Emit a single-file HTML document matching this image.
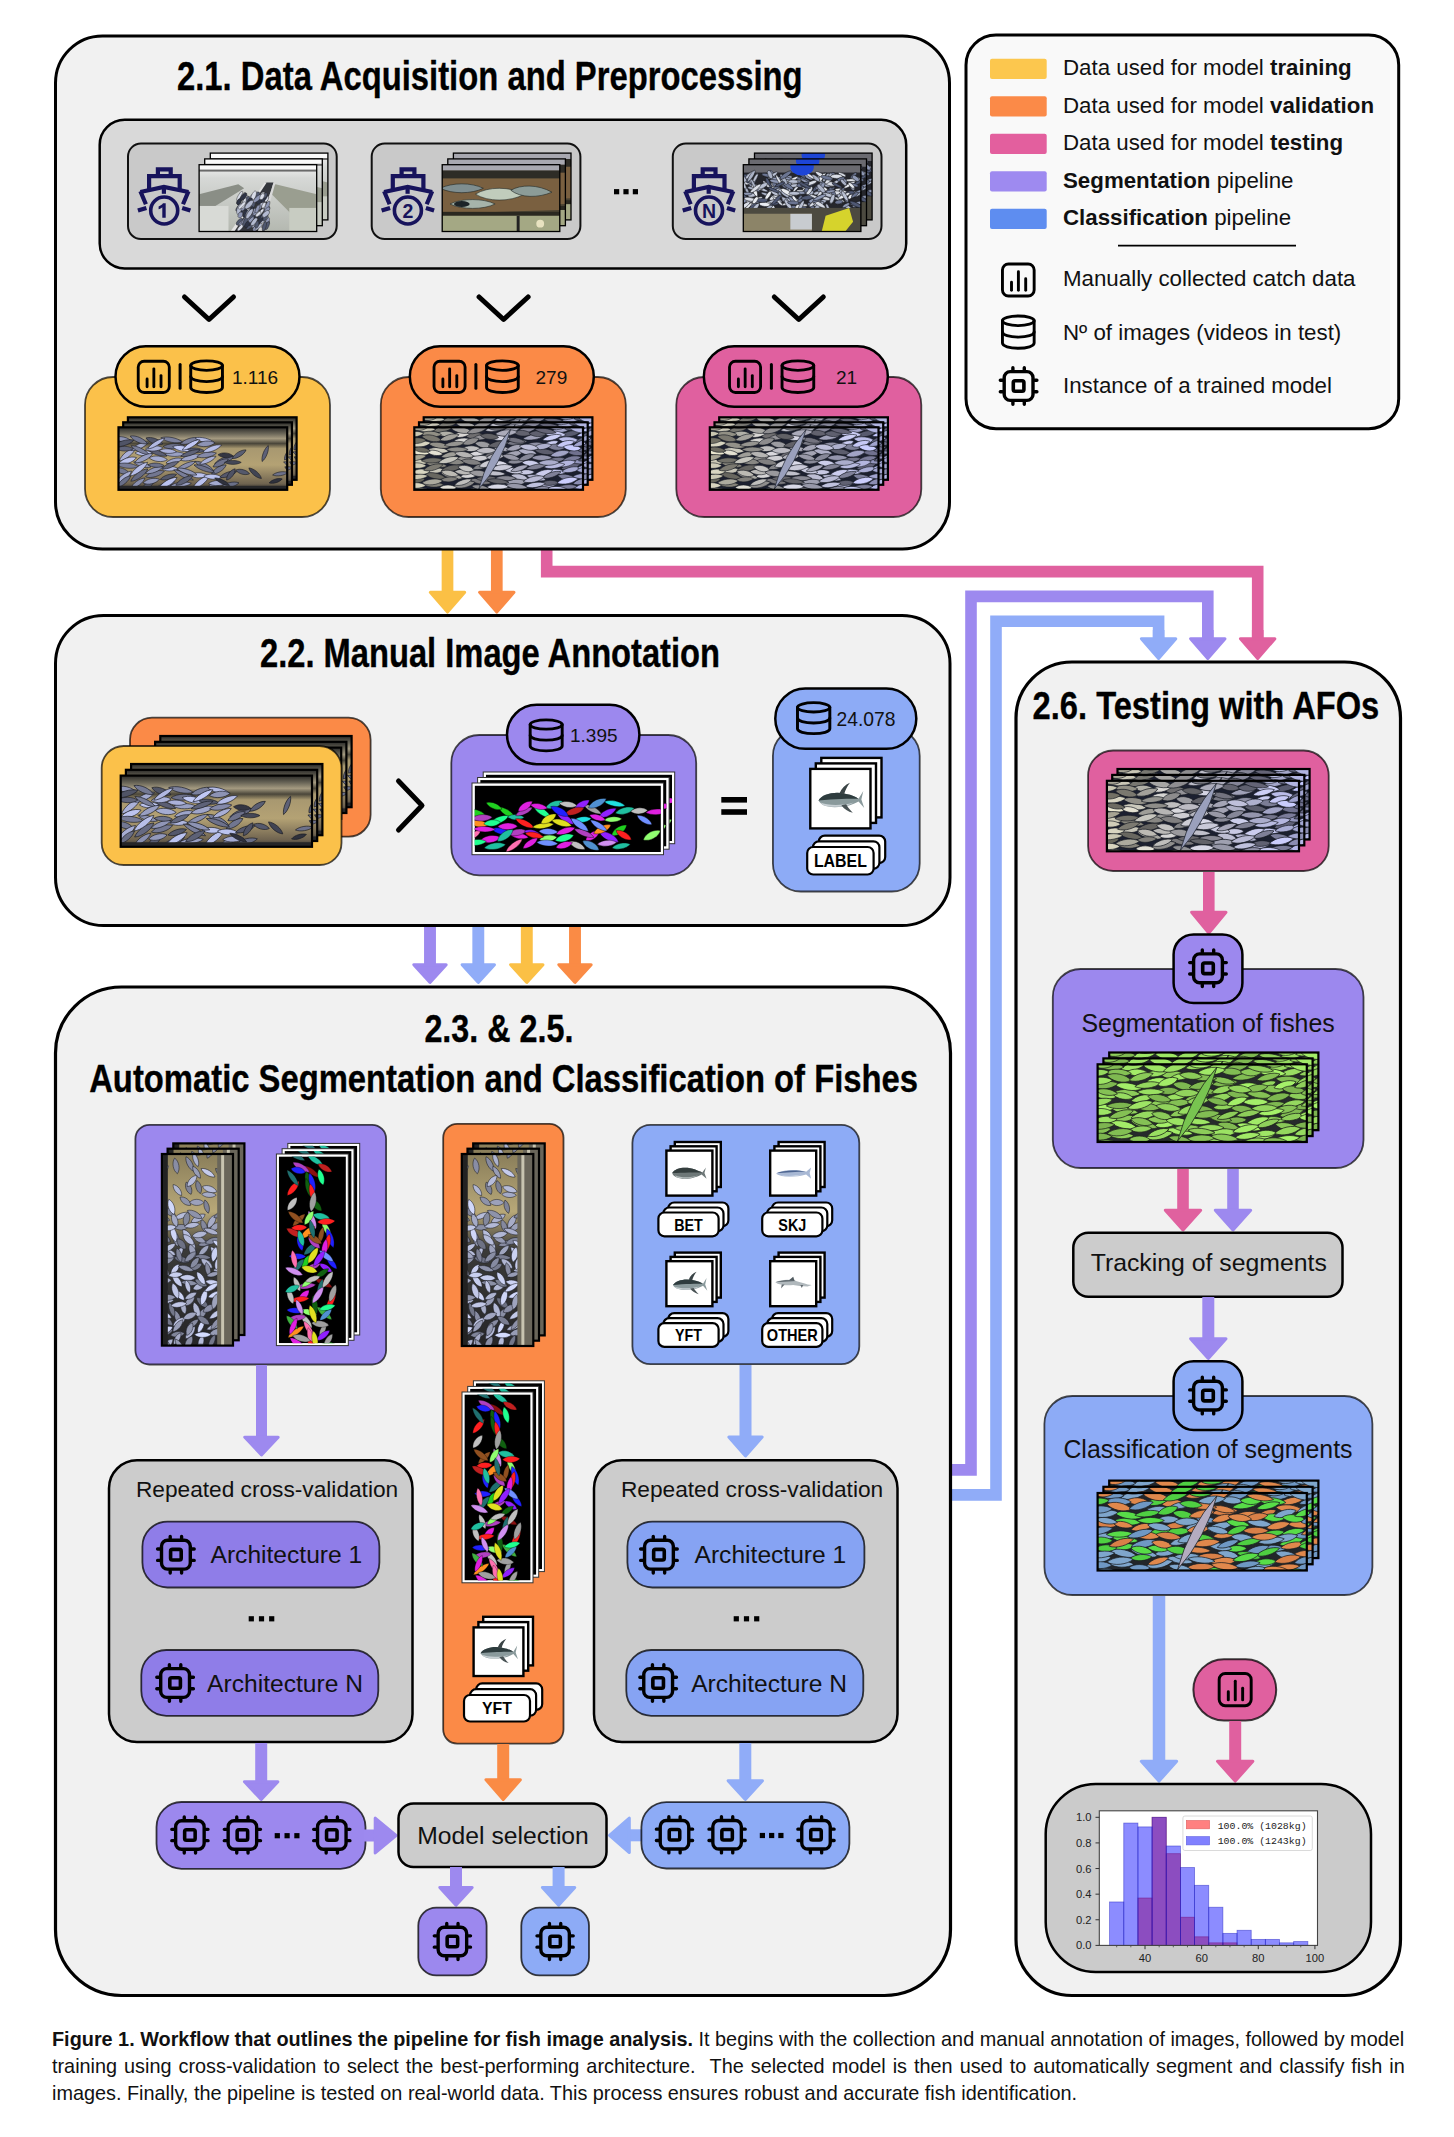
<!DOCTYPE html>
<html><head><meta charset="utf-8"><title>Figure 1</title>
<style>
html,body{margin:0;padding:0;background:#fff;}
body{width:1454px;height:2137px;position:relative;overflow:hidden;font-family:"Liberation Sans",sans-serif;}
svg{position:absolute;left:0;top:0;}
.cap{position:absolute;left:52px;width:1352px;font-size:19.85px;line-height:27.2px;color:#111;white-space:nowrap;}
.j{text-align:justify;text-align-last:justify;white-space:normal;}
</style></head><body>
<svg width="1454" height="2137" viewBox="0 0 1454 2137">
<defs><symbol id="pile_tuna" viewBox="0 0 210 78" preserveAspectRatio="none"><rect width="210" height="78" fill="#000"/><rect width="210" height="78" fill="#1c2030"/><g stroke="#141820" stroke-width="0.7"><path d="M-13.1 0C-6.6-4.9 6.6-4.9 13.1 0C6.6 4.9-6.6 4.9-13.1 0Z" fill="#adadb4" transform="translate(90.9 81.5)rotate(8)"/><path d="M-12.1 0C-6.1-4.3 6.1-4.3 12.1 0C6.1 4.3-6.1 4.3-12.1 0Z" fill="#c5c3b6" transform="translate(26.0 54.2)rotate(-6)"/><path d="M-11.0 0C-5.5-4.9 5.5-4.9 11.0 0C5.5 4.9-5.5 4.9-11.0 0Z" fill="#bdbed3" transform="translate(131.1 61.9)rotate(12)"/><path d="M-13.0 0C-6.5-4.1 6.5-4.1 13.0 0C6.5 4.1-6.5 4.1-13.0 0Z" fill="#bfc3ff" transform="translate(231.1 46.5)rotate(5)"/><path d="M-11.4 0C-5.7-4.8 5.7-4.8 11.4 0C5.7 4.8-5.7 4.8-11.4 0Z" fill="#bfbebf" transform="translate(70.8 26.7)rotate(-1)"/><path d="M-11.5 0C-5.8-4.1 5.8-4.1 11.5 0C5.8 4.1-5.8 4.1-11.5 0Z" fill="#c5c7ef" transform="translate(177.6 55.6)rotate(4)"/><path d="M-13.6 0C-6.8-4.7 6.8-4.7 13.6 0C6.8 4.7-6.8 4.7-13.6 0Z" fill="#686760" transform="translate(26.1 60.7)rotate(12)"/><path d="M-12.1 0C-6.0-4.8 6.0-4.8 12.1 0C6.0 4.8-6.0 4.8-12.1 0Z" fill="#a3a192" transform="translate(10.1 79.5)rotate(5)"/><path d="M-10.7 0C-5.3-4.6 5.3-4.6 10.7 0C5.3 4.6-5.3 4.6-10.7 0Z" fill="#c9cbf0" transform="translate(169.3 21.0)rotate(-20)"/><path d="M-12.5 0C-6.2-5.0 6.2-5.0 12.5 0C6.2 5.0-6.2 5.0-12.5 0Z" fill="#a4a6ca" transform="translate(184.0 2.5)rotate(-11)"/><path d="M-10.5 0C-5.3-4.3 5.3-4.3 10.5 0C5.3 4.3-5.3 4.3-10.5 0Z" fill="#c8c9e3" transform="translate(139.3 56.1)rotate(-2)"/><path d="M-10.7 0C-5.3-5.2 5.3-5.2 10.7 0C5.3 5.2-5.3 5.2-10.7 0Z" fill="#6f6e70" transform="translate(75.0 10.4)rotate(-5)"/><path d="M-11.4 0C-5.7-4.5 5.7-4.5 11.4 0C5.7 4.5-5.7 4.5-11.4 0Z" fill="#9f9e98" transform="translate(44.7 34.4)rotate(-13)"/><path d="M-12.4 0C-6.2-4.2 6.2-4.2 12.4 0C6.2 4.2-6.2 4.2-12.4 0Z" fill="#85837a" transform="translate(24.1 71.5)rotate(1)"/><path d="M-13.4 0C-6.7-5.2 6.7-5.2 13.4 0C6.7 5.2-6.7 5.2-13.4 0Z" fill="#9fa0b0" transform="translate(126.1 68.7)rotate(-4)"/><path d="M-13.8 0C-6.9-4.4 6.9-4.4 13.8 0C6.9 4.4-6.9 4.4-13.8 0Z" fill="#a0a1b8" transform="translate(148.7 12.2)rotate(-10)"/><path d="M-12.9 0C-6.5-4.6 6.5-4.6 12.9 0C6.5 4.6-6.5 4.6-12.9 0Z" fill="#5c5d6d" transform="translate(162.6 30.5)rotate(8)"/><path d="M-13.0 0C-6.5-4.8 6.5-4.8 13.0 0C6.5 4.8-6.5 4.8-13.0 0Z" fill="#777884" transform="translate(127.8 18.9)rotate(-6)"/><path d="M-13.9 0C-6.9-4.5 6.9-4.5 13.9 0C6.9 4.5-6.9 4.5-13.9 0Z" fill="#89877e" transform="translate(27.3 46.4)rotate(9)"/><path d="M-12.3 0C-6.1-5.0 6.1-5.0 12.3 0C6.1 5.0-6.1 5.0-12.3 0Z" fill="#d5d4d5" transform="translate(69.5 59.5)rotate(-11)"/><path d="M-11.5 0C-5.8-5.2 5.8-5.2 11.5 0C5.8 5.2-5.8 5.2-11.5 0Z" fill="#adb0e2" transform="translate(218.9 82.2)rotate(-16)"/><path d="M-13.3 0C-6.7-4.9 6.7-4.9 13.3 0C6.7 4.9-6.7 4.9-13.3 0Z" fill="#787771" transform="translate(36.0 2.0)rotate(-14)"/><path d="M-13.0 0C-6.5-4.6 6.5-4.6 13.0 0C6.5 4.6-6.5 4.6-13.0 0Z" fill="#cccabd" transform="translate(30.3 28.8)rotate(5)"/><path d="M-13.8 0C-6.9-4.1 6.9-4.1 13.8 0C6.9 4.1-6.9 4.1-13.8 0Z" fill="#6f6f78" transform="translate(114.0 77.6)rotate(4)"/><path d="M-10.8 0C-5.4-4.2 5.4-4.2 10.8 0C5.4 4.2-5.4 4.2-10.8 0Z" fill="#aaaab7" transform="translate(109.0 26.8)rotate(8)"/><path d="M-12.7 0C-6.3-4.7 6.3-4.7 12.7 0C6.3 4.7-6.3 4.7-12.7 0Z" fill="#6f6e75" transform="translate(99.7 33.2)rotate(-13)"/><path d="M-13.0 0C-6.5-4.5 6.5-4.5 13.0 0C6.5 4.5-6.5 4.5-13.0 0Z" fill="#585a6f" transform="translate(194.9 8.0)rotate(-12)"/><path d="M-11.1 0C-5.6-4.6 5.6-4.6 11.1 0C5.6 4.6-5.6 4.6-11.1 0Z" fill="#d9d6c1" transform="translate(8.5 55.6)rotate(-2)"/><path d="M-11.6 0C-5.8-4.5 5.8-4.5 11.6 0C5.8 4.5-5.8 4.5-11.6 0Z" fill="#70718e" transform="translate(202.2 31.9)rotate(4)"/><path d="M-11.7 0C-5.8-4.1 5.8-4.1 11.7 0C5.8 4.1-5.8 4.1-11.7 0Z" fill="#73748b" transform="translate(176.4 40.6)rotate(-7)"/><path d="M-13.9 0C-6.9-4.7 6.9-4.7 13.9 0C6.9 4.7-6.9 4.7-13.9 0Z" fill="#d8d8e6" transform="translate(103.8 74.4)rotate(-2)"/><path d="M-12.5 0C-6.2-4.9 6.2-4.9 12.5 0C6.2 4.9-6.2 4.9-12.5 0Z" fill="#cecdd2" transform="translate(80.8 38.6)rotate(-3)"/><path d="M-11.3 0C-5.7-5.1 5.7-5.1 11.3 0C5.7 5.1-5.7 5.1-11.3 0Z" fill="#7b7d95" transform="translate(176.7 24.8)rotate(4)"/><path d="M-12.4 0C-6.2-4.4 6.2-4.4 12.4 0C6.2 4.4-6.2 4.4-12.4 0Z" fill="#cfd0ed" transform="translate(144.8 -4.4)rotate(4)"/><path d="M-13.9 0C-6.9-4.8 6.9-4.8 13.9 0C6.9 4.8-6.9 4.8-13.9 0Z" fill="#a8a7a1" transform="translate(46.8 60.3)rotate(14)"/><path d="M-11.7 0C-5.9-4.4 5.9-4.4 11.7 0C5.9 4.4-5.9 4.4-11.7 0Z" fill="#aaabcb" transform="translate(168.0 71.9)rotate(-15)"/><path d="M-13.9 0C-6.9-4.3 6.9-4.3 13.9 0C6.9 4.3-6.9 4.3-13.9 0Z" fill="#7a797d" transform="translate(82.2 67.5)rotate(10)"/><path d="M-11.8 0C-5.9-5.0 5.9-5.0 11.8 0C5.9 5.0-5.9 5.0-11.8 0Z" fill="#ccceea" transform="translate(145.4 45.0)rotate(7)"/><path d="M-11.3 0C-5.7-4.5 5.7-4.5 11.3 0C5.7 4.5-5.7 4.5-11.3 0Z" fill="#bab9b7" transform="translate(61.3 55.8)rotate(4)"/><path d="M-13.3 0C-6.6-4.1 6.6-4.1 13.3 0C6.6 4.1-6.6 4.1-13.3 0Z" fill="#c4c8ff" transform="translate(215.0 7.8)rotate(-13)"/><path d="M-12.0 0C-6.0-4.8 6.0-4.8 12.0 0C6.0 4.8-6.0 4.8-12.0 0Z" fill="#cacbdf" transform="translate(122.8 54.1)rotate(11)"/><path d="M-12.8 0C-6.4-4.1 6.4-4.1 12.8 0C6.4 4.1-6.4 4.1-12.8 0Z" fill="#7f8093" transform="translate(151.8 49.4)rotate(-11)"/><path d="M-13.8 0C-6.9-4.7 6.9-4.7 13.8 0C6.9 4.7-6.9 4.7-13.8 0Z" fill="#939189" transform="translate(31.0 22.4)rotate(9)"/><path d="M-13.2 0C-6.6-4.1 6.6-4.1 13.2 0C6.6 4.1-6.6 4.1-13.2 0Z" fill="#686b8a" transform="translate(227.0 20.2)rotate(10)"/><path d="M-12.2 0C-6.1-4.6 6.1-4.6 12.2 0C6.1 4.6-6.1 4.6-12.2 0Z" fill="#686a84" transform="translate(199.2 -0.1)rotate(-9)"/><path d="M-12.6 0C-6.3-5.1 6.3-5.1 12.6 0C6.3 5.1-6.3 5.1-12.6 0Z" fill="#606178" transform="translate(194.9 48.8)rotate(-15)"/><path d="M-11.7 0C-5.8-4.5 5.8-4.5 11.7 0C5.8 4.5-5.8 4.5-11.7 0Z" fill="#7b7c9a" transform="translate(196.3 39.4)rotate(-11)"/><path d="M-10.9 0C-5.5-4.6 5.5-4.6 10.9 0C5.5 4.6-5.5 4.6-10.9 0Z" fill="#b1b0a8" transform="translate(40.1 8.3)rotate(3)"/><path d="M-11.1 0C-5.5-4.6 5.5-4.6 11.1 0C5.5 4.6-5.5 4.6-11.1 0Z" fill="#66655a" transform="translate(2.5 66.5)rotate(-9)"/><path d="M-13.4 0C-6.7-4.1 6.7-4.1 13.4 0C6.7 4.1-6.7 4.1-13.4 0Z" fill="#b7b6b6" transform="translate(67.2 80.9)rotate(-19)"/><path d="M-13.9 0C-7.0-5.1 7.0-5.1 13.9 0C7.0 5.1-7.0 5.1-13.9 0Z" fill="#858597" transform="translate(140.2 2.9)rotate(-17)"/><path d="M-12.5 0C-6.2-4.2 6.2-4.2 12.5 0C6.2 4.2-6.2 4.2-12.5 0Z" fill="#7f8096" transform="translate(162.7 -4.3)rotate(-14)"/><path d="M-13.8 0C-6.9-4.1 6.9-4.1 13.8 0C6.9 4.1-6.9 4.1-13.8 0Z" fill="#b4b7e8" transform="translate(209.3 73.7)rotate(-19)"/><path d="M-10.9 0C-5.5-5.2 5.5-5.2 10.9 0C5.5 5.2-5.5 5.2-10.9 0Z" fill="#9c9ca1" transform="translate(86.1 21.7)rotate(11)"/><path d="M-11.2 0C-5.6-4.5 5.6-4.5 11.2 0C5.6 4.5-5.6 4.5-11.2 0Z" fill="#88878b" transform="translate(84.6 -3.0)rotate(-16)"/><path d="M-13.0 0C-6.5-4.6 6.5-4.6 13.0 0C6.5 4.6-6.5 4.6-13.0 0Z" fill="#9495ad" transform="translate(158.7 37.9)rotate(-0)"/><path d="M-12.2 0C-6.1-4.3 6.1-4.3 12.2 0C6.1 4.3-6.1 4.3-12.2 0Z" fill="#a9acd4" transform="translate(195.7 52.9)rotate(-11)"/><path d="M-13.8 0C-6.9-4.4 6.9-4.4 13.8 0C6.9 4.4-6.9 4.4-13.8 0Z" fill="#67666b" transform="translate(90.8 64.0)rotate(-0)"/><path d="M-10.5 0C-5.3-4.1 5.3-4.1 10.5 0C5.3 4.1-5.3 4.1-10.5 0Z" fill="#e4e1d2" transform="translate(25.4 31.9)rotate(10)"/><path d="M-12.9 0C-6.5-4.9 6.5-4.9 12.9 0C6.5 4.9-6.5 4.9-12.9 0Z" fill="#616168" transform="translate(104.6 21.1)rotate(-11)"/><path d="M-12.9 0C-6.5-4.4 6.5-4.4 12.9 0C6.5 4.4-6.5 4.4-12.9 0Z" fill="#bcbcc7" transform="translate(100.8 1.6)rotate(-11)"/><path d="M-13.7 0C-6.9-5.0 6.9-5.0 13.7 0C6.9 5.0-6.9 5.0-13.7 0Z" fill="#babce8" transform="translate(192.4 15.8)rotate(6)"/><path d="M-13.5 0C-6.8-5.0 6.8-5.0 13.5 0C6.8 5.0-6.8 5.0-13.5 0Z" fill="#656461" transform="translate(46.8 51.1)rotate(-12)"/><path d="M-11.1 0C-5.5-4.6 5.5-4.6 11.1 0C5.5 4.6-5.5 4.6-11.1 0Z" fill="#cecbb7" transform="translate(5.3 43.4)rotate(5)"/><path d="M-12.7 0C-6.4-4.6 6.4-4.6 12.7 0C6.4 4.6-6.4 4.6-12.7 0Z" fill="#8082a7" transform="translate(220.3 33.7)rotate(-8)"/><path d="M-13.5 0C-6.8-5.0 6.8-5.0 13.5 0C6.8 5.0-6.8 5.0-13.5 0Z" fill="#a4a4b4" transform="translate(122.9 33.6)rotate(-14)"/><path d="M-12.8 0C-6.4-5.2 6.4-5.2 12.8 0C6.4 5.2-6.4 5.2-12.8 0Z" fill="#595a70" transform="translate(200.7 80.4)rotate(8)"/><path d="M-11.5 0C-5.7-4.7 5.7-4.7 11.5 0C5.7 4.7-5.7 4.7-11.5 0Z" fill="#62626e" transform="translate(134.5 7.4)rotate(5)"/><path d="M-12.5 0C-6.2-4.2 6.2-4.2 12.5 0C6.2 4.2-6.2 4.2-12.5 0Z" fill="#73737f" transform="translate(126.1 16.3)rotate(11)"/><path d="M-13.9 0C-7.0-4.9 7.0-4.9 13.9 0C7.0 4.9-7.0 4.9-13.9 0Z" fill="#c9cbf3" transform="translate(175.1 8.4)rotate(5)"/><path d="M-12.9 0C-6.4-4.8 6.4-4.8 12.9 0C6.4 4.8-6.4 4.8-12.9 0Z" fill="#77777f" transform="translate(105.7 -0.1)rotate(-7)"/><path d="M-13.6 0C-6.8-5.0 6.8-5.0 13.6 0C6.8 5.0-6.8 5.0-13.6 0Z" fill="#c9c6b5" transform="translate(12.9 1.9)rotate(4)"/><path d="M-11.3 0C-5.7-4.5 5.7-4.5 11.3 0C5.7 4.5-5.7 4.5-11.3 0Z" fill="#d9d7d4" transform="translate(59.2 9.0)rotate(-10)"/><path d="M-11.5 0C-5.8-4.7 5.8-4.7 11.5 0C5.8 4.7-5.8 4.7-11.5 0Z" fill="#c6c8f5" transform="translate(188.2 20.6)rotate(-15)"/><path d="M-12.9 0C-6.4-4.8 6.4-4.8 12.9 0C6.4 4.8-6.4 4.8-12.9 0Z" fill="#929085" transform="translate(21.0 8.5)rotate(3)"/><path d="M-13.9 0C-6.9-5.2 6.9-5.2 13.9 0C6.9 5.2-6.9 5.2-13.9 0Z" fill="#8f8e8d" transform="translate(61.9 71.4)rotate(-12)"/><path d="M-12.1 0C-6.0-4.1 6.0-4.1 12.1 0C6.0 4.1-6.0 4.1-12.1 0Z" fill="#9395bc" transform="translate(208.7 42.5)rotate(-5)"/><path d="M-10.7 0C-5.3-4.9 5.3-4.9 10.7 0C5.3 4.9-5.3 4.9-10.7 0Z" fill="#c4c3c2" transform="translate(64.8 51.5)rotate(12)"/><path d="M-13.2 0C-6.6-4.1 6.6-4.1 13.2 0C6.6 4.1-6.6 4.1-13.2 0Z" fill="#636581" transform="translate(216.9 37.5)rotate(-19)"/><path d="M-10.9 0C-5.5-4.4 5.5-4.4 10.9 0C5.5 4.4-5.5 4.4-10.9 0Z" fill="#cac7b1" transform="translate(0.7 8.5)rotate(-5)"/><path d="M-11.7 0C-5.8-4.6 5.8-4.6 11.7 0C5.8 4.6-5.8 4.6-11.7 0Z" fill="#d0cdb8" transform="translate(3.4 47.8)rotate(1)"/><path d="M-12.8 0C-6.4-4.8 6.4-4.8 12.8 0C6.4 4.8-6.4 4.8-12.8 0Z" fill="#d7d4c0" transform="translate(7.9 20.9)rotate(-7)"/><path d="M-10.7 0C-5.4-4.8 5.4-4.8 10.7 0C5.4 4.8-5.4 4.8-10.7 0Z" fill="#5f606f" transform="translate(153.8 8.0)rotate(2)"/><path d="M-12.9 0C-6.4-4.9 6.4-4.9 12.9 0C6.4 4.9-6.4 4.9-12.9 0Z" fill="#cbccee" transform="translate(159.9 57.5)rotate(-18)"/><path d="M-13.2 0C-6.6-4.3 6.6-4.3 13.2 0C6.6 4.3-6.6 4.3-13.2 0Z" fill="#61637e" transform="translate(212.6 14.6)rotate(-19)"/><path d="M-12.0 0C-6.0-4.5 6.0-4.5 12.0 0C6.0 4.5-6.0 4.5-12.0 0Z" fill="#878795" transform="translate(125.1 -1.2)rotate(-20)"/><path d="M-11.5 0C-5.7-4.1 5.7-4.1 11.5 0C5.7 4.1-5.7 4.1-11.5 0Z" fill="#a7a7ba" transform="translate(131.0 51.2)rotate(-18)"/><path d="M-11.0 0C-5.5-4.8 5.5-4.8 11.0 0C5.5 4.8-5.5 4.8-11.0 0Z" fill="#c4c7ef" transform="translate(179.6 -0.9)rotate(-8)"/><path d="M-13.2 0C-6.6-4.1 6.6-4.1 13.2 0C6.6 4.1-6.6 4.1-13.2 0Z" fill="#888893" transform="translate(113.7 63.6)rotate(0)"/><path d="M-12.9 0C-6.5-4.8 6.5-4.8 12.9 0C6.5 4.8-6.5 4.8-12.9 0Z" fill="#bec2fa" transform="translate(221.2 -4.5)rotate(-17)"/><path d="M-13.1 0C-6.5-5.1 6.5-5.1 13.1 0C6.5 5.1-6.5 5.1-13.1 0Z" fill="#a7a6a4" transform="translate(58.8 3.5)rotate(10)"/><path d="M-12.7 0C-6.3-5.0 6.3-5.0 12.7 0C6.3 5.0-6.3 5.0-12.7 0Z" fill="#7c7e9b" transform="translate(190.7 62.8)rotate(13)"/><path d="M-12.3 0C-6.2-4.1 6.2-4.1 12.3 0C6.2 4.1-6.2 4.1-12.3 0Z" fill="#7f8098" transform="translate(171.0 59.3)rotate(-18)"/><path d="M-12.7 0C-6.4-4.6 6.4-4.6 12.7 0C6.4 4.6-6.4 4.6-12.7 0Z" fill="#7c7a71" transform="translate(23.8 50.0)rotate(-16)"/><path d="M-13.6 0C-6.8-4.0 6.8-4.0 13.6 0C6.8 4.0-6.8 4.0-13.6 0Z" fill="#646476" transform="translate(163.2 4.5)rotate(9)"/><path d="M-12.1 0C-6.1-4.1 6.1-4.1 12.1 0C6.1 4.1-6.1 4.1-12.1 0Z" fill="#666889" transform="translate(233.8 60.9)rotate(-1)"/><path d="M-11.8 0C-5.9-4.8 5.9-4.8 11.8 0C5.9 4.8-5.9 4.8-11.8 0Z" fill="#afb0c7" transform="translate(140.9 30.7)rotate(10)"/><path d="M-13.8 0C-6.9-5.2 6.9-5.2 13.8 0C6.9 5.2-6.9 5.2-13.8 0Z" fill="#eae7cf" transform="translate(5.2 30.5)rotate(11)"/><path d="M-12.6 0C-6.3-5.1 6.3-5.1 12.6 0C6.3 5.1-6.3 5.1-12.6 0Z" fill="#7a786f" transform="translate(21.6 13.7)rotate(12)"/><path d="M-10.9 0C-5.5-4.2 5.5-4.2 10.9 0C5.5 4.2-5.5 4.2-10.9 0Z" fill="#606172" transform="translate(168.7 69.4)rotate(-3)"/><path d="M-11.4 0C-5.7-5.0 5.7-5.0 11.4 0C5.7 5.0-5.7 5.0-11.4 0Z" fill="#c9ccfd" transform="translate(196.7 25.6)rotate(6)"/><path d="M-12.6 0C-6.3-4.1 6.3-4.1 12.6 0C6.3 4.1-6.3 4.1-12.6 0Z" fill="#a8a6a0" transform="translate(44.6 79.2)rotate(7)"/><path d="M-11.9 0C-6.0-4.2 6.0-4.2 11.9 0C6.0 4.2-6.0 4.2-11.9 0Z" fill="#939297" transform="translate(84.0 12.3)rotate(-10)"/><path d="M-10.9 0C-5.5-4.1 5.5-4.1 10.9 0C5.5 4.1-5.5 4.1-10.9 0Z" fill="#82807b" transform="translate(43.6 65.0)rotate(-4)"/><path d="M-10.8 0C-5.4-5.1 5.4-5.1 10.8 0C5.4 5.1-5.4 5.1-10.8 0Z" fill="#a6a6b6" transform="translate(121.1 2.6)rotate(-13)"/><path d="M-13.3 0C-6.7-4.5 6.7-4.5 13.3 0C6.7 4.5-6.7 4.5-13.3 0Z" fill="#c0c1d8" transform="translate(134.0 81.0)rotate(-16)"/><path d="M-12.2 0C-6.1-5.2 6.1-5.2 12.2 0C6.1 5.2-6.1 5.2-12.2 0Z" fill="#9a999d" transform="translate(80.9 57.6)rotate(7)"/><path d="M-10.6 0C-5.3-4.2 5.3-4.2 10.6 0C5.3 4.2-5.3 4.2-10.6 0Z" fill="#979695" transform="translate(62.6 38.6)rotate(-9)"/><path d="M-11.1 0C-5.5-4.1 5.5-4.1 11.1 0C5.5 4.1-5.5 4.1-11.1 0Z" fill="#6d6b61" transform="translate(9.0 27.9)rotate(9)"/><path d="M-12.6 0C-6.3-4.8 6.3-4.8 12.6 0C6.3 4.8-6.3 4.8-12.6 0Z" fill="#d6d5d3" transform="translate(62.0 17.0)rotate(0)"/><path d="M-13.7 0C-6.9-4.0 6.9-4.0 13.7 0C6.9 4.0-6.9 4.0-13.7 0Z" fill="#636369" transform="translate(104.2 67.4)rotate(6)"/><path d="M-12.5 0C-6.3-4.6 6.3-4.6 12.5 0C6.3 4.6-6.3 4.6-12.5 0Z" fill="#a3a19b" transform="translate(43.7 12.7)rotate(-16)"/><path d="M-12.8 0C-6.4-4.2 6.4-4.2 12.8 0C6.4 4.2-6.4 4.2-12.8 0Z" fill="#bfc1dd" transform="translate(150.5 71.9)rotate(-8)"/><path d="M-13.9 0C-6.9-4.1 6.9-4.1 13.9 0C6.9 4.1-6.9 4.1-13.9 0Z" fill="#74736e" transform="translate(44.7 -3.5)rotate(-17)"/><path d="M-11.2 0C-5.6-4.0 5.6-4.0 11.2 0C5.6 4.0-5.6 4.0-11.2 0Z" fill="#bfbebc" transform="translate(60.9 68.5)rotate(-18)"/><path d="M-14.0 0C-7.0-4.3 7.0-4.3 14.0 0C7.0 4.3-7.0 4.3-14.0 0Z" fill="#d4d4e2" transform="translate(105.5 13.2)rotate(5)"/><path d="M-13.9 0C-7.0-5.1 7.0-5.1 13.9 0C7.0 5.1-7.0 5.1-13.9 0Z" fill="#ababba" transform="translate(114.6 7.0)rotate(-6)"/><path d="M-12.8 0C-6.4-5.0 6.4-5.0 12.8 0C6.4 5.0-6.4 5.0-12.8 0Z" fill="#b4b6df" transform="translate(188.3 45.3)rotate(-11)"/><path d="M-13.5 0C-6.7-4.2 6.7-4.2 13.5 0C6.7 4.2-6.7 4.2-13.5 0Z" fill="#727169" transform="translate(22.3 41.3)rotate(-2)"/><path d="M-12.3 0C-6.2-4.6 6.2-4.6 12.3 0C6.2 4.6-6.2 4.6-12.3 0Z" fill="#8f90a5" transform="translate(149.4 22.1)rotate(-6)"/><path d="M-11.7 0C-5.9-5.1 5.9-5.1 11.7 0C5.9 5.1-5.9 5.1-11.7 0Z" fill="#676987" transform="translate(215.8 27.5)rotate(-9)"/><path d="M-12.0 0C-6.0-4.9 6.0-4.9 12.0 0C6.0 4.9-6.0 4.9-12.0 0Z" fill="#b6baed" transform="translate(215.3 50.5)rotate(-1)"/><path d="M-13.6 0C-6.8-4.3 6.8-4.3 13.6 0C6.8 4.3-6.8 4.3-13.6 0Z" fill="#7b7c98" transform="translate(189.5 74.9)rotate(-6)"/><path d="M-11.3 0C-5.6-4.6 5.6-4.6 11.3 0C5.6 4.6-5.6 4.6-11.3 0Z" fill="#8b8db2" transform="translate(208.4 67.6)rotate(-15)"/><path d="M-11.1 0C-5.5-4.8 5.5-4.8 11.1 0C5.5 4.8-5.5 4.8-11.1 0Z" fill="#dadae9" transform="translate(107.3 45.6)rotate(12)"/><path d="M-11.5 0C-5.7-4.6 5.7-4.6 11.5 0C5.7 4.6-5.7 4.6-11.5 0Z" fill="#d7d4be" transform="translate(2.8 72.6)rotate(0)"/><path d="M-12.1 0C-6.1-4.2 6.1-4.2 12.1 0C6.1 4.2-6.1 4.2-12.1 0Z" fill="#cccef5" transform="translate(171.4 12.8)rotate(-14)"/><path d="M-11.3 0C-5.6-4.3 5.6-4.3 11.3 0C5.6 4.3-5.6 4.3-11.3 0Z" fill="#a09e93" transform="translate(25.0 -3.1)rotate(4)"/><path d="M-13.3 0C-6.6-4.6 6.6-4.6 13.3 0C6.6 4.6-6.6 4.6-13.3 0Z" fill="#a7a493" transform="translate(2.0 38.0)rotate(-11)"/><path d="M-12.4 0C-6.2-4.5 6.2-4.5 12.4 0C6.2 4.5-6.2 4.5-12.4 0Z" fill="#b2b3cf" transform="translate(151.8 62.9)rotate(13)"/><path d="M-13.7 0C-6.8-4.6 6.8-4.6 13.7 0C6.8 4.6-6.8 4.6-13.7 0Z" fill="#9798a8" transform="translate(127.5 73.7)rotate(7)"/><path d="M-13.9 0C-7.0-5.1 7.0-5.1 13.9 0C7.0 5.1-7.0 5.1-13.9 0Z" fill="#888783" transform="translate(49.0 42.7)rotate(6)"/><path d="M-12.9 0C-6.4-4.1 6.4-4.1 12.9 0C6.4 4.1-6.4 4.1-12.9 0Z" fill="#969591" transform="translate(50.2 20.8)rotate(-7)"/><path d="M-11.8 0C-5.9-5.0 5.9-5.0 11.8 0C5.9 5.0-5.9 5.0-11.8 0Z" fill="#666888" transform="translate(227.0 66.0)rotate(8)"/><path d="M-11.7 0C-5.8-4.2 5.8-4.2 11.7 0C5.8 4.2-5.8 4.2-11.7 0Z" fill="#8f8f93" transform="translate(82.7 75.3)rotate(11)"/><path d="M-13.4 0C-6.7-4.9 6.7-4.9 13.4 0C6.7 4.9-6.7 4.9-13.4 0Z" fill="#cbcdfc" transform="translate(190.9 66.6)rotate(-12)"/><path d="M-11.1 0C-5.6-4.1 5.6-4.1 11.1 0C5.6 4.1-5.6 4.1-11.1 0Z" fill="#d9d8dd" transform="translate(78.5 32.7)rotate(-6)"/><path d="M-12.2 0C-6.1-4.9 6.1-4.9 12.2 0C6.1 4.9-6.1 4.9-12.2 0Z" fill="#a2a4c6" transform="translate(181.4 32.9)rotate(-12)"/><path d="M-11.2 0C-5.6-5.1 5.6-5.1 11.2 0C5.6 5.1-5.6 5.1-11.2 0Z" fill="#a8a595" transform="translate(6.2 0.1)rotate(-4)"/><path d="M-13.7 0C-6.8-4.1 6.8-4.1 13.7 0C6.8 4.1-6.8 4.1-13.7 0Z" fill="#8e8d89" transform="translate(53.3 27.7)rotate(-0)"/><path d="M-12.3 0C-6.2-4.8 6.2-4.8 12.3 0C6.2 4.8-6.2 4.8-12.3 0Z" fill="#727064" transform="translate(2.6 16.6)rotate(-3)"/><path d="M-13.3 0C-6.6-5.0 6.6-5.0 13.3 0C6.6 5.0-6.6 5.0-13.3 0Z" fill="#828286" transform="translate(85.1 47.8)rotate(-18)"/><path d="M-12.4 0C-6.2-4.6 6.2-4.6 12.4 0C6.2 4.6-6.2 4.6-12.4 0Z" fill="#b1b4e1" transform="translate(204.9 3.0)rotate(12)"/><path d="M-13.9 0C-6.9-4.8 6.9-4.8 13.9 0C6.9 4.8-6.9 4.8-13.9 0Z" fill="#c9c9d8" transform="translate(109.1 50.3)rotate(-7)"/><path d="M-13.8 0C-6.9-5.0 6.9-5.0 13.8 0C6.9 5.0-6.9 5.0-13.8 0Z" fill="#8e8d90" transform="translate(79.0 3.0)rotate(-18)"/><path d="M-13.2 0C-6.6-4.0 6.6-4.0 13.2 0C6.6 4.0-6.6 4.0-13.2 0Z" fill="#c0c0cb" transform="translate(100.6 57.5)rotate(4)"/><path d="M-13.5 0C-6.8-4.7 6.8-4.7 13.5 0C6.8 4.7-6.8 4.7-13.5 0Z" fill="#b8b9d4" transform="translate(148.9 64.8)rotate(-13)"/><path d="M-11.3 0C-5.6-5.2 5.6-5.2 11.3 0C5.6 5.2-5.6 5.2-11.3 0Z" fill="#b5b5bf" transform="translate(101.1 36.6)rotate(-7)"/><path d="M-12.0 0C-6.0-4.8 6.0-4.8 12.0 0C6.0 4.8-6.0 4.8-12.0 0Z" fill="#b6b5b4" transform="translate(62.1 34.1)rotate(10)"/><path d="M-13.8 0C-6.9-4.3 6.9-4.3 13.8 0C6.9 4.3-6.9 4.3-13.8 0Z" fill="#cbc8b3" transform="translate(3.6 61.9)rotate(-6)"/><path d="M-11.2 0C-5.6-4.2 5.6-4.2 11.2 0C5.6 4.2-5.6 4.2-11.2 0Z" fill="#898a98" transform="translate(127.0 42.4)rotate(-7)"/><path d="M-11.4 0C-5.7-4.8 5.7-4.8 11.4 0C5.7 4.8-5.7 4.8-11.4 0Z" fill="#aeb0cd" transform="translate(159.7 24.0)rotate(-9)"/><path d="M-11.7 0C-5.9-4.4 5.9-4.4 11.7 0C5.9 4.4-5.9 4.4-11.7 0Z" fill="#75789c" transform="translate(228.5 73.9)rotate(13)"/><path d="M-11.3 0C-5.7-4.4 5.7-4.4 11.3 0C5.7 4.4-5.7 4.4-11.3 0Z" fill="#9999a7" transform="translate(120.7 37.4)rotate(13)"/><path d="M-13.2 0C-6.6-4.7 6.6-4.7 13.2 0C6.6 4.7-6.6 4.7-13.2 0Z" fill="#c6c5bd" transform="translate(42.8 40.9)rotate(-15)"/><path d="M-11.2 0C-5.6-4.8 5.6-4.8 11.2 0C5.6 4.8-5.6 4.8-11.2 0Z" fill="#bcbab3" transform="translate(44.3 57.5)rotate(12)"/><path d="M-11.1 0C-5.6-4.8 5.6-4.8 11.1 0C5.6 4.8-5.6 4.8-11.1 0Z" fill="#8a8980" transform="translate(26.9 80.9)rotate(-8)"/><path d="M-13.3 0C-6.6-4.6 6.6-4.6 13.3 0C6.6 4.6-6.6 4.6-13.3 0Z" fill="#c8caf3" transform="translate(178.5 77.3)rotate(4)"/><path d="M-11.3 0C-5.7-4.2 5.7-4.2 11.3 0C5.7 4.2-5.7 4.2-11.3 0Z" fill="#a1a4cf" transform="translate(208.5 19.7)rotate(-18)"/><path d="M-11.0 0C-5.5-4.6 5.5-4.6 11.0 0C5.5 4.6-5.5 4.6-11.0 0Z" fill="#a4a4b5" transform="translate(125.3 25.5)rotate(-15)"/><path d="M-11.4 0C-5.7-4.8 5.7-4.8 11.4 0C5.7 4.8-5.7 4.8-11.4 0Z" fill="#616165" transform="translate(93.7 11.4)rotate(6)"/><path d="M-13.1 0C-6.6-4.7 6.6-4.7 13.1 0C6.6 4.7-6.6 4.7-13.1 0Z" fill="#acaa9e" transform="translate(22.5 68.2)rotate(-6)"/><path d="M-12.7 0C-6.3-4.8 6.3-4.8 12.7 0C6.3 4.8-6.3 4.8-12.7 0Z" fill="#818081" transform="translate(71.2 43.3)rotate(8)"/><path d="M-12.9 0C-6.5-5.1 6.5-5.1 12.9 0C6.5 5.1-6.5 5.1-12.9 0Z" fill="#a3a6d3" transform="translate(215.1 53.1)rotate(-3)"/><path d="M-13.0 0C-6.5-4.9 6.5-4.9 13.0 0C6.5 4.9-6.5 4.9-13.0 0Z" fill="#9293aa" transform="translate(155.5 78.1)rotate(-12)"/><path d="M-13.2 0C-6.6-4.4 6.6-4.4 13.2 0C6.6 4.4-6.6 4.4-13.2 0Z" fill="#b9bbe0" transform="translate(174.3 48.0)rotate(-8)"/><path d="M-13.5 0C-6.7-4.4 6.7-4.4 13.5 0C6.7 4.4-6.7 4.4-13.5 0Z" fill="#a1a3cf" transform="translate(210.9 60.9)rotate(-2)"/><path d="M-12.9 0C-6.4-5.1 6.4-5.1 12.9 0C6.4 5.1-6.4 5.1-12.9 0Z" fill="#b0b3e8" transform="translate(224.5 3.3)rotate(-18)"/><path d="M-10.7 0C-5.3-5.1 5.3-5.1 10.7 0C5.3 5.1-5.3 5.1-10.7 0Z" fill="#8d8c8d" transform="translate(70.5 17.7)rotate(-18)"/><path d="M-13.1 0C-6.5-4.7 6.5-4.7 13.1 0C6.5 4.7-6.5 4.7-13.1 0Z" fill="#9da0d3" transform="translate(234.6 10.0)rotate(11)"/><path d="M-12.5 0C-6.2-5.0 6.2-5.0 12.5 0C6.2 5.0-6.2 5.0-12.5 0Z" fill="#bcbbc3" transform="translate(89.5 28.9)rotate(-1)"/><path d="M-12.0 0C-6.0-4.9 6.0-4.9 12.0 0C6.0 4.9-6.0 4.9-12.0 0Z" fill="#bfc0da" transform="translate(142.7 24.9)rotate(7)"/><path d="M-10.8 0C-5.4-4.6 5.4-4.6 10.8 0C5.4 4.6-5.4 4.6-10.8 0Z" fill="#868798" transform="translate(140.1 37.3)rotate(-19)"/><path d="M-11.8 0C-5.9-4.6 5.9-4.6 11.8 0C5.9 4.6-5.9 4.6-11.8 0Z" fill="#cccbcb" transform="translate(66.5 -2.9)rotate(2)"/><path d="M-11.1 0C-5.6-5.1 5.6-5.1 11.1 0C5.6 5.1-5.6 5.1-11.1 0Z" fill="#ccccd4" transform="translate(91.2 45.6)rotate(-18)"/><path d="M-13.2 0C-6.6-4.6 6.6-4.6 13.2 0C6.6 4.6-6.6 4.6-13.2 0Z" fill="#abadcc" transform="translate(167.5 44.0)rotate(-2)"/><path d="M-10.5 0C-5.3-4.4 5.3-4.4 10.5 0C5.3 4.4-5.3 4.4-10.5 0Z" fill="#e1dfd6" transform="translate(42.1 75.3)rotate(1)"/><path d="M-42 0Q0-10 42 0Q0 10-42 0Z" fill="#9aa0bc" transform="translate(100 40)rotate(-62)"/></g></symbol><symbol id="pile_green" viewBox="0 0 210 78" preserveAspectRatio="none"><rect width="210" height="78" fill="#000"/><rect width="210" height="78" fill="#262a2c"/><g stroke="#1a2018" stroke-width="0.7"><path d="M-13.1 0C-6.6-4.9 6.6-4.9 13.1 0C6.6 4.9-6.6 4.9-13.1 0Z" fill="#8fd15c" transform="translate(90.9 81.5)rotate(8)"/><path d="M-12.1 0C-6.1-4.3 6.1-4.3 12.1 0C6.1 4.3-6.1 4.3-12.1 0Z" fill="#8bcb59" transform="translate(26.0 54.2)rotate(-6)"/><path d="M-11.0 0C-5.5-4.9 5.5-4.9 11.0 0C5.5 4.9-5.5 4.9-11.0 0Z" fill="#81bb52" transform="translate(131.1 61.9)rotate(12)"/><path d="M-13.0 0C-6.5-4.1 6.5-4.1 13.0 0C6.5 4.1-6.5 4.1-13.0 0Z" fill="#a1eb67" transform="translate(231.1 46.5)rotate(5)"/><path d="M-11.4 0C-5.7-4.8 5.7-4.8 11.4 0C5.7 4.8-5.7 4.8-11.4 0Z" fill="#7bb34e" transform="translate(70.8 26.7)rotate(-1)"/><path d="M-11.5 0C-5.8-4.1 5.8-4.1 11.5 0C5.8 4.1-5.8 4.1-11.5 0Z" fill="#91d35d" transform="translate(177.6 55.6)rotate(4)"/><path d="M-13.6 0C-6.8-4.7 6.8-4.7 13.6 0C6.8 4.7-6.8 4.7-13.6 0Z" fill="#a3ed68" transform="translate(26.1 60.7)rotate(12)"/><path d="M-12.1 0C-6.0-4.8 6.0-4.8 12.1 0C6.0 4.8-6.0 4.8-12.1 0Z" fill="#7eb851" transform="translate(10.1 79.5)rotate(5)"/><path d="M-10.7 0C-5.3-4.6 5.3-4.6 10.7 0C5.3 4.6-5.3 4.6-10.7 0Z" fill="#93d75e" transform="translate(169.3 21.0)rotate(-20)"/><path d="M-12.5 0C-6.2-5.0 6.2-5.0 12.5 0C6.2 5.0-6.2 5.0-12.5 0Z" fill="#96db60" transform="translate(184.0 2.5)rotate(-11)"/><path d="M-10.5 0C-5.3-4.3 5.3-4.3 10.5 0C5.3 4.3-5.3 4.3-10.5 0Z" fill="#7cb54f" transform="translate(139.3 56.1)rotate(-2)"/><path d="M-10.7 0C-5.3-5.2 5.3-5.2 10.7 0C5.3 5.2-5.3 5.2-10.7 0Z" fill="#8ccb59" transform="translate(75.0 10.4)rotate(-5)"/><path d="M-11.4 0C-5.7-4.5 5.7-4.5 11.4 0C5.7 4.5-5.7 4.5-11.4 0Z" fill="#9ae062" transform="translate(44.7 34.4)rotate(-13)"/><path d="M-12.4 0C-6.2-4.2 6.2-4.2 12.4 0C6.2 4.2-6.2 4.2-12.4 0Z" fill="#8fd05b" transform="translate(24.1 71.5)rotate(1)"/><path d="M-13.4 0C-6.7-5.2 6.7-5.2 13.4 0C6.7 5.2-6.7 5.2-13.4 0Z" fill="#9be263" transform="translate(126.1 68.7)rotate(-4)"/><path d="M-13.8 0C-6.9-4.4 6.9-4.4 13.8 0C6.9 4.4-6.9 4.4-13.8 0Z" fill="#82bd53" transform="translate(148.7 12.2)rotate(-10)"/><path d="M-12.9 0C-6.5-4.6 6.5-4.6 12.9 0C6.5 4.6-6.5 4.6-12.9 0Z" fill="#85c255" transform="translate(162.6 30.5)rotate(8)"/><path d="M-13.0 0C-6.5-4.8 6.5-4.8 13.0 0C6.5 4.8-6.5 4.8-13.0 0Z" fill="#7fba51" transform="translate(127.8 18.9)rotate(-6)"/><path d="M-13.9 0C-6.9-4.5 6.9-4.5 13.9 0C6.9 4.5-6.9 4.5-13.9 0Z" fill="#91d35d" transform="translate(27.3 46.4)rotate(9)"/><path d="M-12.3 0C-6.1-5.0 6.1-5.0 12.3 0C6.1 5.0-6.1 5.0-12.3 0Z" fill="#a4ef69" transform="translate(69.5 59.5)rotate(-11)"/><path d="M-11.5 0C-5.8-5.2 5.8-5.2 11.5 0C5.8 5.2-5.8 5.2-11.5 0Z" fill="#95d95f" transform="translate(218.9 82.2)rotate(-16)"/><path d="M-13.3 0C-6.7-4.9 6.7-4.9 13.3 0C6.7 4.9-6.7 4.9-13.3 0Z" fill="#9de565" transform="translate(36.0 2.0)rotate(-14)"/><path d="M-13.0 0C-6.5-4.6 6.5-4.6 13.0 0C6.5 4.6-6.5 4.6-13.0 0Z" fill="#8ccb59" transform="translate(30.3 28.8)rotate(5)"/><path d="M-13.8 0C-6.9-4.1 6.9-4.1 13.8 0C6.9 4.1-6.9 4.1-13.8 0Z" fill="#9ce364" transform="translate(114.0 77.6)rotate(4)"/><path d="M-10.8 0C-5.4-4.2 5.4-4.2 10.8 0C5.4 4.2-5.4 4.2-10.8 0Z" fill="#7fb951" transform="translate(109.0 26.8)rotate(8)"/><path d="M-12.7 0C-6.3-4.7 6.3-4.7 12.7 0C6.3 4.7-6.3 4.7-12.7 0Z" fill="#88c557" transform="translate(99.7 33.2)rotate(-13)"/><path d="M-13.0 0C-6.5-4.5 6.5-4.5 13.0 0C6.5 4.5-6.5 4.5-13.0 0Z" fill="#99de62" transform="translate(194.9 8.0)rotate(-12)"/><path d="M-11.1 0C-5.6-4.6 5.6-4.6 11.1 0C5.6 4.6-5.6 4.6-11.1 0Z" fill="#9be263" transform="translate(8.5 55.6)rotate(-2)"/><path d="M-11.6 0C-5.8-4.5 5.8-4.5 11.6 0C5.8 4.5-5.8 4.5-11.6 0Z" fill="#8dce5a" transform="translate(202.2 31.9)rotate(4)"/><path d="M-11.7 0C-5.8-4.1 5.8-4.1 11.7 0C5.8 4.1-5.8 4.1-11.7 0Z" fill="#7eb851" transform="translate(176.4 40.6)rotate(-7)"/><path d="M-13.9 0C-6.9-4.7 6.9-4.7 13.9 0C6.9 4.7-6.9 4.7-13.9 0Z" fill="#87c456" transform="translate(103.8 74.4)rotate(-2)"/><path d="M-12.5 0C-6.2-4.9 6.2-4.9 12.5 0C6.2 4.9-6.2 4.9-12.5 0Z" fill="#84c054" transform="translate(80.8 38.6)rotate(-3)"/><path d="M-11.3 0C-5.7-5.1 5.7-5.1 11.3 0C5.7 5.1-5.7 5.1-11.3 0Z" fill="#87c556" transform="translate(176.7 24.8)rotate(4)"/><path d="M-12.4 0C-6.2-4.4 6.2-4.4 12.4 0C6.2 4.4-6.2 4.4-12.4 0Z" fill="#9fe766" transform="translate(144.8 -4.4)rotate(4)"/><path d="M-13.9 0C-6.9-4.8 6.9-4.8 13.9 0C6.9 4.8-6.9 4.8-13.9 0Z" fill="#83bf54" transform="translate(46.8 60.3)rotate(14)"/><path d="M-11.7 0C-5.9-4.4 5.9-4.4 11.7 0C5.9 4.4-5.9 4.4-11.7 0Z" fill="#a2ec68" transform="translate(168.0 71.9)rotate(-15)"/><path d="M-13.9 0C-6.9-4.3 6.9-4.3 13.9 0C6.9 4.3-6.9 4.3-13.9 0Z" fill="#a2ec68" transform="translate(82.2 67.5)rotate(10)"/><path d="M-11.8 0C-5.9-5.0 5.9-5.0 11.8 0C5.9 5.0-5.9 5.0-11.8 0Z" fill="#7db650" transform="translate(145.4 45.0)rotate(7)"/><path d="M-11.3 0C-5.7-4.5 5.7-4.5 11.3 0C5.7 4.5-5.7 4.5-11.3 0Z" fill="#8ccb59" transform="translate(61.3 55.8)rotate(4)"/><path d="M-13.3 0C-6.6-4.1 6.6-4.1 13.3 0C6.6 4.1-6.6 4.1-13.3 0Z" fill="#91d25c" transform="translate(215.0 7.8)rotate(-13)"/><path d="M-12.0 0C-6.0-4.8 6.0-4.8 12.0 0C6.0 4.8-6.0 4.8-12.0 0Z" fill="#7cb44f" transform="translate(122.8 54.1)rotate(11)"/><path d="M-12.8 0C-6.4-4.1 6.4-4.1 12.8 0C6.4 4.1-6.4 4.1-12.8 0Z" fill="#8ece5a" transform="translate(151.8 49.4)rotate(-11)"/><path d="M-13.8 0C-6.9-4.7 6.9-4.7 13.8 0C6.9 4.7-6.9 4.7-13.8 0Z" fill="#a3ee68" transform="translate(31.0 22.4)rotate(9)"/><path d="M-13.2 0C-6.6-4.1 6.6-4.1 13.2 0C6.6 4.1-6.6 4.1-13.2 0Z" fill="#80ba51" transform="translate(227.0 20.2)rotate(10)"/><path d="M-12.2 0C-6.1-4.6 6.1-4.6 12.2 0C6.1 4.6-6.1 4.6-12.2 0Z" fill="#95d95f" transform="translate(199.2 -0.1)rotate(-9)"/><path d="M-12.6 0C-6.3-5.1 6.3-5.1 12.6 0C6.3 5.1-6.3 5.1-12.6 0Z" fill="#80ba52" transform="translate(194.9 48.8)rotate(-15)"/><path d="M-11.7 0C-5.8-4.5 5.8-4.5 11.7 0C5.8 4.5-5.8 4.5-11.7 0Z" fill="#95d85f" transform="translate(196.3 39.4)rotate(-11)"/><path d="M-10.9 0C-5.5-4.6 5.5-4.6 10.9 0C5.5 4.6-5.5 4.6-10.9 0Z" fill="#a3ed68" transform="translate(40.1 8.3)rotate(3)"/><path d="M-11.1 0C-5.5-4.6 5.5-4.6 11.1 0C5.5 4.6-5.5 4.6-11.1 0Z" fill="#84c054" transform="translate(2.5 66.5)rotate(-9)"/><path d="M-13.4 0C-6.7-4.1 6.7-4.1 13.4 0C6.7 4.1-6.7 4.1-13.4 0Z" fill="#7bb34e" transform="translate(67.2 80.9)rotate(-19)"/><path d="M-13.9 0C-7.0-5.1 7.0-5.1 13.9 0C7.0 5.1-7.0 5.1-13.9 0Z" fill="#7eb851" transform="translate(140.2 2.9)rotate(-17)"/><path d="M-12.5 0C-6.2-4.2 6.2-4.2 12.5 0C6.2 4.2-6.2 4.2-12.5 0Z" fill="#93d65e" transform="translate(162.7 -4.3)rotate(-14)"/><path d="M-13.8 0C-6.9-4.1 6.9-4.1 13.8 0C6.9 4.1-6.9 4.1-13.8 0Z" fill="#7bb34f" transform="translate(209.3 73.7)rotate(-19)"/><path d="M-10.9 0C-5.5-5.2 5.5-5.2 10.9 0C5.5 5.2-5.5 5.2-10.9 0Z" fill="#7eb851" transform="translate(86.1 21.7)rotate(11)"/><path d="M-11.2 0C-5.6-4.5 5.6-4.5 11.2 0C5.6 4.5-5.6 4.5-11.2 0Z" fill="#91d35d" transform="translate(84.6 -3.0)rotate(-16)"/><path d="M-13.0 0C-6.5-4.6 6.5-4.6 13.0 0C6.5 4.6-6.5 4.6-13.0 0Z" fill="#a4ee69" transform="translate(158.7 37.9)rotate(-0)"/><path d="M-12.2 0C-6.1-4.3 6.1-4.3 12.2 0C6.1 4.3-6.1 4.3-12.2 0Z" fill="#8dce5a" transform="translate(195.7 52.9)rotate(-11)"/><path d="M-13.8 0C-6.9-4.4 6.9-4.4 13.8 0C6.9 4.4-6.9 4.4-13.8 0Z" fill="#8ccc5a" transform="translate(90.8 64.0)rotate(-0)"/><path d="M-10.5 0C-5.3-4.1 5.3-4.1 10.5 0C5.3 4.1-5.3 4.1-10.5 0Z" fill="#97dc61" transform="translate(25.4 31.9)rotate(10)"/><path d="M-12.9 0C-6.5-4.9 6.5-4.9 12.9 0C6.5 4.9-6.5 4.9-12.9 0Z" fill="#7fb851" transform="translate(104.6 21.1)rotate(-11)"/><path d="M-12.9 0C-6.5-4.4 6.5-4.4 12.9 0C6.5 4.4-6.5 4.4-12.9 0Z" fill="#95d85f" transform="translate(100.8 1.6)rotate(-11)"/><path d="M-13.7 0C-6.9-5.0 6.9-5.0 13.7 0C6.9 5.0-6.9 5.0-13.7 0Z" fill="#82be53" transform="translate(192.4 15.8)rotate(6)"/><path d="M-13.5 0C-6.8-5.0 6.8-5.0 13.5 0C6.8 5.0-6.8 5.0-13.5 0Z" fill="#96da60" transform="translate(46.8 51.1)rotate(-12)"/><path d="M-11.1 0C-5.5-4.6 5.5-4.6 11.1 0C5.5 4.6-5.5 4.6-11.1 0Z" fill="#a6f16a" transform="translate(5.3 43.4)rotate(5)"/><path d="M-12.7 0C-6.4-4.6 6.4-4.6 12.7 0C6.4 4.6-6.4 4.6-12.7 0Z" fill="#7db650" transform="translate(220.3 33.7)rotate(-8)"/><path d="M-13.5 0C-6.8-5.0 6.8-5.0 13.5 0C6.8 5.0-6.8 5.0-13.5 0Z" fill="#93d75e" transform="translate(122.9 33.6)rotate(-14)"/><path d="M-12.8 0C-6.4-5.2 6.4-5.2 12.8 0C6.4 5.2-6.4 5.2-12.8 0Z" fill="#96da60" transform="translate(200.7 80.4)rotate(8)"/><path d="M-11.5 0C-5.7-4.7 5.7-4.7 11.5 0C5.7 4.7-5.7 4.7-11.5 0Z" fill="#81bc53" transform="translate(134.5 7.4)rotate(5)"/><path d="M-12.5 0C-6.2-4.2 6.2-4.2 12.5 0C6.2 4.2-6.2 4.2-12.5 0Z" fill="#87c456" transform="translate(126.1 16.3)rotate(11)"/><path d="M-13.9 0C-7.0-4.9 7.0-4.9 13.9 0C7.0 4.9-7.0 4.9-13.9 0Z" fill="#a7f36b" transform="translate(175.1 8.4)rotate(5)"/><path d="M-12.9 0C-6.4-4.8 6.4-4.8 12.9 0C6.4 4.8-6.4 4.8-12.9 0Z" fill="#a7f46b" transform="translate(105.7 -0.1)rotate(-7)"/><path d="M-13.6 0C-6.8-5.0 6.8-5.0 13.6 0C6.8 5.0-6.8 5.0-13.6 0Z" fill="#80ba52" transform="translate(12.9 1.9)rotate(4)"/><path d="M-11.3 0C-5.7-4.5 5.7-4.5 11.3 0C5.7 4.5-5.7 4.5-11.3 0Z" fill="#9ae063" transform="translate(59.2 9.0)rotate(-10)"/><path d="M-11.5 0C-5.8-4.7 5.8-4.7 11.5 0C5.8 4.7-5.8 4.7-11.5 0Z" fill="#a5f06a" transform="translate(188.2 20.6)rotate(-15)"/><path d="M-12.9 0C-6.4-4.8 6.4-4.8 12.9 0C6.4 4.8-6.4 4.8-12.9 0Z" fill="#85c255" transform="translate(21.0 8.5)rotate(3)"/><path d="M-13.9 0C-6.9-5.2 6.9-5.2 13.9 0C6.9 5.2-6.9 5.2-13.9 0Z" fill="#96da60" transform="translate(61.9 71.4)rotate(-12)"/><path d="M-12.1 0C-6.0-4.1 6.0-4.1 12.1 0C6.0 4.1-6.0 4.1-12.1 0Z" fill="#7cb54f" transform="translate(208.7 42.5)rotate(-5)"/><path d="M-10.7 0C-5.3-4.9 5.3-4.9 10.7 0C5.3 4.9-5.3 4.9-10.7 0Z" fill="#8bca59" transform="translate(64.8 51.5)rotate(12)"/><path d="M-13.2 0C-6.6-4.1 6.6-4.1 13.2 0C6.6 4.1-6.6 4.1-13.2 0Z" fill="#99de62" transform="translate(216.9 37.5)rotate(-19)"/><path d="M-10.9 0C-5.5-4.4 5.5-4.4 10.9 0C5.5 4.4-5.5 4.4-10.9 0Z" fill="#95d95f" transform="translate(0.7 8.5)rotate(-5)"/><path d="M-11.7 0C-5.8-4.6 5.8-4.6 11.7 0C5.8 4.6-5.8 4.6-11.7 0Z" fill="#9de565" transform="translate(3.4 47.8)rotate(1)"/><path d="M-12.8 0C-6.4-4.8 6.4-4.8 12.8 0C6.4 4.8-6.4 4.8-12.8 0Z" fill="#7eb851" transform="translate(7.9 20.9)rotate(-7)"/><path d="M-10.7 0C-5.4-4.8 5.4-4.8 10.7 0C5.4 4.8-5.4 4.8-10.7 0Z" fill="#8ac958" transform="translate(153.8 8.0)rotate(2)"/><path d="M-12.9 0C-6.4-4.9 6.4-4.9 12.9 0C6.4 4.9-6.4 4.9-12.9 0Z" fill="#a1eb67" transform="translate(159.9 57.5)rotate(-18)"/><path d="M-13.2 0C-6.6-4.3 6.6-4.3 13.2 0C6.6 4.3-6.6 4.3-13.2 0Z" fill="#95d85f" transform="translate(212.6 14.6)rotate(-19)"/><path d="M-12.0 0C-6.0-4.5 6.0-4.5 12.0 0C6.0 4.5-6.0 4.5-12.0 0Z" fill="#8fd05b" transform="translate(125.1 -1.2)rotate(-20)"/><path d="M-11.5 0C-5.7-4.1 5.7-4.1 11.5 0C5.7 4.1-5.7 4.1-11.5 0Z" fill="#8dcd5a" transform="translate(131.0 51.2)rotate(-18)"/><path d="M-11.0 0C-5.5-4.8 5.5-4.8 11.0 0C5.5 4.8-5.5 4.8-11.0 0Z" fill="#a7f36b" transform="translate(179.6 -0.9)rotate(-8)"/><path d="M-13.2 0C-6.6-4.1 6.6-4.1 13.2 0C6.6 4.1-6.6 4.1-13.2 0Z" fill="#94d85f" transform="translate(113.7 63.6)rotate(0)"/><path d="M-12.9 0C-6.5-4.8 6.5-4.8 12.9 0C6.5 4.8-6.5 4.8-12.9 0Z" fill="#7bb34f" transform="translate(221.2 -4.5)rotate(-17)"/><path d="M-13.1 0C-6.5-5.1 6.5-5.1 13.1 0C6.5 5.1-6.5 5.1-13.1 0Z" fill="#9ee765" transform="translate(58.8 3.5)rotate(10)"/><path d="M-12.7 0C-6.3-5.0 6.3-5.0 12.7 0C6.3 5.0-6.3 5.0-12.7 0Z" fill="#89c858" transform="translate(190.7 62.8)rotate(13)"/><path d="M-12.3 0C-6.2-4.1 6.2-4.1 12.3 0C6.2 4.1-6.2 4.1-12.3 0Z" fill="#8ecf5b" transform="translate(171.0 59.3)rotate(-18)"/><path d="M-12.7 0C-6.4-4.6 6.4-4.6 12.7 0C6.4 4.6-6.4 4.6-12.7 0Z" fill="#84c054" transform="translate(23.8 50.0)rotate(-16)"/><path d="M-13.6 0C-6.8-4.0 6.8-4.0 13.6 0C6.8 4.0-6.8 4.0-13.6 0Z" fill="#8ecf5b" transform="translate(163.2 4.5)rotate(9)"/><path d="M-12.1 0C-6.1-4.1 6.1-4.1 12.1 0C6.1 4.1-6.1 4.1-12.1 0Z" fill="#89c758" transform="translate(233.8 60.9)rotate(-1)"/><path d="M-11.8 0C-5.9-4.8 5.9-4.8 11.8 0C5.9 4.8-5.9 4.8-11.8 0Z" fill="#7eb851" transform="translate(140.9 30.7)rotate(10)"/><path d="M-13.8 0C-6.9-5.2 6.9-5.2 13.8 0C6.9 5.2-6.9 5.2-13.8 0Z" fill="#97db60" transform="translate(5.2 30.5)rotate(11)"/><path d="M-12.6 0C-6.3-5.1 6.3-5.1 12.6 0C6.3 5.1-6.3 5.1-12.6 0Z" fill="#7fb951" transform="translate(21.6 13.7)rotate(12)"/><path d="M-10.9 0C-5.5-4.2 5.5-4.2 10.9 0C5.5 4.2-5.5 4.2-10.9 0Z" fill="#9ee665" transform="translate(168.7 69.4)rotate(-3)"/><path d="M-11.4 0C-5.7-5.0 5.7-5.0 11.4 0C5.7 5.0-5.7 5.0-11.4 0Z" fill="#7cb44f" transform="translate(196.7 25.6)rotate(6)"/><path d="M-12.6 0C-6.3-4.1 6.3-4.1 12.6 0C6.3 4.1-6.3 4.1-12.6 0Z" fill="#9ee565" transform="translate(44.6 79.2)rotate(7)"/><path d="M-11.9 0C-6.0-4.2 6.0-4.2 11.9 0C6.0 4.2-6.0 4.2-11.9 0Z" fill="#9fe765" transform="translate(84.0 12.3)rotate(-10)"/><path d="M-10.9 0C-5.5-4.1 5.5-4.1 10.9 0C5.5 4.1-5.5 4.1-10.9 0Z" fill="#91d35d" transform="translate(43.6 65.0)rotate(-4)"/><path d="M-10.8 0C-5.4-5.1 5.4-5.1 10.8 0C5.4 5.1-5.4 5.1-10.8 0Z" fill="#9ae163" transform="translate(121.1 2.6)rotate(-13)"/><path d="M-13.3 0C-6.7-4.5 6.7-4.5 13.3 0C6.7 4.5-6.7 4.5-13.3 0Z" fill="#86c255" transform="translate(134.0 81.0)rotate(-16)"/><path d="M-12.2 0C-6.1-5.2 6.1-5.2 12.2 0C6.1 5.2-6.1 5.2-12.2 0Z" fill="#9ce363" transform="translate(80.9 57.6)rotate(7)"/><path d="M-10.6 0C-5.3-4.2 5.3-4.2 10.6 0C5.3 4.2-5.3 4.2-10.6 0Z" fill="#8ece5a" transform="translate(62.6 38.6)rotate(-9)"/><path d="M-11.1 0C-5.5-4.1 5.5-4.1 11.1 0C5.5 4.1-5.5 4.1-11.1 0Z" fill="#85c155" transform="translate(9.0 27.9)rotate(9)"/><path d="M-12.6 0C-6.3-4.8 6.3-4.8 12.6 0C6.3 4.8-6.3 4.8-12.6 0Z" fill="#a6f16a" transform="translate(62.0 17.0)rotate(0)"/><path d="M-13.7 0C-6.9-4.0 6.9-4.0 13.7 0C6.9 4.0-6.9 4.0-13.7 0Z" fill="#8dcc5a" transform="translate(104.2 67.4)rotate(6)"/><path d="M-12.5 0C-6.3-4.6 6.3-4.6 12.5 0C6.3 4.6-6.3 4.6-12.5 0Z" fill="#8bcb59" transform="translate(43.7 12.7)rotate(-16)"/><path d="M-12.8 0C-6.4-4.2 6.4-4.2 12.8 0C6.4 4.2-6.4 4.2-12.8 0Z" fill="#a1ea67" transform="translate(150.5 71.9)rotate(-8)"/><path d="M-13.9 0C-6.9-4.1 6.9-4.1 13.9 0C6.9 4.1-6.9 4.1-13.9 0Z" fill="#8bca59" transform="translate(44.7 -3.5)rotate(-17)"/><path d="M-11.2 0C-5.6-4.0 5.6-4.0 11.2 0C5.6 4.0-5.6 4.0-11.2 0Z" fill="#99de61" transform="translate(60.9 68.5)rotate(-18)"/><path d="M-14.0 0C-7.0-4.3 7.0-4.3 14.0 0C7.0 4.3-7.0 4.3-14.0 0Z" fill="#82bd53" transform="translate(105.5 13.2)rotate(5)"/><path d="M-13.9 0C-7.0-5.1 7.0-5.1 13.9 0C7.0 5.1-7.0 5.1-13.9 0Z" fill="#a0e967" transform="translate(114.6 7.0)rotate(-6)"/><path d="M-12.8 0C-6.4-5.0 6.4-5.0 12.8 0C6.4 5.0-6.4 5.0-12.8 0Z" fill="#86c356" transform="translate(188.3 45.3)rotate(-11)"/><path d="M-13.5 0C-6.7-4.2 6.7-4.2 13.5 0C6.7 4.2-6.7 4.2-13.5 0Z" fill="#7db650" transform="translate(22.3 41.3)rotate(-2)"/><path d="M-12.3 0C-6.2-4.6 6.2-4.6 12.3 0C6.2 4.6-6.2 4.6-12.3 0Z" fill="#a6f26a" transform="translate(149.4 22.1)rotate(-6)"/><path d="M-11.7 0C-5.9-5.1 5.9-5.1 11.7 0C5.9 5.1-5.9 5.1-11.7 0Z" fill="#82be53" transform="translate(215.8 27.5)rotate(-9)"/><path d="M-12.0 0C-6.0-4.9 6.0-4.9 12.0 0C6.0 4.9-6.0 4.9-12.0 0Z" fill="#a5f069" transform="translate(215.3 50.5)rotate(-1)"/><path d="M-13.6 0C-6.8-4.3 6.8-4.3 13.6 0C6.8 4.3-6.8 4.3-13.6 0Z" fill="#a7f36b" transform="translate(189.5 74.9)rotate(-6)"/><path d="M-11.3 0C-5.6-4.6 5.6-4.6 11.3 0C5.6 4.6-5.6 4.6-11.3 0Z" fill="#96da60" transform="translate(208.4 67.6)rotate(-15)"/><path d="M-11.1 0C-5.5-4.8 5.5-4.8 11.1 0C5.5 4.8-5.5 4.8-11.1 0Z" fill="#7bb34f" transform="translate(107.3 45.6)rotate(12)"/><path d="M-11.5 0C-5.7-4.6 5.7-4.6 11.5 0C5.7 4.6-5.7 4.6-11.5 0Z" fill="#7db650" transform="translate(2.8 72.6)rotate(0)"/><path d="M-12.1 0C-6.1-4.2 6.1-4.2 12.1 0C6.1 4.2-6.1 4.2-12.1 0Z" fill="#84c054" transform="translate(171.4 12.8)rotate(-14)"/><path d="M-11.3 0C-5.6-4.3 5.6-4.3 11.3 0C5.6 4.3-5.6 4.3-11.3 0Z" fill="#8ccc59" transform="translate(25.0 -3.1)rotate(4)"/><path d="M-13.3 0C-6.6-4.6 6.6-4.6 13.3 0C6.6 4.6-6.6 4.6-13.3 0Z" fill="#96da60" transform="translate(2.0 38.0)rotate(-11)"/><path d="M-12.4 0C-6.2-4.5 6.2-4.5 12.4 0C6.2 4.5-6.2 4.5-12.4 0Z" fill="#a6f16a" transform="translate(151.8 62.9)rotate(13)"/><path d="M-13.7 0C-6.8-4.6 6.8-4.6 13.7 0C6.8 4.6-6.8 4.6-13.7 0Z" fill="#8ac958" transform="translate(127.5 73.7)rotate(7)"/><path d="M-13.9 0C-7.0-5.1 7.0-5.1 13.9 0C7.0 5.1-7.0 5.1-13.9 0Z" fill="#81bb52" transform="translate(49.0 42.7)rotate(6)"/><path d="M-12.9 0C-6.4-4.1 6.4-4.1 12.9 0C6.4 4.1-6.4 4.1-12.9 0Z" fill="#94d75e" transform="translate(50.2 20.8)rotate(-7)"/><path d="M-11.8 0C-5.9-5.0 5.9-5.0 11.8 0C5.9 5.0-5.9 5.0-11.8 0Z" fill="#81bb52" transform="translate(227.0 66.0)rotate(8)"/><path d="M-11.7 0C-5.8-4.2 5.8-4.2 11.7 0C5.8 4.2-5.8 4.2-11.7 0Z" fill="#7eb851" transform="translate(82.7 75.3)rotate(11)"/><path d="M-13.4 0C-6.7-4.9 6.7-4.9 13.4 0C6.7 4.9-6.7 4.9-13.4 0Z" fill="#94d75e" transform="translate(190.9 66.6)rotate(-12)"/><path d="M-11.1 0C-5.6-4.1 5.6-4.1 11.1 0C5.6 4.1-5.6 4.1-11.1 0Z" fill="#9ae062" transform="translate(78.5 32.7)rotate(-6)"/><path d="M-12.2 0C-6.1-4.9 6.1-4.9 12.2 0C6.1 4.9-6.1 4.9-12.2 0Z" fill="#7db750" transform="translate(181.4 32.9)rotate(-12)"/><path d="M-11.2 0C-5.6-5.1 5.6-5.1 11.2 0C5.6 5.1-5.6 5.1-11.2 0Z" fill="#8fd05b" transform="translate(6.2 0.1)rotate(-4)"/><path d="M-13.7 0C-6.8-4.1 6.8-4.1 13.7 0C6.8 4.1-6.8 4.1-13.7 0Z" fill="#9ae062" transform="translate(53.3 27.7)rotate(-0)"/><path d="M-12.3 0C-6.2-4.8 6.2-4.8 12.3 0C6.2 4.8-6.2 4.8-12.3 0Z" fill="#9de464" transform="translate(2.6 16.6)rotate(-3)"/><path d="M-13.3 0C-6.6-5.0 6.6-5.0 13.3 0C6.6 5.0-6.6 5.0-13.3 0Z" fill="#8ccb59" transform="translate(85.1 47.8)rotate(-18)"/><path d="M-12.4 0C-6.2-4.6 6.2-4.6 12.4 0C6.2 4.6-6.2 4.6-12.4 0Z" fill="#a2ec68" transform="translate(204.9 3.0)rotate(12)"/><path d="M-13.9 0C-6.9-4.8 6.9-4.8 13.9 0C6.9 4.8-6.9 4.8-13.9 0Z" fill="#82bd53" transform="translate(109.1 50.3)rotate(-7)"/><path d="M-13.8 0C-6.9-5.0 6.9-5.0 13.8 0C6.9 5.0-6.9 5.0-13.8 0Z" fill="#9be163" transform="translate(79.0 3.0)rotate(-18)"/><path d="M-13.2 0C-6.6-4.0 6.6-4.0 13.2 0C6.6 4.0-6.6 4.0-13.2 0Z" fill="#9de564" transform="translate(100.6 57.5)rotate(4)"/><path d="M-13.5 0C-6.8-4.7 6.8-4.7 13.5 0C6.8 4.7-6.8 4.7-13.5 0Z" fill="#a2ec68" transform="translate(148.9 64.8)rotate(-13)"/><path d="M-11.3 0C-5.6-5.2 5.6-5.2 11.3 0C5.6 5.2-5.6 5.2-11.3 0Z" fill="#91d35c" transform="translate(101.1 36.6)rotate(-7)"/><path d="M-12.0 0C-6.0-4.8 6.0-4.8 12.0 0C6.0 4.8-6.0 4.8-12.0 0Z" fill="#7fb951" transform="translate(62.1 34.1)rotate(10)"/><path d="M-13.8 0C-6.9-4.3 6.9-4.3 13.8 0C6.9 4.3-6.9 4.3-13.8 0Z" fill="#7db550" transform="translate(3.6 61.9)rotate(-6)"/><path d="M-11.2 0C-5.6-4.2 5.6-4.2 11.2 0C5.6 4.2-5.6 4.2-11.2 0Z" fill="#92d55d" transform="translate(127.0 42.4)rotate(-7)"/><path d="M-11.4 0C-5.7-4.8 5.7-4.8 11.4 0C5.7 4.8-5.7 4.8-11.4 0Z" fill="#82be53" transform="translate(159.7 24.0)rotate(-9)"/><path d="M-11.7 0C-5.9-4.4 5.9-4.4 11.7 0C5.9 4.4-5.9 4.4-11.7 0Z" fill="#97db60" transform="translate(228.5 73.9)rotate(13)"/><path d="M-11.3 0C-5.7-4.4 5.7-4.4 11.3 0C5.7 4.4-5.7 4.4-11.3 0Z" fill="#7eb851" transform="translate(120.7 37.4)rotate(13)"/><path d="M-13.2 0C-6.6-4.7 6.6-4.7 13.2 0C6.6 4.7-6.6 4.7-13.2 0Z" fill="#9ee565" transform="translate(42.8 40.9)rotate(-15)"/><path d="M-11.2 0C-5.6-4.8 5.6-4.8 11.2 0C5.6 4.8-5.6 4.8-11.2 0Z" fill="#85c155" transform="translate(44.3 57.5)rotate(12)"/><path d="M-11.1 0C-5.6-4.8 5.6-4.8 11.1 0C5.6 4.8-5.6 4.8-11.1 0Z" fill="#7bb34f" transform="translate(26.9 80.9)rotate(-8)"/><path d="M-13.3 0C-6.6-4.6 6.6-4.6 13.3 0C6.6 4.6-6.6 4.6-13.3 0Z" fill="#82be53" transform="translate(178.5 77.3)rotate(4)"/><path d="M-11.3 0C-5.7-4.2 5.7-4.2 11.3 0C5.7 4.2-5.7 4.2-11.3 0Z" fill="#8fd05b" transform="translate(208.5 19.7)rotate(-18)"/><path d="M-11.0 0C-5.5-4.6 5.5-4.6 11.0 0C5.5 4.6-5.5 4.6-11.0 0Z" fill="#94d75e" transform="translate(125.3 25.5)rotate(-15)"/><path d="M-11.4 0C-5.7-4.8 5.7-4.8 11.4 0C5.7 4.8-5.7 4.8-11.4 0Z" fill="#8ccc59" transform="translate(93.7 11.4)rotate(6)"/><path d="M-13.1 0C-6.6-4.7 6.6-4.7 13.1 0C6.6 4.7-6.6 4.7-13.1 0Z" fill="#82be53" transform="translate(22.5 68.2)rotate(-6)"/><path d="M-12.7 0C-6.3-4.8 6.3-4.8 12.7 0C6.3 4.8-6.3 4.8-12.7 0Z" fill="#90d25c" transform="translate(71.2 43.3)rotate(8)"/><path d="M-12.9 0C-6.5-5.1 6.5-5.1 12.9 0C6.5 5.1-6.5 5.1-12.9 0Z" fill="#a5f069" transform="translate(215.1 53.1)rotate(-3)"/><path d="M-13.0 0C-6.5-4.9 6.5-4.9 13.0 0C6.5 4.9-6.5 4.9-13.0 0Z" fill="#93d55e" transform="translate(155.5 78.1)rotate(-12)"/><path d="M-13.2 0C-6.6-4.4 6.6-4.4 13.2 0C6.6 4.4-6.6 4.4-13.2 0Z" fill="#a5f069" transform="translate(174.3 48.0)rotate(-8)"/><path d="M-13.5 0C-6.7-4.4 6.7-4.4 13.5 0C6.7 4.4-6.7 4.4-13.5 0Z" fill="#7cb44f" transform="translate(210.9 60.9)rotate(-2)"/><path d="M-12.9 0C-6.4-5.1 6.4-5.1 12.9 0C6.4 5.1-6.4 5.1-12.9 0Z" fill="#a7f36b" transform="translate(224.5 3.3)rotate(-18)"/><path d="M-10.7 0C-5.3-5.1 5.3-5.1 10.7 0C5.3 5.1-5.3 5.1-10.7 0Z" fill="#a3ec68" transform="translate(70.5 17.7)rotate(-18)"/><path d="M-13.1 0C-6.5-4.7 6.5-4.7 13.1 0C6.5 4.7-6.5 4.7-13.1 0Z" fill="#93d65e" transform="translate(234.6 10.0)rotate(11)"/><path d="M-12.5 0C-6.2-5.0 6.2-5.0 12.5 0C6.2 5.0-6.2 5.0-12.5 0Z" fill="#92d45d" transform="translate(89.5 28.9)rotate(-1)"/><path d="M-12.0 0C-6.0-4.9 6.0-4.9 12.0 0C6.0 4.9-6.0 4.9-12.0 0Z" fill="#93d55e" transform="translate(142.7 24.9)rotate(7)"/><path d="M-10.8 0C-5.4-4.6 5.4-4.6 10.8 0C5.4 4.6-5.4 4.6-10.8 0Z" fill="#a3ee68" transform="translate(140.1 37.3)rotate(-19)"/><path d="M-11.8 0C-5.9-4.6 5.9-4.6 11.8 0C5.9 4.6-5.9 4.6-11.8 0Z" fill="#7db750" transform="translate(66.5 -2.9)rotate(2)"/><path d="M-11.1 0C-5.6-5.1 5.6-5.1 11.1 0C5.6 5.1-5.6 5.1-11.1 0Z" fill="#97dc61" transform="translate(91.2 45.6)rotate(-18)"/><path d="M-13.2 0C-6.6-4.6 6.6-4.6 13.2 0C6.6 4.6-6.6 4.6-13.2 0Z" fill="#93d65e" transform="translate(167.5 44.0)rotate(-2)"/><path d="M-10.5 0C-5.3-4.4 5.3-4.4 10.5 0C5.3 4.4-5.3 4.4-10.5 0Z" fill="#88c657" transform="translate(42.1 75.3)rotate(1)"/><path d="M-42 0Q0-10 42 0Q0 10-42 0Z" fill="#78c450" transform="translate(100 40)rotate(-62)"/></g></symbol><symbol id="pile_class" viewBox="0 0 210 78" preserveAspectRatio="none"><rect width="210" height="78" fill="#000"/><rect width="210" height="78" fill="#22262a"/><g stroke="#181c20" stroke-width="0.7"><path d="M-13.1 0C-6.6-4.9 6.6-4.9 13.1 0C6.6 4.9-6.6 4.9-13.1 0Z" fill="#58dc48" transform="translate(90.9 81.5)rotate(8)"/><path d="M-12.1 0C-6.1-4.3 6.1-4.3 12.1 0C6.1 4.3-6.1 4.3-12.1 0Z" fill="#58dc48" transform="translate(26.0 54.2)rotate(-6)"/><path d="M-11.0 0C-5.5-4.9 5.5-4.9 11.0 0C5.5 4.9-5.5 4.9-11.0 0Z" fill="#7fa6cc" transform="translate(131.1 61.9)rotate(12)"/><path d="M-13.0 0C-6.5-4.1 6.5-4.1 13.0 0C6.5 4.1-6.5 4.1-13.0 0Z" fill="#6f98c4" transform="translate(231.1 46.5)rotate(5)"/><path d="M-11.4 0C-5.7-4.8 5.7-4.8 11.4 0C5.7 4.8-5.7 4.8-11.4 0Z" fill="#7fa6cc" transform="translate(70.8 26.7)rotate(-1)"/><path d="M-11.5 0C-5.8-4.1 5.8-4.1 11.5 0C5.8 4.1-5.8 4.1-11.5 0Z" fill="#6f98c4" transform="translate(177.6 55.6)rotate(4)"/><path d="M-13.6 0C-6.8-4.7 6.8-4.7 13.6 0C6.8 4.7-6.8 4.7-13.6 0Z" fill="#7fa6cc" transform="translate(26.1 60.7)rotate(12)"/><path d="M-12.1 0C-6.0-4.8 6.0-4.8 12.1 0C6.0 4.8-6.0 4.8-12.1 0Z" fill="#7fa6cc" transform="translate(10.1 79.5)rotate(5)"/><path d="M-10.7 0C-5.3-4.6 5.3-4.6 10.7 0C5.3 4.6-5.3 4.6-10.7 0Z" fill="#d98048" transform="translate(169.3 21.0)rotate(-20)"/><path d="M-12.5 0C-6.2-5.0 6.2-5.0 12.5 0C6.2 5.0-6.2 5.0-12.5 0Z" fill="#6f98c4" transform="translate(184.0 2.5)rotate(-11)"/><path d="M-10.5 0C-5.3-4.3 5.3-4.3 10.5 0C5.3 4.3-5.3 4.3-10.5 0Z" fill="#58dc48" transform="translate(139.3 56.1)rotate(-2)"/><path d="M-10.7 0C-5.3-5.2 5.3-5.2 10.7 0C5.3 5.2-5.3 5.2-10.7 0Z" fill="#e0884c" transform="translate(75.0 10.4)rotate(-5)"/><path d="M-11.4 0C-5.7-4.5 5.7-4.5 11.4 0C5.7 4.5-5.7 4.5-11.4 0Z" fill="#e0884c" transform="translate(44.7 34.4)rotate(-13)"/><path d="M-12.4 0C-6.2-4.2 6.2-4.2 12.4 0C6.2 4.2-6.2 4.2-12.4 0Z" fill="#7fa6cc" transform="translate(24.1 71.5)rotate(1)"/><path d="M-13.4 0C-6.7-5.2 6.7-5.2 13.4 0C6.7 5.2-6.7 5.2-13.4 0Z" fill="#e0884c" transform="translate(126.1 68.7)rotate(-4)"/><path d="M-13.8 0C-6.9-4.4 6.9-4.4 13.8 0C6.9 4.4-6.9 4.4-13.8 0Z" fill="#58dc48" transform="translate(148.7 12.2)rotate(-10)"/><path d="M-12.9 0C-6.5-4.6 6.5-4.6 12.9 0C6.5 4.6-6.5 4.6-12.9 0Z" fill="#7fa6cc" transform="translate(162.6 30.5)rotate(8)"/><path d="M-13.0 0C-6.5-4.8 6.5-4.8 13.0 0C6.5 4.8-6.5 4.8-13.0 0Z" fill="#d98048" transform="translate(127.8 18.9)rotate(-6)"/><path d="M-13.9 0C-6.9-4.5 6.9-4.5 13.9 0C6.9 4.5-6.9 4.5-13.9 0Z" fill="#58dc48" transform="translate(27.3 46.4)rotate(9)"/><path d="M-12.3 0C-6.1-5.0 6.1-5.0 12.3 0C6.1 5.0-6.1 5.0-12.3 0Z" fill="#7fa6cc" transform="translate(69.5 59.5)rotate(-11)"/><path d="M-11.5 0C-5.8-5.2 5.8-5.2 11.5 0C5.8 5.2-5.8 5.2-11.5 0Z" fill="#e0884c" transform="translate(218.9 82.2)rotate(-16)"/><path d="M-13.3 0C-6.7-4.9 6.7-4.9 13.3 0C6.7 4.9-6.7 4.9-13.3 0Z" fill="#7fa6cc" transform="translate(36.0 2.0)rotate(-14)"/><path d="M-13.0 0C-6.5-4.6 6.5-4.6 13.0 0C6.5 4.6-6.5 4.6-13.0 0Z" fill="#58dc48" transform="translate(30.3 28.8)rotate(5)"/><path d="M-13.8 0C-6.9-4.1 6.9-4.1 13.8 0C6.9 4.1-6.9 4.1-13.8 0Z" fill="#4fd042" transform="translate(114.0 77.6)rotate(4)"/><path d="M-10.8 0C-5.4-4.2 5.4-4.2 10.8 0C5.4 4.2-5.4 4.2-10.8 0Z" fill="#6f98c4" transform="translate(109.0 26.8)rotate(8)"/><path d="M-12.7 0C-6.3-4.7 6.3-4.7 12.7 0C6.3 4.7-6.3 4.7-12.7 0Z" fill="#7fa6cc" transform="translate(99.7 33.2)rotate(-13)"/><path d="M-13.0 0C-6.5-4.5 6.5-4.5 13.0 0C6.5 4.5-6.5 4.5-13.0 0Z" fill="#e0884c" transform="translate(194.9 8.0)rotate(-12)"/><path d="M-11.1 0C-5.6-4.6 5.6-4.6 11.1 0C5.6 4.6-5.6 4.6-11.1 0Z" fill="#4fd042" transform="translate(8.5 55.6)rotate(-2)"/><path d="M-11.6 0C-5.8-4.5 5.8-4.5 11.6 0C5.8 4.5-5.8 4.5-11.6 0Z" fill="#e0884c" transform="translate(202.2 31.9)rotate(4)"/><path d="M-11.7 0C-5.8-4.1 5.8-4.1 11.7 0C5.8 4.1-5.8 4.1-11.7 0Z" fill="#4fd042" transform="translate(176.4 40.6)rotate(-7)"/><path d="M-13.9 0C-6.9-4.7 6.9-4.7 13.9 0C6.9 4.7-6.9 4.7-13.9 0Z" fill="#d98048" transform="translate(103.8 74.4)rotate(-2)"/><path d="M-12.5 0C-6.2-4.9 6.2-4.9 12.5 0C6.2 4.9-6.2 4.9-12.5 0Z" fill="#4fd042" transform="translate(80.8 38.6)rotate(-3)"/><path d="M-11.3 0C-5.7-5.1 5.7-5.1 11.3 0C5.7 5.1-5.7 5.1-11.3 0Z" fill="#58dc48" transform="translate(176.7 24.8)rotate(4)"/><path d="M-12.4 0C-6.2-4.4 6.2-4.4 12.4 0C6.2 4.4-6.2 4.4-12.4 0Z" fill="#7fa6cc" transform="translate(144.8 -4.4)rotate(4)"/><path d="M-13.9 0C-6.9-4.8 6.9-4.8 13.9 0C6.9 4.8-6.9 4.8-13.9 0Z" fill="#7fa6cc" transform="translate(46.8 60.3)rotate(14)"/><path d="M-11.7 0C-5.9-4.4 5.9-4.4 11.7 0C5.9 4.4-5.9 4.4-11.7 0Z" fill="#7fa6cc" transform="translate(168.0 71.9)rotate(-15)"/><path d="M-13.9 0C-6.9-4.3 6.9-4.3 13.9 0C6.9 4.3-6.9 4.3-13.9 0Z" fill="#7fa6cc" transform="translate(82.2 67.5)rotate(10)"/><path d="M-11.8 0C-5.9-5.0 5.9-5.0 11.8 0C5.9 5.0-5.9 5.0-11.8 0Z" fill="#7fa6cc" transform="translate(145.4 45.0)rotate(7)"/><path d="M-11.3 0C-5.7-4.5 5.7-4.5 11.3 0C5.7 4.5-5.7 4.5-11.3 0Z" fill="#58dc48" transform="translate(61.3 55.8)rotate(4)"/><path d="M-13.3 0C-6.6-4.1 6.6-4.1 13.3 0C6.6 4.1-6.6 4.1-13.3 0Z" fill="#6f98c4" transform="translate(215.0 7.8)rotate(-13)"/><path d="M-12.0 0C-6.0-4.8 6.0-4.8 12.0 0C6.0 4.8-6.0 4.8-12.0 0Z" fill="#7fa6cc" transform="translate(122.8 54.1)rotate(11)"/><path d="M-12.8 0C-6.4-4.1 6.4-4.1 12.8 0C6.4 4.1-6.4 4.1-12.8 0Z" fill="#4fd042" transform="translate(151.8 49.4)rotate(-11)"/><path d="M-13.8 0C-6.9-4.7 6.9-4.7 13.8 0C6.9 4.7-6.9 4.7-13.8 0Z" fill="#58dc48" transform="translate(31.0 22.4)rotate(9)"/><path d="M-13.2 0C-6.6-4.1 6.6-4.1 13.2 0C6.6 4.1-6.6 4.1-13.2 0Z" fill="#4fd042" transform="translate(227.0 20.2)rotate(10)"/><path d="M-12.2 0C-6.1-4.6 6.1-4.6 12.2 0C6.1 4.6-6.1 4.6-12.2 0Z" fill="#7fa6cc" transform="translate(199.2 -0.1)rotate(-9)"/><path d="M-12.6 0C-6.3-5.1 6.3-5.1 12.6 0C6.3 5.1-6.3 5.1-12.6 0Z" fill="#58dc48" transform="translate(194.9 48.8)rotate(-15)"/><path d="M-11.7 0C-5.8-4.5 5.8-4.5 11.7 0C5.8 4.5-5.8 4.5-11.7 0Z" fill="#58dc48" transform="translate(196.3 39.4)rotate(-11)"/><path d="M-10.9 0C-5.5-4.6 5.5-4.6 10.9 0C5.5 4.6-5.5 4.6-10.9 0Z" fill="#e0884c" transform="translate(40.1 8.3)rotate(3)"/><path d="M-11.1 0C-5.5-4.6 5.5-4.6 11.1 0C5.5 4.6-5.5 4.6-11.1 0Z" fill="#7fa6cc" transform="translate(2.5 66.5)rotate(-9)"/><path d="M-13.4 0C-6.7-4.1 6.7-4.1 13.4 0C6.7 4.1-6.7 4.1-13.4 0Z" fill="#7fa6cc" transform="translate(67.2 80.9)rotate(-19)"/><path d="M-13.9 0C-7.0-5.1 7.0-5.1 13.9 0C7.0 5.1-7.0 5.1-13.9 0Z" fill="#6f98c4" transform="translate(140.2 2.9)rotate(-17)"/><path d="M-12.5 0C-6.2-4.2 6.2-4.2 12.5 0C6.2 4.2-6.2 4.2-12.5 0Z" fill="#6f98c4" transform="translate(162.7 -4.3)rotate(-14)"/><path d="M-13.8 0C-6.9-4.1 6.9-4.1 13.8 0C6.9 4.1-6.9 4.1-13.8 0Z" fill="#6f98c4" transform="translate(209.3 73.7)rotate(-19)"/><path d="M-10.9 0C-5.5-5.2 5.5-5.2 10.9 0C5.5 5.2-5.5 5.2-10.9 0Z" fill="#4fd042" transform="translate(86.1 21.7)rotate(11)"/><path d="M-11.2 0C-5.6-4.5 5.6-4.5 11.2 0C5.6 4.5-5.6 4.5-11.2 0Z" fill="#7fa6cc" transform="translate(84.6 -3.0)rotate(-16)"/><path d="M-13.0 0C-6.5-4.6 6.5-4.6 13.0 0C6.5 4.6-6.5 4.6-13.0 0Z" fill="#d98048" transform="translate(158.7 37.9)rotate(-0)"/><path d="M-12.2 0C-6.1-4.3 6.1-4.3 12.2 0C6.1 4.3-6.1 4.3-12.2 0Z" fill="#e0884c" transform="translate(195.7 52.9)rotate(-11)"/><path d="M-13.8 0C-6.9-4.4 6.9-4.4 13.8 0C6.9 4.4-6.9 4.4-13.8 0Z" fill="#7fa6cc" transform="translate(90.8 64.0)rotate(-0)"/><path d="M-10.5 0C-5.3-4.1 5.3-4.1 10.5 0C5.3 4.1-5.3 4.1-10.5 0Z" fill="#e0884c" transform="translate(25.4 31.9)rotate(10)"/><path d="M-12.9 0C-6.5-4.9 6.5-4.9 12.9 0C6.5 4.9-6.5 4.9-12.9 0Z" fill="#e0884c" transform="translate(104.6 21.1)rotate(-11)"/><path d="M-12.9 0C-6.5-4.4 6.5-4.4 12.9 0C6.5 4.4-6.5 4.4-12.9 0Z" fill="#e0884c" transform="translate(100.8 1.6)rotate(-11)"/><path d="M-13.7 0C-6.9-5.0 6.9-5.0 13.7 0C6.9 5.0-6.9 5.0-13.7 0Z" fill="#e0884c" transform="translate(192.4 15.8)rotate(6)"/><path d="M-13.5 0C-6.8-5.0 6.8-5.0 13.5 0C6.8 5.0-6.8 5.0-13.5 0Z" fill="#6f98c4" transform="translate(46.8 51.1)rotate(-12)"/><path d="M-11.1 0C-5.5-4.6 5.5-4.6 11.1 0C5.5 4.6-5.5 4.6-11.1 0Z" fill="#7fa6cc" transform="translate(5.3 43.4)rotate(5)"/><path d="M-12.7 0C-6.4-4.6 6.4-4.6 12.7 0C6.4 4.6-6.4 4.6-12.7 0Z" fill="#7fa6cc" transform="translate(220.3 33.7)rotate(-8)"/><path d="M-13.5 0C-6.8-5.0 6.8-5.0 13.5 0C6.8 5.0-6.8 5.0-13.5 0Z" fill="#7fa6cc" transform="translate(122.9 33.6)rotate(-14)"/><path d="M-12.8 0C-6.4-5.2 6.4-5.2 12.8 0C6.4 5.2-6.4 5.2-12.8 0Z" fill="#58dc48" transform="translate(200.7 80.4)rotate(8)"/><path d="M-11.5 0C-5.7-4.7 5.7-4.7 11.5 0C5.7 4.7-5.7 4.7-11.5 0Z" fill="#7fa6cc" transform="translate(134.5 7.4)rotate(5)"/><path d="M-12.5 0C-6.2-4.2 6.2-4.2 12.5 0C6.2 4.2-6.2 4.2-12.5 0Z" fill="#e0884c" transform="translate(126.1 16.3)rotate(11)"/><path d="M-13.9 0C-7.0-4.9 7.0-4.9 13.9 0C7.0 4.9-7.0 4.9-13.9 0Z" fill="#58dc48" transform="translate(175.1 8.4)rotate(5)"/><path d="M-12.9 0C-6.4-4.8 6.4-4.8 12.9 0C6.4 4.8-6.4 4.8-12.9 0Z" fill="#4fd042" transform="translate(105.7 -0.1)rotate(-7)"/><path d="M-13.6 0C-6.8-5.0 6.8-5.0 13.6 0C6.8 5.0-6.8 5.0-13.6 0Z" fill="#6f98c4" transform="translate(12.9 1.9)rotate(4)"/><path d="M-11.3 0C-5.7-4.5 5.7-4.5 11.3 0C5.7 4.5-5.7 4.5-11.3 0Z" fill="#4fd042" transform="translate(59.2 9.0)rotate(-10)"/><path d="M-11.5 0C-5.8-4.7 5.8-4.7 11.5 0C5.8 4.7-5.8 4.7-11.5 0Z" fill="#7fa6cc" transform="translate(188.2 20.6)rotate(-15)"/><path d="M-12.9 0C-6.4-4.8 6.4-4.8 12.9 0C6.4 4.8-6.4 4.8-12.9 0Z" fill="#6f98c4" transform="translate(21.0 8.5)rotate(3)"/><path d="M-13.9 0C-6.9-5.2 6.9-5.2 13.9 0C6.9 5.2-6.9 5.2-13.9 0Z" fill="#7fa6cc" transform="translate(61.9 71.4)rotate(-12)"/><path d="M-12.1 0C-6.0-4.1 6.0-4.1 12.1 0C6.0 4.1-6.0 4.1-12.1 0Z" fill="#6f98c4" transform="translate(208.7 42.5)rotate(-5)"/><path d="M-10.7 0C-5.3-4.9 5.3-4.9 10.7 0C5.3 4.9-5.3 4.9-10.7 0Z" fill="#e0884c" transform="translate(64.8 51.5)rotate(12)"/><path d="M-13.2 0C-6.6-4.1 6.6-4.1 13.2 0C6.6 4.1-6.6 4.1-13.2 0Z" fill="#e0884c" transform="translate(216.9 37.5)rotate(-19)"/><path d="M-10.9 0C-5.5-4.4 5.5-4.4 10.9 0C5.5 4.4-5.5 4.4-10.9 0Z" fill="#4fd042" transform="translate(0.7 8.5)rotate(-5)"/><path d="M-11.7 0C-5.8-4.6 5.8-4.6 11.7 0C5.8 4.6-5.8 4.6-11.7 0Z" fill="#4fd042" transform="translate(3.4 47.8)rotate(1)"/><path d="M-12.8 0C-6.4-4.8 6.4-4.8 12.8 0C6.4 4.8-6.4 4.8-12.8 0Z" fill="#7fa6cc" transform="translate(7.9 20.9)rotate(-7)"/><path d="M-10.7 0C-5.4-4.8 5.4-4.8 10.7 0C5.4 4.8-5.4 4.8-10.7 0Z" fill="#58dc48" transform="translate(153.8 8.0)rotate(2)"/><path d="M-12.9 0C-6.4-4.9 6.4-4.9 12.9 0C6.4 4.9-6.4 4.9-12.9 0Z" fill="#6f98c4" transform="translate(159.9 57.5)rotate(-18)"/><path d="M-13.2 0C-6.6-4.3 6.6-4.3 13.2 0C6.6 4.3-6.6 4.3-13.2 0Z" fill="#7fa6cc" transform="translate(212.6 14.6)rotate(-19)"/><path d="M-12.0 0C-6.0-4.5 6.0-4.5 12.0 0C6.0 4.5-6.0 4.5-12.0 0Z" fill="#d98048" transform="translate(125.1 -1.2)rotate(-20)"/><path d="M-11.5 0C-5.7-4.1 5.7-4.1 11.5 0C5.7 4.1-5.7 4.1-11.5 0Z" fill="#6f98c4" transform="translate(131.0 51.2)rotate(-18)"/><path d="M-11.0 0C-5.5-4.8 5.5-4.8 11.0 0C5.5 4.8-5.5 4.8-11.0 0Z" fill="#7fa6cc" transform="translate(179.6 -0.9)rotate(-8)"/><path d="M-13.2 0C-6.6-4.1 6.6-4.1 13.2 0C6.6 4.1-6.6 4.1-13.2 0Z" fill="#d98048" transform="translate(113.7 63.6)rotate(0)"/><path d="M-12.9 0C-6.5-4.8 6.5-4.8 12.9 0C6.5 4.8-6.5 4.8-12.9 0Z" fill="#e0884c" transform="translate(221.2 -4.5)rotate(-17)"/><path d="M-13.1 0C-6.5-5.1 6.5-5.1 13.1 0C6.5 5.1-6.5 5.1-13.1 0Z" fill="#e0884c" transform="translate(58.8 3.5)rotate(10)"/><path d="M-12.7 0C-6.3-5.0 6.3-5.0 12.7 0C6.3 5.0-6.3 5.0-12.7 0Z" fill="#7fa6cc" transform="translate(190.7 62.8)rotate(13)"/><path d="M-12.3 0C-6.2-4.1 6.2-4.1 12.3 0C6.2 4.1-6.2 4.1-12.3 0Z" fill="#4fd042" transform="translate(171.0 59.3)rotate(-18)"/><path d="M-12.7 0C-6.4-4.6 6.4-4.6 12.7 0C6.4 4.6-6.4 4.6-12.7 0Z" fill="#d98048" transform="translate(23.8 50.0)rotate(-16)"/><path d="M-13.6 0C-6.8-4.0 6.8-4.0 13.6 0C6.8 4.0-6.8 4.0-13.6 0Z" fill="#e0884c" transform="translate(163.2 4.5)rotate(9)"/><path d="M-12.1 0C-6.1-4.1 6.1-4.1 12.1 0C6.1 4.1-6.1 4.1-12.1 0Z" fill="#7fa6cc" transform="translate(233.8 60.9)rotate(-1)"/><path d="M-11.8 0C-5.9-4.8 5.9-4.8 11.8 0C5.9 4.8-5.9 4.8-11.8 0Z" fill="#58dc48" transform="translate(140.9 30.7)rotate(10)"/><path d="M-13.8 0C-6.9-5.2 6.9-5.2 13.8 0C6.9 5.2-6.9 5.2-13.8 0Z" fill="#d98048" transform="translate(5.2 30.5)rotate(11)"/><path d="M-12.6 0C-6.3-5.1 6.3-5.1 12.6 0C6.3 5.1-6.3 5.1-12.6 0Z" fill="#e0884c" transform="translate(21.6 13.7)rotate(12)"/><path d="M-10.9 0C-5.5-4.2 5.5-4.2 10.9 0C5.5 4.2-5.5 4.2-10.9 0Z" fill="#58dc48" transform="translate(168.7 69.4)rotate(-3)"/><path d="M-11.4 0C-5.7-5.0 5.7-5.0 11.4 0C5.7 5.0-5.7 5.0-11.4 0Z" fill="#58dc48" transform="translate(196.7 25.6)rotate(6)"/><path d="M-12.6 0C-6.3-4.1 6.3-4.1 12.6 0C6.3 4.1-6.3 4.1-12.6 0Z" fill="#d98048" transform="translate(44.6 79.2)rotate(7)"/><path d="M-11.9 0C-6.0-4.2 6.0-4.2 11.9 0C6.0 4.2-6.0 4.2-11.9 0Z" fill="#7fa6cc" transform="translate(84.0 12.3)rotate(-10)"/><path d="M-10.9 0C-5.5-4.1 5.5-4.1 10.9 0C5.5 4.1-5.5 4.1-10.9 0Z" fill="#4fd042" transform="translate(43.6 65.0)rotate(-4)"/><path d="M-10.8 0C-5.4-5.1 5.4-5.1 10.8 0C5.4 5.1-5.4 5.1-10.8 0Z" fill="#e0884c" transform="translate(121.1 2.6)rotate(-13)"/><path d="M-13.3 0C-6.7-4.5 6.7-4.5 13.3 0C6.7 4.5-6.7 4.5-13.3 0Z" fill="#e0884c" transform="translate(134.0 81.0)rotate(-16)"/><path d="M-12.2 0C-6.1-5.2 6.1-5.2 12.2 0C6.1 5.2-6.1 5.2-12.2 0Z" fill="#4fd042" transform="translate(80.9 57.6)rotate(7)"/><path d="M-10.6 0C-5.3-4.2 5.3-4.2 10.6 0C5.3 4.2-5.3 4.2-10.6 0Z" fill="#4fd042" transform="translate(62.6 38.6)rotate(-9)"/><path d="M-11.1 0C-5.5-4.1 5.5-4.1 11.1 0C5.5 4.1-5.5 4.1-11.1 0Z" fill="#7fa6cc" transform="translate(9.0 27.9)rotate(9)"/><path d="M-12.6 0C-6.3-4.8 6.3-4.8 12.6 0C6.3 4.8-6.3 4.8-12.6 0Z" fill="#7fa6cc" transform="translate(62.0 17.0)rotate(0)"/><path d="M-13.7 0C-6.9-4.0 6.9-4.0 13.7 0C6.9 4.0-6.9 4.0-13.7 0Z" fill="#7fa6cc" transform="translate(104.2 67.4)rotate(6)"/><path d="M-12.5 0C-6.3-4.6 6.3-4.6 12.5 0C6.3 4.6-6.3 4.6-12.5 0Z" fill="#6f98c4" transform="translate(43.7 12.7)rotate(-16)"/><path d="M-12.8 0C-6.4-4.2 6.4-4.2 12.8 0C6.4 4.2-6.4 4.2-12.8 0Z" fill="#6f98c4" transform="translate(150.5 71.9)rotate(-8)"/><path d="M-13.9 0C-6.9-4.1 6.9-4.1 13.9 0C6.9 4.1-6.9 4.1-13.9 0Z" fill="#58dc48" transform="translate(44.7 -3.5)rotate(-17)"/><path d="M-11.2 0C-5.6-4.0 5.6-4.0 11.2 0C5.6 4.0-5.6 4.0-11.2 0Z" fill="#e0884c" transform="translate(60.9 68.5)rotate(-18)"/><path d="M-14.0 0C-7.0-4.3 7.0-4.3 14.0 0C7.0 4.3-7.0 4.3-14.0 0Z" fill="#e0884c" transform="translate(105.5 13.2)rotate(5)"/><path d="M-13.9 0C-7.0-5.1 7.0-5.1 13.9 0C7.0 5.1-7.0 5.1-13.9 0Z" fill="#7fa6cc" transform="translate(114.6 7.0)rotate(-6)"/><path d="M-12.8 0C-6.4-5.0 6.4-5.0 12.8 0C6.4 5.0-6.4 5.0-12.8 0Z" fill="#7fa6cc" transform="translate(188.3 45.3)rotate(-11)"/><path d="M-13.5 0C-6.7-4.2 6.7-4.2 13.5 0C6.7 4.2-6.7 4.2-13.5 0Z" fill="#58dc48" transform="translate(22.3 41.3)rotate(-2)"/><path d="M-12.3 0C-6.2-4.6 6.2-4.6 12.3 0C6.2 4.6-6.2 4.6-12.3 0Z" fill="#e0884c" transform="translate(149.4 22.1)rotate(-6)"/><path d="M-11.7 0C-5.9-5.1 5.9-5.1 11.7 0C5.9 5.1-5.9 5.1-11.7 0Z" fill="#6f98c4" transform="translate(215.8 27.5)rotate(-9)"/><path d="M-12.0 0C-6.0-4.9 6.0-4.9 12.0 0C6.0 4.9-6.0 4.9-12.0 0Z" fill="#58dc48" transform="translate(215.3 50.5)rotate(-1)"/><path d="M-13.6 0C-6.8-4.3 6.8-4.3 13.6 0C6.8 4.3-6.8 4.3-13.6 0Z" fill="#e0884c" transform="translate(189.5 74.9)rotate(-6)"/><path d="M-11.3 0C-5.6-4.6 5.6-4.6 11.3 0C5.6 4.6-5.6 4.6-11.3 0Z" fill="#6f98c4" transform="translate(208.4 67.6)rotate(-15)"/><path d="M-11.1 0C-5.5-4.8 5.5-4.8 11.1 0C5.5 4.8-5.5 4.8-11.1 0Z" fill="#4fd042" transform="translate(107.3 45.6)rotate(12)"/><path d="M-11.5 0C-5.7-4.6 5.7-4.6 11.5 0C5.7 4.6-5.7 4.6-11.5 0Z" fill="#6f98c4" transform="translate(2.8 72.6)rotate(0)"/><path d="M-12.1 0C-6.1-4.2 6.1-4.2 12.1 0C6.1 4.2-6.1 4.2-12.1 0Z" fill="#58dc48" transform="translate(171.4 12.8)rotate(-14)"/><path d="M-11.3 0C-5.6-4.3 5.6-4.3 11.3 0C5.6 4.3-5.6 4.3-11.3 0Z" fill="#e0884c" transform="translate(25.0 -3.1)rotate(4)"/><path d="M-13.3 0C-6.6-4.6 6.6-4.6 13.3 0C6.6 4.6-6.6 4.6-13.3 0Z" fill="#6f98c4" transform="translate(2.0 38.0)rotate(-11)"/><path d="M-12.4 0C-6.2-4.5 6.2-4.5 12.4 0C6.2 4.5-6.2 4.5-12.4 0Z" fill="#4fd042" transform="translate(151.8 62.9)rotate(13)"/><path d="M-13.7 0C-6.8-4.6 6.8-4.6 13.7 0C6.8 4.6-6.8 4.6-13.7 0Z" fill="#e0884c" transform="translate(127.5 73.7)rotate(7)"/><path d="M-13.9 0C-7.0-5.1 7.0-5.1 13.9 0C7.0 5.1-7.0 5.1-13.9 0Z" fill="#e0884c" transform="translate(49.0 42.7)rotate(6)"/><path d="M-12.9 0C-6.4-4.1 6.4-4.1 12.9 0C6.4 4.1-6.4 4.1-12.9 0Z" fill="#4fd042" transform="translate(50.2 20.8)rotate(-7)"/><path d="M-11.8 0C-5.9-5.0 5.9-5.0 11.8 0C5.9 5.0-5.9 5.0-11.8 0Z" fill="#e0884c" transform="translate(227.0 66.0)rotate(8)"/><path d="M-11.7 0C-5.8-4.2 5.8-4.2 11.7 0C5.8 4.2-5.8 4.2-11.7 0Z" fill="#7fa6cc" transform="translate(82.7 75.3)rotate(11)"/><path d="M-13.4 0C-6.7-4.9 6.7-4.9 13.4 0C6.7 4.9-6.7 4.9-13.4 0Z" fill="#d98048" transform="translate(190.9 66.6)rotate(-12)"/><path d="M-11.1 0C-5.6-4.1 5.6-4.1 11.1 0C5.6 4.1-5.6 4.1-11.1 0Z" fill="#d98048" transform="translate(78.5 32.7)rotate(-6)"/><path d="M-12.2 0C-6.1-4.9 6.1-4.9 12.2 0C6.1 4.9-6.1 4.9-12.2 0Z" fill="#e0884c" transform="translate(181.4 32.9)rotate(-12)"/><path d="M-11.2 0C-5.6-5.1 5.6-5.1 11.2 0C5.6 5.1-5.6 5.1-11.2 0Z" fill="#e0884c" transform="translate(6.2 0.1)rotate(-4)"/><path d="M-13.7 0C-6.8-4.1 6.8-4.1 13.7 0C6.8 4.1-6.8 4.1-13.7 0Z" fill="#58dc48" transform="translate(53.3 27.7)rotate(-0)"/><path d="M-12.3 0C-6.2-4.8 6.2-4.8 12.3 0C6.2 4.8-6.2 4.8-12.3 0Z" fill="#6f98c4" transform="translate(2.6 16.6)rotate(-3)"/><path d="M-13.3 0C-6.6-5.0 6.6-5.0 13.3 0C6.6 5.0-6.6 5.0-13.3 0Z" fill="#7fa6cc" transform="translate(85.1 47.8)rotate(-18)"/><path d="M-12.4 0C-6.2-4.6 6.2-4.6 12.4 0C6.2 4.6-6.2 4.6-12.4 0Z" fill="#7fa6cc" transform="translate(204.9 3.0)rotate(12)"/><path d="M-13.9 0C-6.9-4.8 6.9-4.8 13.9 0C6.9 4.8-6.9 4.8-13.9 0Z" fill="#e0884c" transform="translate(109.1 50.3)rotate(-7)"/><path d="M-13.8 0C-6.9-5.0 6.9-5.0 13.8 0C6.9 5.0-6.9 5.0-13.8 0Z" fill="#4fd042" transform="translate(79.0 3.0)rotate(-18)"/><path d="M-13.2 0C-6.6-4.0 6.6-4.0 13.2 0C6.6 4.0-6.6 4.0-13.2 0Z" fill="#e0884c" transform="translate(100.6 57.5)rotate(4)"/><path d="M-13.5 0C-6.8-4.7 6.8-4.7 13.5 0C6.8 4.7-6.8 4.7-13.5 0Z" fill="#58dc48" transform="translate(148.9 64.8)rotate(-13)"/><path d="M-11.3 0C-5.6-5.2 5.6-5.2 11.3 0C5.6 5.2-5.6 5.2-11.3 0Z" fill="#e0884c" transform="translate(101.1 36.6)rotate(-7)"/><path d="M-12.0 0C-6.0-4.8 6.0-4.8 12.0 0C6.0 4.8-6.0 4.8-12.0 0Z" fill="#7fa6cc" transform="translate(62.1 34.1)rotate(10)"/><path d="M-13.8 0C-6.9-4.3 6.9-4.3 13.8 0C6.9 4.3-6.9 4.3-13.8 0Z" fill="#7fa6cc" transform="translate(3.6 61.9)rotate(-6)"/><path d="M-11.2 0C-5.6-4.2 5.6-4.2 11.2 0C5.6 4.2-5.6 4.2-11.2 0Z" fill="#e0884c" transform="translate(127.0 42.4)rotate(-7)"/><path d="M-11.4 0C-5.7-4.8 5.7-4.8 11.4 0C5.7 4.8-5.7 4.8-11.4 0Z" fill="#d98048" transform="translate(159.7 24.0)rotate(-9)"/><path d="M-11.7 0C-5.9-4.4 5.9-4.4 11.7 0C5.9 4.4-5.9 4.4-11.7 0Z" fill="#4fd042" transform="translate(228.5 73.9)rotate(13)"/><path d="M-11.3 0C-5.7-4.4 5.7-4.4 11.3 0C5.7 4.4-5.7 4.4-11.3 0Z" fill="#7fa6cc" transform="translate(120.7 37.4)rotate(13)"/><path d="M-13.2 0C-6.6-4.7 6.6-4.7 13.2 0C6.6 4.7-6.6 4.7-13.2 0Z" fill="#6f98c4" transform="translate(42.8 40.9)rotate(-15)"/><path d="M-11.2 0C-5.6-4.8 5.6-4.8 11.2 0C5.6 4.8-5.6 4.8-11.2 0Z" fill="#58dc48" transform="translate(44.3 57.5)rotate(12)"/><path d="M-11.1 0C-5.6-4.8 5.6-4.8 11.1 0C5.6 4.8-5.6 4.8-11.1 0Z" fill="#58dc48" transform="translate(26.9 80.9)rotate(-8)"/><path d="M-13.3 0C-6.6-4.6 6.6-4.6 13.3 0C6.6 4.6-6.6 4.6-13.3 0Z" fill="#e0884c" transform="translate(178.5 77.3)rotate(4)"/><path d="M-11.3 0C-5.7-4.2 5.7-4.2 11.3 0C5.7 4.2-5.7 4.2-11.3 0Z" fill="#58dc48" transform="translate(208.5 19.7)rotate(-18)"/><path d="M-11.0 0C-5.5-4.6 5.5-4.6 11.0 0C5.5 4.6-5.5 4.6-11.0 0Z" fill="#e0884c" transform="translate(125.3 25.5)rotate(-15)"/><path d="M-11.4 0C-5.7-4.8 5.7-4.8 11.4 0C5.7 4.8-5.7 4.8-11.4 0Z" fill="#4fd042" transform="translate(93.7 11.4)rotate(6)"/><path d="M-13.1 0C-6.6-4.7 6.6-4.7 13.1 0C6.6 4.7-6.6 4.7-13.1 0Z" fill="#7fa6cc" transform="translate(22.5 68.2)rotate(-6)"/><path d="M-12.7 0C-6.3-4.8 6.3-4.8 12.7 0C6.3 4.8-6.3 4.8-12.7 0Z" fill="#d98048" transform="translate(71.2 43.3)rotate(8)"/><path d="M-12.9 0C-6.5-5.1 6.5-5.1 12.9 0C6.5 5.1-6.5 5.1-12.9 0Z" fill="#4fd042" transform="translate(215.1 53.1)rotate(-3)"/><path d="M-13.0 0C-6.5-4.9 6.5-4.9 13.0 0C6.5 4.9-6.5 4.9-13.0 0Z" fill="#7fa6cc" transform="translate(155.5 78.1)rotate(-12)"/><path d="M-13.2 0C-6.6-4.4 6.6-4.4 13.2 0C6.6 4.4-6.6 4.4-13.2 0Z" fill="#7fa6cc" transform="translate(174.3 48.0)rotate(-8)"/><path d="M-13.5 0C-6.7-4.4 6.7-4.4 13.5 0C6.7 4.4-6.7 4.4-13.5 0Z" fill="#e0884c" transform="translate(210.9 60.9)rotate(-2)"/><path d="M-12.9 0C-6.4-5.1 6.4-5.1 12.9 0C6.4 5.1-6.4 5.1-12.9 0Z" fill="#e0884c" transform="translate(224.5 3.3)rotate(-18)"/><path d="M-10.7 0C-5.3-5.1 5.3-5.1 10.7 0C5.3 5.1-5.3 5.1-10.7 0Z" fill="#4fd042" transform="translate(70.5 17.7)rotate(-18)"/><path d="M-13.1 0C-6.5-4.7 6.5-4.7 13.1 0C6.5 4.7-6.5 4.7-13.1 0Z" fill="#58dc48" transform="translate(234.6 10.0)rotate(11)"/><path d="M-12.5 0C-6.2-5.0 6.2-5.0 12.5 0C6.2 5.0-6.2 5.0-12.5 0Z" fill="#7fa6cc" transform="translate(89.5 28.9)rotate(-1)"/><path d="M-12.0 0C-6.0-4.9 6.0-4.9 12.0 0C6.0 4.9-6.0 4.9-12.0 0Z" fill="#e0884c" transform="translate(142.7 24.9)rotate(7)"/><path d="M-10.8 0C-5.4-4.6 5.4-4.6 10.8 0C5.4 4.6-5.4 4.6-10.8 0Z" fill="#4fd042" transform="translate(140.1 37.3)rotate(-19)"/><path d="M-11.8 0C-5.9-4.6 5.9-4.6 11.8 0C5.9 4.6-5.9 4.6-11.8 0Z" fill="#7fa6cc" transform="translate(66.5 -2.9)rotate(2)"/><path d="M-11.1 0C-5.6-5.1 5.6-5.1 11.1 0C5.6 5.1-5.6 5.1-11.1 0Z" fill="#7fa6cc" transform="translate(91.2 45.6)rotate(-18)"/><path d="M-13.2 0C-6.6-4.6 6.6-4.6 13.2 0C6.6 4.6-6.6 4.6-13.2 0Z" fill="#e0884c" transform="translate(167.5 44.0)rotate(-2)"/><path d="M-10.5 0C-5.3-4.4 5.3-4.4 10.5 0C5.3 4.4-5.3 4.4-10.5 0Z" fill="#6f98c4" transform="translate(42.1 75.3)rotate(1)"/><path d="M-42 0Q0-10 42 0Q0 10-42 0Z" fill="#b4acc0" transform="translate(100 40)rotate(-62)"/></g></symbol><symbol id="pile_yellow" viewBox="0 0 210 78" preserveAspectRatio="none"><rect width="210" height="78" fill="#000"/><defs><linearGradient id="gy" x1="0" y1="0" x2="0" y2="1"><stop offset="0" stop-color="#2a2a28"/><stop offset="0.1" stop-color="#6a6658"/><stop offset="0.18" stop-color="#a49a80"/><stop offset="0.26" stop-color="#4a463a"/><stop offset="0.34" stop-color="#a89870"/><stop offset="0.6" stop-color="#b4a274"/><stop offset="0.9" stop-color="#706450"/><stop offset="1" stop-color="#2c2c2c"/></linearGradient></defs><rect width="210" height="78" fill="url(#gy)"/><g stroke="#1a1c24" stroke-width="0.7"><path d="M-12.9 0C-6.5-3.6 6.5-3.6 12.9 0C6.5 3.6-6.5 3.6-12.9 0Z" fill="#8a8faf" transform="translate(84.1 47.8)rotate(-24)"/><path d="M-13.4 0C-6.7-4.4 6.7-4.4 13.4 0C6.7 4.4-6.7 4.4-13.4 0Z" fill="#aab1d8" transform="translate(11.3 33.6)rotate(-39)"/><path d="M-11.7 0C-5.8-4.5 5.8-4.5 11.7 0C5.8 4.5-5.8 4.5-11.7 0Z" fill="#bcc3ee" transform="translate(11.3 41.6)rotate(-19)"/><path d="M-13.5 0C-6.7-4.5 6.7-4.5 13.5 0C6.7 4.5-6.7 4.5-13.5 0Z" fill="#6f748d" transform="translate(57.5 72.9)rotate(-23)"/><path d="M-11.5 0C-5.7-4.5 5.7-4.5 11.5 0C5.7 4.5-5.7 4.5-11.5 0Z" fill="#a5acd2" transform="translate(49.5 39.3)rotate(6)"/><path d="M-10.6 0C-5.3-3.9 5.3-3.9 10.6 0C5.3 3.9-5.3 3.9-10.6 0Z" fill="#9ea5c9" transform="translate(69.3 41.9)rotate(-15)"/><path d="M-12.6 0C-6.3-3.8 6.3-3.8 12.6 0C6.3 3.8-6.3 3.8-12.6 0Z" fill="#99a0c3" transform="translate(70.1 33.5)rotate(-0)"/><path d="M-12.4 0C-6.2-3.7 6.2-3.7 12.4 0C6.2 3.7-6.2 3.7-12.4 0Z" fill="#5b5e73" transform="translate(48.7 31.8)rotate(19)"/><path d="M-11.1 0C-5.6-4.4 5.6-4.4 11.1 0C5.6 4.4-5.6 4.4-11.1 0Z" fill="#515567" transform="translate(44.6 17.1)rotate(20)"/><path d="M-12.1 0C-6.0-4.2 6.0-4.2 12.1 0C6.0 4.2-6.0 4.2-12.1 0Z" fill="#7a7f9b" transform="translate(88.7 17.0)rotate(-17)"/><path d="M-12.1 0C-6.0-4.0 6.0-4.0 12.1 0C6.0 4.0-6.0 4.0-12.1 0Z" fill="#a3aacf" transform="translate(26.2 23.7)rotate(-26)"/><path d="M-13.4 0C-6.7-4.4 6.7-4.4 13.4 0C6.7 4.4-6.7 4.4-13.4 0Z" fill="#6b6f88" transform="translate(68.7 23.7)rotate(-2)"/><path d="M-11.2 0C-5.6-4.2 5.6-4.2 11.2 0C5.6 4.2-5.6 4.2-11.2 0Z" fill="#878dac" transform="translate(119.2 71.8)rotate(-29)"/><path d="M-10.2 0C-5.1-4.3 5.1-4.3 10.2 0C5.1 4.3-5.1 4.3-10.2 0Z" fill="#727791" transform="translate(4.0 54.4)rotate(18)"/><path d="M-11.0 0C-5.5-4.0 5.5-4.0 11.0 0C5.5 4.0-5.5 4.0-11.0 0Z" fill="#afb6de" transform="translate(63.3 51.5)rotate(1)"/><path d="M-13.5 0C-6.7-4.5 6.7-4.5 13.5 0C6.7 4.5-6.7 4.5-13.5 0Z" fill="#bac1ec" transform="translate(102.8 68.4)rotate(-38)"/><path d="M-13.7 0C-6.8-4.0 6.8-4.0 13.7 0C6.8 4.0-6.8 4.0-13.7 0Z" fill="#7c819d" transform="translate(66.1 15.7)rotate(11)"/><path d="M-12.4 0C-6.2-4.5 6.2-4.5 12.4 0C6.2 4.5-6.2 4.5-12.4 0Z" fill="#c0c8f3" transform="translate(79.6 26.5)rotate(11)"/><path d="M-11.0 0C-5.5-3.6 5.5-3.6 11.0 0C5.5 3.6-5.5 3.6-11.0 0Z" fill="#55596c" transform="translate(96.6 28.6)rotate(6)"/><path d="M-13.2 0C-6.6-4.3 6.6-4.3 13.2 0C6.6 4.3-6.6 4.3-13.2 0Z" fill="#666a82" transform="translate(132.2 40.8)rotate(-20)"/><path d="M-11.5 0C-5.7-3.9 5.7-3.9 11.5 0C5.7 3.9-5.7 3.9-11.5 0Z" fill="#6a6f87" transform="translate(138.8 71.9)rotate(-13)"/><path d="M-11.2 0C-5.6-3.9 5.6-3.9 11.2 0C5.6 3.9-5.6 3.9-11.2 0Z" fill="#5f6379" transform="translate(7.7 26.7)rotate(1)"/><path d="M-13.1 0C-6.6-4.5 6.6-4.5 13.1 0C6.6 4.5-6.6 4.5-13.1 0Z" fill="#9fa5c9" transform="translate(90.0 37.7)rotate(-15)"/><path d="M-11.3 0C-5.7-4.2 5.7-4.2 11.3 0C5.7 4.2-5.7 4.2-11.3 0Z" fill="#8e94b4" transform="translate(5.9 15.3)rotate(13)"/><path d="M-10.9 0C-5.5-4.2 5.5-4.2 10.9 0C5.5 4.2-5.5 4.2-10.9 0Z" fill="#bbc2ed" transform="translate(100.1 59.9)rotate(2)"/><path d="M-13.1 0C-6.5-4.4 6.5-4.4 13.1 0C6.5 4.4-6.5 4.4-13.1 0Z" fill="#666a82" transform="translate(25.9 59.6)rotate(-36)"/><path d="M-11.3 0C-5.6-3.7 5.6-3.7 11.3 0C5.6 3.7-5.6 3.7-11.3 0Z" fill="#8c91b1" transform="translate(29.5 46.5)rotate(16)"/><path d="M-12.5 0C-6.2-3.6 6.2-3.6 12.5 0C6.2 3.6-6.2 3.6-12.5 0Z" fill="#b3bae3" transform="translate(107.4 16.2)rotate(14)"/><path d="M-13.2 0C-6.6-3.9 6.6-3.9 13.2 0C6.6 3.9-6.6 3.9-13.2 0Z" fill="#979dc0" transform="translate(77.6 71.5)rotate(-7)"/><path d="M-10.7 0C-5.4-4.2 5.4-4.2 10.7 0C5.4 4.2-5.4 4.2-10.7 0Z" fill="#717690" transform="translate(125.0 52.6)rotate(-32)"/><path d="M-10.4 0C-5.2-4.5 5.2-4.5 10.4 0C5.2 4.5-5.2 4.5-10.4 0Z" fill="#585b6f" transform="translate(37.8 71.0)rotate(-40)"/><path d="M-10.7 0C-5.4-4.2 5.4-4.2 10.7 0C5.4 4.2-5.4 4.2-10.7 0Z" fill="#b9c1eb" transform="translate(31.3 32.1)rotate(-0)"/><path d="M-12.4 0C-6.2-4.2 6.2-4.2 12.4 0C6.2 4.2-6.2 4.2-12.4 0Z" fill="#8489a8" transform="translate(109.7 34.4)rotate(-10)"/><path d="M-12.7 0C-6.3-3.8 6.3-3.8 12.7 0C6.3 3.8-6.3 3.8-12.7 0Z" fill="#c0c7f3" transform="translate(90.2 22.0)rotate(-31)"/><path d="M-12.7 0C-6.4-3.6 6.4-3.6 12.7 0C6.4 3.6-6.4 3.6-12.7 0Z" fill="#5e6278" transform="translate(89.4 32.3)rotate(-19)"/><path d="M-10.7 0C-5.3-3.8 5.3-3.8 10.7 0C5.3 3.8-5.3 3.8-10.7 0Z" fill="#abb1d9" transform="translate(61.5 29.7)rotate(4)"/><path d="M-10.9 0C-5.5-4.3 5.5-4.3 10.9 0C5.5 4.3-5.5 4.3-10.9 0Z" fill="#abb2d9" transform="translate(44.4 26.4)rotate(-4)"/><path d="M-10.7 0C-5.4-4.3 5.4-4.3 10.7 0C5.4 4.3-5.4 4.3-10.7 0Z" fill="#6e728b" transform="translate(127.2 44.5)rotate(-27)"/><path d="M-13.6 0C-6.8-4.2 6.8-4.2 13.6 0C6.8 4.2-6.8 4.2-13.6 0Z" fill="#505466" transform="translate(6.0 19.9)rotate(-16)"/><path d="M-13.8 0C-6.9-3.5 6.9-3.5 13.8 0C6.9 3.5-6.9 3.5-13.8 0Z" fill="#797d99" transform="translate(81.0 59.5)rotate(28)"/><path d="M-10.6 0C-5.3-3.8 5.3-3.8 10.6 0C5.3 3.8-5.3 3.8-10.6 0Z" fill="#54586b" transform="translate(62.1 62.0)rotate(-17)"/><path d="M-11.7 0C-5.9-4.3 5.9-4.3 11.7 0C5.9 4.3-5.9 4.3-11.7 0Z" fill="#a4aad0" transform="translate(123.7 69.5)rotate(-3)"/><path d="M-13.8 0C-6.9-4.2 6.9-4.2 13.8 0C6.9 4.2-6.9 4.2-13.8 0Z" fill="#777b97" transform="translate(11.0 47.9)rotate(6)"/><path d="M-11.4 0C-5.7-4.2 5.7-4.2 11.4 0C5.7 4.2-5.7 4.2-11.4 0Z" fill="#bbc3ee" transform="translate(117.5 61.7)rotate(4)"/><path d="M-12.6 0C-6.3-3.5 6.3-3.5 12.6 0C6.3 3.5-6.3 3.5-12.6 0Z" fill="#797e99" transform="translate(26.9 28.5)rotate(26)"/><path d="M-12.9 0C-6.5-4.4 6.5-4.4 12.9 0C6.5 4.4-6.5 4.4-12.9 0Z" fill="#a6add3" transform="translate(6.2 62.8)rotate(-39)"/><path d="M-12.6 0C-6.3-3.5 6.3-3.5 12.6 0C6.3 3.5-6.3 3.5-12.6 0Z" fill="#b1b8e1" transform="translate(46.9 20.3)rotate(-32)"/><path d="M-11.1 0C-5.5-3.9 5.5-3.9 11.1 0C5.5 3.9-5.5 3.9-11.1 0Z" fill="#696e86" transform="translate(6.6 67.7)rotate(-40)"/><path d="M-11.2 0C-5.6-3.7 5.6-3.7 11.2 0C5.6 3.7-5.6 3.7-11.2 0Z" fill="#55586c" transform="translate(136.7 58.7)rotate(-19)"/><path d="M-13.3 0C-6.7-4.5 6.7-4.5 13.3 0C6.7 4.5-6.7 4.5-13.3 0Z" fill="#bbc3ee" transform="translate(61.5 69.4)rotate(-31)"/><path d="M-10.9 0C-5.4-3.8 5.4-3.8 10.9 0C5.4 3.8-5.4 3.8-10.9 0Z" fill="#8a90af" transform="translate(24.2 69.7)rotate(-36)"/><path d="M-13.1 0C-6.6-4.2 6.6-4.2 13.1 0C6.6 4.2-6.6 4.2-13.1 0Z" fill="#777c97" transform="translate(106.9 48.5)rotate(27)"/><path d="M-13.6 0C-6.8-3.6 6.8-3.6 13.6 0C6.8 3.6-6.8 3.6-13.6 0Z" fill="#6d718a" transform="translate(106.7 51.6)rotate(20)"/><path d="M-11.3 0C-5.7-3.7 5.7-3.7 11.3 0C5.7 3.7-5.7 3.7-11.3 0Z" fill="#a8aed5" transform="translate(111.2 41.1)rotate(-26)"/><path d="M-11.1 0C-5.5-3.7 5.5-3.7 11.1 0C5.5 3.7-5.5 3.7-11.1 0Z" fill="#64687f" transform="translate(64.5 47.4)rotate(-23)"/><path d="M-10.4 0C-5.2-4.3 5.2-4.3 10.4 0C5.2 4.3-5.2 4.3-10.4 0Z" fill="#9399bb" transform="translate(40.8 67.3)rotate(-13)"/><path d="M-11.5 0C-5.7-4.5 5.7-4.5 11.5 0C5.7 4.5-5.7 4.5-11.5 0Z" fill="#8d93b4" transform="translate(108.8 20.6)rotate(-6)"/><path d="M-13.2 0C-6.6-3.8 6.6-3.8 13.2 0C6.6 3.8-6.6 3.8-13.2 0Z" fill="#8d93b3" transform="translate(85.2 55.3)rotate(18)"/><path d="M-12.1 0C-6.1-4.2 6.1-4.2 12.1 0C6.1 4.2-6.1 4.2-12.1 0Z" fill="#5d6176" transform="translate(81.9 66.4)rotate(-29)"/><path d="M-12.6 0C-6.3-4.2 6.3-4.2 12.6 0C6.3 4.2-6.3 4.2-12.6 0Z" fill="#999fc2" transform="translate(31.5 38.5)rotate(-27)"/><path d="M-13.9 0C-6.9-4.3 6.9-4.3 13.9 0C6.9 4.3-6.9 4.3-13.9 0Z" fill="#b7bee8" transform="translate(25.4 52.2)rotate(-38)"/><path d="M-12.2 0C-6.1-4.4 6.1-4.4 12.2 0C6.1 4.4-6.1 4.4-12.2 0Z" fill="#737791" transform="translate(45.4 58.3)rotate(-17)"/><path d="M-11.7 0C-5.8-4.2 5.8-4.2 11.7 0C5.8 4.2-5.8 4.2-11.7 0Z" fill="#747993" transform="translate(25.3 15.7)rotate(24)"/><path d="M-12.4 0C-6.2-4.1 6.2-4.1 12.4 0C6.2 4.1-6.2 4.1-12.4 0Z" fill="#b6bde7" transform="translate(116.7 26.6)rotate(-21)"/><path d="M-11.7 0C-5.9-3.8 5.9-3.8 11.7 0C5.9 3.8-5.9 3.8-11.7 0Z" fill="#9096b7" transform="translate(44.4 53.4)rotate(-21)"/><path d="M-10.1 0C-5.1-3.5 5.1-3.5 10.1 0C5.1 3.5-5.1 3.5-10.1 0Z" fill="#6d728b" transform="translate(46.8 47.3)rotate(3)"/><path d="M-8.5 0C-4.2-3.0 4.2-3.0 8.5 0C4.2 3.0-4.2 3.0-8.5 0Z" fill="#2f313c" transform="translate(195.7 66.9)rotate(-17)"/><path d="M-10.8 0C-5.4-3.7 5.4-3.7 10.8 0C5.4 3.7-5.4 3.7-10.8 0Z" fill="#62667d" transform="translate(226.5 34.9)rotate(11)"/><path d="M-8.2 0C-4.1-3.1 4.1-3.1 8.2 0C4.1 3.1-4.1 3.1-8.2 0Z" fill="#47495a" transform="translate(228.0 44.2)rotate(13)"/><path d="M-8.8 0C-4.4-3.9 4.4-3.9 8.8 0C4.4 3.9-4.4 3.9-8.8 0Z" fill="#4f5264" transform="translate(139.9 58.8)rotate(-53)"/><path d="M-10.2 0C-5.1-3.7 5.1-3.7 10.2 0C5.1 3.7-5.1 3.7-10.2 0Z" fill="#414453" transform="translate(170.1 57.3)rotate(40)"/><path d="M-10.1 0C-5.1-3.7 5.1-3.7 10.1 0C5.1 3.7-5.1 3.7-10.1 0Z" fill="#5a5e72" transform="translate(150.2 33.6)rotate(-32)"/><path d="M-8.3 0C-4.1-3.8 4.1-3.8 8.3 0C4.1 3.8-4.1 3.8-8.3 0Z" fill="#61647b" transform="translate(211.2 33.8)rotate(-58)"/><path d="M-10.5 0C-5.3-3.3 5.3-3.3 10.5 0C5.3 3.3-5.3 3.3-10.5 0Z" fill="#444756" transform="translate(142.3 43.8)rotate(0)"/><path d="M-9.5 0C-4.7-4.0 4.7-4.0 9.5 0C4.7 4.0-4.7 4.0-9.5 0Z" fill="#343642" transform="translate(133.3 35.0)rotate(5)"/><path d="M-10.3 0C-5.1-3.4 5.1-3.4 10.3 0C5.1 3.4-5.1 3.4-10.3 0Z" fill="#727791" transform="translate(214.9 47.5)rotate(25)"/><path d="M-9.7 0C-4.8-3.1 4.8-3.1 9.7 0C4.8 3.1-4.8 3.1-9.7 0Z" fill="#6d718a" transform="translate(201.4 58.0)rotate(-9)"/><path d="M-10.4 0C-5.2-3.0 5.2-3.0 10.4 0C5.2 3.0-5.2 3.0-10.4 0Z" fill="#30323d" transform="translate(129.0 67.9)rotate(27)"/><path d="M-8.9 0C-4.5-3.8 4.5-3.8 8.9 0C4.5 3.8-4.5 3.8-8.9 0Z" fill="#55596c" transform="translate(154.5 55.7)rotate(15)"/><path d="M-10.7 0C-5.3-3.3 5.3-3.3 10.7 0C5.3 3.3-5.3 3.3-10.7 0Z" fill="#5e6177" transform="translate(182.6 32.7)rotate(-69)"/><path d="M-10.6 0C-5.3-4.0 5.3-4.0 10.6 0C5.3 4.0-5.3 4.0-10.6 0Z" fill="#4a4d5e" transform="translate(216.3 54.5)rotate(29)"/></g><rect y="73" width="210" height="5" fill="#262628"/></symbol><symbol id="vessel1" viewBox="0 0 120 68" preserveAspectRatio="none"><rect width="120" height="68" fill="#000"/><defs><linearGradient id="gv1" x1="0" y1="0" x2="0" y2="1"><stop offset="0" stop-color="#f2f2f2"/><stop offset="0.2" stop-color="#d6d8d6"/><stop offset="1" stop-color="#b4b8b0"/></linearGradient></defs><rect width="120" height="68" fill="url(#gv1)"/><polygon points="0,30 40,20 46,24 10,46 0,50" fill="#8a8e86"/><polygon points="120,30 78,20 70,26 104,60 120,58" fill="#9a9e90"/><rect x="0" y="42" width="30" height="26" fill="#d8dad6"/><rect x="92" y="44" width="28" height="24" fill="#c8ccc2"/><polygon points="34,68 60,68 76,18 68,18" fill="#34363c"/><polygon points="32,68 36,68 69,18 67,18" fill="#e4e4e4"/><polygon points="60,68 64,68 78,18 76,18" fill="#d8d8d8"/><g stroke="#222" stroke-width="0.4"><ellipse cx="47.14" cy="49.59" rx="4.42" ry="1.98" fill="#2e3446" transform="rotate(-65.2 47.14 49.59)"/><ellipse cx="58.17" cy="62.72" rx="3.7" ry="2.4" fill="#2e3446" transform="rotate(-61.23 58.17 62.72)"/><ellipse cx="54.11" cy="60.11" rx="3.7" ry="1.55" fill="#8e96b4" transform="rotate(-60.95 54.11 60.11)"/><ellipse cx="67.78" cy="44.04" rx="3.48" ry="2.36" fill="#d8dce8" transform="rotate(-79.39 67.78 44.04)"/><ellipse cx="41.28" cy="58.08" rx="4.42" ry="2.12" fill="#50586f" transform="rotate(-47.06 41.28 58.08)"/><ellipse cx="66.36" cy="55.71" rx="5.18" ry="1.98" fill="#b3bad0" transform="rotate(-43.16 66.36 55.71)"/><ellipse cx="68.92" cy="34.83" rx="3.41" ry="1.62" fill="#d8dce8" transform="rotate(-65.38 68.92 34.83)"/><ellipse cx="68.96" cy="45.7" rx="4.26" ry="2.23" fill="#50586f" transform="rotate(-54.93 68.96 45.7)"/><ellipse cx="57.22" cy="49.23" rx="5.71" ry="2.08" fill="#8e96b4" transform="rotate(-63.7 57.22 49.23)"/><ellipse cx="67.87" cy="60.83" rx="5.1" ry="1.73" fill="#8e96b4" transform="rotate(-40.36 67.87 60.83)"/><ellipse cx="56.25" cy="50.59" rx="4.9" ry="2.39" fill="#8e96b4" transform="rotate(-75.84 56.25 50.59)"/><ellipse cx="48.01" cy="34.48" rx="3.27" ry="2.2" fill="#b3bad0" transform="rotate(-60.72 48.01 34.48)"/><ellipse cx="52.31" cy="35.43" rx="5.62" ry="1.44" fill="#b3bad0" transform="rotate(-68.24 52.31 35.43)"/><ellipse cx="58.44" cy="31.62" rx="4.65" ry="2.32" fill="#50586f" transform="rotate(-51.26 58.44 31.62)"/><ellipse cx="48.37" cy="38.49" rx="3.23" ry="2" fill="#d8dce8" transform="rotate(-78.56 48.37 38.49)"/><ellipse cx="40.94" cy="37.11" rx="3.79" ry="2.09" fill="#2e3446" transform="rotate(-63.68 40.94 37.11)"/><ellipse cx="69.4" cy="42.23" rx="5.69" ry="1.78" fill="#8e96b4" transform="rotate(-65.59 69.4 42.23)"/><ellipse cx="53.81" cy="48.72" rx="5.04" ry="1.5" fill="#2e3446" transform="rotate(-54.24 53.81 48.72)"/><ellipse cx="69.19" cy="59.21" rx="5.81" ry="1.84" fill="#8e96b4" transform="rotate(-69.15 69.19 59.21)"/><ellipse cx="47.75" cy="40.91" rx="5.96" ry="1.71" fill="#b3bad0" transform="rotate(-66.44 47.75 40.91)"/><ellipse cx="51.3" cy="51.21" rx="4.4" ry="2.08" fill="#50586f" transform="rotate(-74.67 51.3 51.21)"/><ellipse cx="50.58" cy="55.45" rx="4.77" ry="2.35" fill="#d8dce8" transform="rotate(-50.48 50.58 55.45)"/><ellipse cx="40.64" cy="43.29" rx="4.78" ry="1.72" fill="#50586f" transform="rotate(-54.88 40.64 43.29)"/><ellipse cx="50.92" cy="41.26" rx="3.79" ry="2.19" fill="#2e3446" transform="rotate(-65.23 50.92 41.26)"/><ellipse cx="43.15" cy="59.27" rx="3.93" ry="1.62" fill="#8e96b4" transform="rotate(-41.15 43.15 59.27)"/><ellipse cx="64.11" cy="38.59" rx="4.95" ry="1.5" fill="#b3bad0" transform="rotate(-72.5 64.11 38.59)"/><ellipse cx="58.02" cy="64.17" rx="4.32" ry="2.26" fill="#8e96b4" transform="rotate(-53 58.02 64.17)"/><ellipse cx="45.08" cy="42.12" rx="4.35" ry="1.63" fill="#2e3446" transform="rotate(-53.99 45.08 42.12)"/><ellipse cx="43.63" cy="49.07" rx="3.55" ry="1.68" fill="#2e3446" transform="rotate(-72.37 43.63 49.07)"/><ellipse cx="64.22" cy="53.11" rx="4.77" ry="1.82" fill="#50586f" transform="rotate(-47.75 64.22 53.11)"/><ellipse cx="55.55" cy="60.6" rx="3.87" ry="1.97" fill="#b3bad0" transform="rotate(-61.41 55.55 60.6)"/><ellipse cx="41.07" cy="44.88" rx="5.83" ry="2.28" fill="#b3bad0" transform="rotate(-72.02 41.07 44.88)"/><ellipse cx="69.61" cy="45.64" rx="3.1" ry="1.86" fill="#8e96b4" transform="rotate(-41.99 69.61 45.64)"/><ellipse cx="62.6" cy="56.93" rx="4.02" ry="1.63" fill="#2e3446" transform="rotate(-41.47 62.6 56.93)"/><ellipse cx="42.04" cy="51.19" rx="3.14" ry="2.3" fill="#8e96b4" transform="rotate(-68.52 42.04 51.19)"/><ellipse cx="60.81" cy="63.26" rx="4.73" ry="1.41" fill="#b3bad0" transform="rotate(-44.14 60.81 63.26)"/><ellipse cx="62.36" cy="36.19" rx="4.57" ry="1.81" fill="#d8dce8" transform="rotate(-68 62.36 36.19)"/><ellipse cx="68.17" cy="52.04" rx="5.92" ry="1.94" fill="#50586f" transform="rotate(-66.35 68.17 52.04)"/><ellipse cx="64.35" cy="32.21" rx="4.6" ry="2.22" fill="#d8dce8" transform="rotate(-71.17 64.35 32.21)"/><ellipse cx="45.14" cy="58.5" rx="5.47" ry="1.41" fill="#8e96b4" transform="rotate(-43.13 45.14 58.5)"/><ellipse cx="58.86" cy="61.05" rx="3.74" ry="2.02" fill="#50586f" transform="rotate(-78 58.86 61.05)"/><ellipse cx="55.59" cy="31.84" rx="5.57" ry="2.18" fill="#d8dce8" transform="rotate(-67.08 55.59 31.84)"/><ellipse cx="41.39" cy="31.79" rx="5.56" ry="1.49" fill="#d8dce8" transform="rotate(-60.69 41.39 31.79)"/><ellipse cx="55.06" cy="41.37" rx="4.16" ry="1.79" fill="#50586f" transform="rotate(-67.42 55.06 41.37)"/><ellipse cx="49.12" cy="39.54" rx="3.37" ry="1.96" fill="#b3bad0" transform="rotate(-40.48 49.12 39.54)"/><ellipse cx="61.48" cy="43.69" rx="3.13" ry="1.86" fill="#8e96b4" transform="rotate(-76.8 61.48 43.69)"/><ellipse cx="59.51" cy="49.49" rx="4.87" ry="1.83" fill="#d8dce8" transform="rotate(-54.53 59.51 49.49)"/><ellipse cx="51.17" cy="47.86" rx="5.85" ry="1.82" fill="#b3bad0" transform="rotate(-51.88 51.17 47.86)"/><ellipse cx="40.54" cy="37.87" rx="3.21" ry="1.82" fill="#2e3446" transform="rotate(-69.2 40.54 37.87)"/><ellipse cx="52.78" cy="61.67" rx="5.91" ry="1.96" fill="#50586f" transform="rotate(-42.54 52.78 61.67)"/><ellipse cx="66.11" cy="34.37" rx="5.38" ry="2.07" fill="#2e3446" transform="rotate(-52.38 66.11 34.37)"/><ellipse cx="62.01" cy="50.3" rx="5.15" ry="1.87" fill="#2e3446" transform="rotate(-75.87 62.01 50.3)"/><ellipse cx="47.08" cy="43.99" rx="3.3" ry="2.28" fill="#2e3446" transform="rotate(-58.91 47.08 43.99)"/><ellipse cx="45.37" cy="30.85" rx="3.08" ry="1.52" fill="#d8dce8" transform="rotate(-46.34 45.37 30.85)"/><ellipse cx="54.46" cy="55.07" rx="5.4" ry="1.44" fill="#50586f" transform="rotate(-68.62 54.46 55.07)"/><ellipse cx="63.02" cy="48.41" rx="4.66" ry="1.5" fill="#d8dce8" transform="rotate(-51.39 63.02 48.41)"/><ellipse cx="56.6" cy="49.8" rx="5.48" ry="1.64" fill="#8e96b4" transform="rotate(-45.22 56.6 49.8)"/><ellipse cx="45.39" cy="39" rx="3.76" ry="2" fill="#b3bad0" transform="rotate(-55.36 45.39 39)"/><ellipse cx="68.16" cy="50.04" rx="4.5" ry="2.37" fill="#b3bad0" transform="rotate(-41.35 68.16 50.04)"/><ellipse cx="52.38" cy="56.91" rx="5.27" ry="2.07" fill="#2e3446" transform="rotate(-73.58 52.38 56.91)"/><ellipse cx="55.51" cy="47.41" rx="3.49" ry="1.9" fill="#8e96b4" transform="rotate(-54.28 55.51 47.41)"/><ellipse cx="54.51" cy="55.15" rx="5.16" ry="1.59" fill="#2e3446" transform="rotate(-41.97 54.51 55.15)"/><ellipse cx="48.02" cy="37.17" rx="5.8" ry="2.25" fill="#50586f" transform="rotate(-56.58 48.02 37.17)"/><ellipse cx="56.14" cy="58.06" rx="4.79" ry="1.98" fill="#b3bad0" transform="rotate(-53.14 56.14 58.06)"/><ellipse cx="69.51" cy="62.02" rx="4.44" ry="1.78" fill="#50586f" transform="rotate(-67.71 69.51 62.02)"/><ellipse cx="45.17" cy="42.98" rx="4.26" ry="2.1" fill="#8e96b4" transform="rotate(-67.12 45.17 42.98)"/><ellipse cx="61.04" cy="37.41" rx="3.08" ry="2.39" fill="#2e3446" transform="rotate(-56.78 61.04 37.41)"/><ellipse cx="42.17" cy="64.11" rx="4.4" ry="1.63" fill="#d8dce8" transform="rotate(-48.68 42.17 64.11)"/><ellipse cx="47.04" cy="55.84" rx="5.56" ry="1.64" fill="#8e96b4" transform="rotate(-52.99 47.04 55.84)"/><ellipse cx="45.69" cy="39.31" rx="5.7" ry="1.66" fill="#d8dce8" transform="rotate(-72.51 45.69 39.31)"/><ellipse cx="65.95" cy="41.28" rx="3.35" ry="1.66" fill="#d8dce8" transform="rotate(-63.07 65.95 41.28)"/><ellipse cx="67.41" cy="31.3" rx="3.02" ry="1.73" fill="#50586f" transform="rotate(-61.91 67.41 31.3)"/><ellipse cx="53.09" cy="47.49" rx="5.23" ry="1.89" fill="#2e3446" transform="rotate(-71.6 53.09 47.49)"/><ellipse cx="43.76" cy="41.48" rx="5" ry="1.51" fill="#d8dce8" transform="rotate(-44.67 43.76 41.48)"/><ellipse cx="66.62" cy="62.72" rx="5.04" ry="1.77" fill="#50586f" transform="rotate(-76.12 66.62 62.72)"/><ellipse cx="53.51" cy="53.86" rx="3.32" ry="2.34" fill="#50586f" transform="rotate(-53.2 53.51 53.86)"/><ellipse cx="50.16" cy="50.38" rx="4.53" ry="1.46" fill="#b3bad0" transform="rotate(-58.97 50.16 50.38)"/><ellipse cx="48.83" cy="56.2" rx="3.54" ry="2.29" fill="#8e96b4" transform="rotate(-50.31 48.83 56.2)"/><ellipse cx="59.66" cy="34.43" rx="5.76" ry="2.04" fill="#8e96b4" transform="rotate(-42.73 59.66 34.43)"/><ellipse cx="59.49" cy="45.12" rx="4.37" ry="1.71" fill="#8e96b4" transform="rotate(-67.98 59.49 45.12)"/><ellipse cx="45.29" cy="32.47" rx="4.63" ry="2.14" fill="#2e3446" transform="rotate(-51.37 45.29 32.47)"/><ellipse cx="50.78" cy="39.57" rx="3.13" ry="1.9" fill="#8e96b4" transform="rotate(-64.66 50.78 39.57)"/><ellipse cx="47.42" cy="57.68" rx="5.84" ry="1.85" fill="#50586f" transform="rotate(-65.84 47.42 57.68)"/><ellipse cx="64.27" cy="32.49" rx="3.45" ry="1.99" fill="#d8dce8" transform="rotate(-60.08 64.27 32.49)"/><ellipse cx="60.44" cy="50.32" rx="3.55" ry="1.59" fill="#d8dce8" transform="rotate(-43.6 60.44 50.32)"/><ellipse cx="52.5" cy="56.76" rx="4.78" ry="1.55" fill="#8e96b4" transform="rotate(-47.37 52.5 56.76)"/><ellipse cx="51.95" cy="36.97" rx="3.54" ry="2.27" fill="#2e3446" transform="rotate(-58.9 51.95 36.97)"/><ellipse cx="51.09" cy="40.55" rx="5.67" ry="2.35" fill="#b3bad0" transform="rotate(-46.31 51.09 40.55)"/><ellipse cx="51.49" cy="49.89" rx="5.93" ry="2.09" fill="#b3bad0" transform="rotate(-56.68 51.49 49.89)"/><ellipse cx="48.98" cy="60.96" rx="3.57" ry="2.03" fill="#2e3446" transform="rotate(-60.64 48.98 60.96)"/></g><rect width="120" height="5" fill="#fafafa"/><rect y="5" width="120" height="2" fill="#6a6a6a"/></symbol><symbol id="vessel2" viewBox="0 0 120 68" preserveAspectRatio="none"><rect width="120" height="68" fill="#000"/><rect width="120" height="68" fill="#4a4232"/><rect width="120" height="6" fill="#a8a8b0"/><rect y="6" width="120" height="8" fill="#2e2c26"/><polygon points="0,14 120,14 120,46 0,50" fill="#7a6040"/><g stroke="#1e2420" stroke-width="0.6"><path d="M-2 24C10 18 30 18 42 24C30 30 10 30-2 24Z" fill="#7f8e90"/><path d="M34 30C46 22 70 22 84 30C70 38 46 38 34 30Z" fill="#c0ccbc"/><path d="M70 26C80 20 98 20 112 28C98 34 80 34 70 26Z" fill="#8c9c98"/><path d="M8 40C20 34 42 34 54 40C42 46 20 46 8 40Z" fill="#a6b4aa"/></g><ellipse cx="20" cy="40" rx="8" ry="3" fill="#1c2428"/><rect y="48" width="120" height="4" fill="#2a2820"/><rect y="52" width="120" height="16" fill="#a4a884"/><rect x="76" y="52" width="3" height="16" fill="#222"/><circle cx="100" cy="60" r="4" fill="#e8e2c0"/></symbol><symbol id="vesselN" viewBox="0 0 120 68" preserveAspectRatio="none"><rect width="120" height="68" fill="#000"/><rect width="120" height="68" fill="#25262c"/><rect width="120" height="8" fill="#6a6a70"/><g stroke="#15161a" stroke-width="0.5"><ellipse cx="74.75" cy="35.22" rx="6.22" ry="2.13" fill="#4f5873" transform="rotate(41.33 74.75 35.22)"/><ellipse cx="3.48" cy="25.83" rx="4.16" ry="1.44" fill="#aab2c6" transform="rotate(62.07 3.48 25.83)"/><ellipse cx="44.62" cy="39.53" rx="5.72" ry="1.31" fill="#d9dde6" transform="rotate(-16.69 44.62 39.53)"/><ellipse cx="26.01" cy="19.5" rx="5.17" ry="1.99" fill="#4f5873" transform="rotate(58.29 26.01 19.5)"/><ellipse cx="8.63" cy="31.01" rx="4.01" ry="2.08" fill="#b9c0d2" transform="rotate(-7.72 8.63 31.01)"/><ellipse cx="25.13" cy="17.33" rx="4.5" ry="1.58" fill="#4f5873" transform="rotate(67.54 25.13 17.33)"/><ellipse cx="23.87" cy="39.79" rx="6.82" ry="1.92" fill="#b9c0d2" transform="rotate(17.6 23.87 39.79)"/><ellipse cx="115.99" cy="40.39" rx="5.24" ry="2.14" fill="#8d97b3" transform="rotate(-28.17 115.99 40.39)"/><ellipse cx="31.66" cy="21.28" rx="4.01" ry="1.91" fill="#e9ecf1" transform="rotate(44.44 31.66 21.28)"/><ellipse cx="40.55" cy="20.54" rx="6.09" ry="1.47" fill="#6b7592" transform="rotate(44.59 40.55 20.54)"/><ellipse cx="56.7" cy="15.99" rx="6.85" ry="1.62" fill="#d9dde6" transform="rotate(-34.13 56.7 15.99)"/><ellipse cx="48.52" cy="28.67" rx="5.74" ry="1.31" fill="#6b7592" transform="rotate(-11.36 48.52 28.67)"/><ellipse cx="5.61" cy="16.15" rx="4.36" ry="1.52" fill="#b9c0d2" transform="rotate(63.73 5.61 16.15)"/><ellipse cx="98.34" cy="25.71" rx="4.75" ry="1.72" fill="#e9ecf1" transform="rotate(1.75 98.34 25.71)"/><ellipse cx="70.77" cy="36.55" rx="4.11" ry="2.15" fill="#8d97b3" transform="rotate(-18.58 70.77 36.55)"/><ellipse cx="10.94" cy="21.59" rx="5.02" ry="2.13" fill="#b9c0d2" transform="rotate(15.52 10.94 21.59)"/><ellipse cx="65.42" cy="20.62" rx="6.4" ry="1.86" fill="#b9c0d2" transform="rotate(-25.65 65.42 20.62)"/><ellipse cx="86.54" cy="20.52" rx="4.15" ry="2.19" fill="#aab2c6" transform="rotate(-2.27 86.54 20.52)"/><ellipse cx="64.02" cy="23.8" rx="5.03" ry="1.53" fill="#e9ecf1" transform="rotate(-36.77 64.02 23.8)"/><ellipse cx="78.12" cy="14.95" rx="4.1" ry="1.74" fill="#aab2c6" transform="rotate(67.07 78.12 14.95)"/><ellipse cx="100.61" cy="14.44" rx="5.89" ry="2.01" fill="#b9c0d2" transform="rotate(32.43 100.61 14.44)"/><ellipse cx="12.8" cy="24.77" rx="5.26" ry="1.43" fill="#4f5873" transform="rotate(-49.11 12.8 24.77)"/><ellipse cx="110.64" cy="31.09" rx="5.36" ry="1.74" fill="#e9ecf1" transform="rotate(-46.3 110.64 31.09)"/><ellipse cx="87.54" cy="26.29" rx="6.71" ry="1.4" fill="#6b7592" transform="rotate(-29.26 87.54 26.29)"/><ellipse cx="98.65" cy="28.08" rx="6.6" ry="1.46" fill="#6b7592" transform="rotate(-44.88 98.65 28.08)"/><ellipse cx="59.02" cy="27.52" rx="5.08" ry="2.01" fill="#e9ecf1" transform="rotate(6.73 59.02 27.52)"/><ellipse cx="92.99" cy="33.62" rx="4.92" ry="1.8" fill="#4f5873" transform="rotate(22.96 92.99 33.62)"/><ellipse cx="80.2" cy="38.4" rx="6.15" ry="2.16" fill="#aab2c6" transform="rotate(-32.92 80.2 38.4)"/><ellipse cx="40.81" cy="16.07" rx="5.64" ry="1.53" fill="#6b7592" transform="rotate(49.26 40.81 16.07)"/><ellipse cx="80.6" cy="25.74" rx="6.02" ry="1.62" fill="#aab2c6" transform="rotate(44.34 80.6 25.74)"/><ellipse cx="32.87" cy="21.75" rx="5.05" ry="2.06" fill="#6b7592" transform="rotate(61.25 32.87 21.75)"/><ellipse cx="104.39" cy="33.4" rx="5.55" ry="1.78" fill="#8d97b3" transform="rotate(66.66 104.39 33.4)"/><ellipse cx="19.94" cy="38.45" rx="4.85" ry="1.37" fill="#6b7592" transform="rotate(61.23 19.94 38.45)"/><ellipse cx="80.5" cy="24.17" rx="5.55" ry="2.14" fill="#e9ecf1" transform="rotate(16.35 80.5 24.17)"/><ellipse cx="36.32" cy="28.81" rx="6.16" ry="1.32" fill="#8d97b3" transform="rotate(51.4 36.32 28.81)"/><ellipse cx="19.2" cy="25" rx="6.28" ry="1.46" fill="#b9c0d2" transform="rotate(21.02 19.2 25)"/><ellipse cx="86.22" cy="43.54" rx="4.16" ry="1.42" fill="#b9c0d2" transform="rotate(67.17 86.22 43.54)"/><ellipse cx="38.08" cy="16.17" rx="5.25" ry="1.62" fill="#d9dde6" transform="rotate(-42.93 38.08 16.17)"/><ellipse cx="79.5" cy="12.45" rx="6.71" ry="1.3" fill="#aab2c6" transform="rotate(-41.39 79.5 12.45)"/><ellipse cx="48.65" cy="19.47" rx="6.07" ry="1.79" fill="#d9dde6" transform="rotate(-12.59 48.65 19.47)"/><ellipse cx="115.72" cy="28.7" rx="5.64" ry="1.61" fill="#8d97b3" transform="rotate(-27.81 115.72 28.7)"/><ellipse cx="69.71" cy="42.58" rx="5.23" ry="1.81" fill="#6b7592" transform="rotate(44.59 69.71 42.58)"/><ellipse cx="64.61" cy="25.89" rx="5.69" ry="2.16" fill="#6b7592" transform="rotate(-48.05 64.61 25.89)"/><ellipse cx="116.16" cy="30.69" rx="4" ry="1.4" fill="#aab2c6" transform="rotate(-20.84 116.16 30.69)"/><ellipse cx="67.9" cy="30.92" rx="6.63" ry="1.81" fill="#aab2c6" transform="rotate(-50.3 67.9 30.92)"/><ellipse cx="51.5" cy="43.21" rx="6.92" ry="1.64" fill="#6b7592" transform="rotate(-0.92 51.5 43.21)"/><ellipse cx="115.34" cy="41.07" rx="6.22" ry="1.57" fill="#8d97b3" transform="rotate(13.41 115.34 41.07)"/><ellipse cx="30.13" cy="10.67" rx="5.48" ry="1.56" fill="#8d97b3" transform="rotate(62.32 30.13 10.67)"/><ellipse cx="57.23" cy="14.14" rx="4.74" ry="1.34" fill="#6b7592" transform="rotate(17.04 57.23 14.14)"/><ellipse cx="16.37" cy="23.34" rx="4.82" ry="2.14" fill="#e9ecf1" transform="rotate(-2.76 16.37 23.34)"/><ellipse cx="93.83" cy="18.35" rx="6.16" ry="1.56" fill="#b9c0d2" transform="rotate(-32.52 93.83 18.35)"/><ellipse cx="59.07" cy="43.74" rx="5.81" ry="1.97" fill="#4f5873" transform="rotate(2.55 59.07 43.74)"/><ellipse cx="14.18" cy="35.85" rx="6.12" ry="1.85" fill="#e9ecf1" transform="rotate(-27.9 14.18 35.85)"/><ellipse cx="87.75" cy="10.9" rx="6.24" ry="1.83" fill="#aab2c6" transform="rotate(-21.03 87.75 10.9)"/><ellipse cx="4.37" cy="18.58" rx="6.66" ry="1.79" fill="#d9dde6" transform="rotate(-6.21 4.37 18.58)"/><ellipse cx="1.75" cy="36.47" rx="6.07" ry="2.16" fill="#e9ecf1" transform="rotate(-10.12 1.75 36.47)"/><ellipse cx="77.86" cy="39.2" rx="5.18" ry="2.07" fill="#6b7592" transform="rotate(47.77 77.86 39.2)"/><ellipse cx="23.58" cy="20.08" rx="4.91" ry="1.3" fill="#d9dde6" transform="rotate(46.2 23.58 20.08)"/><ellipse cx="93.48" cy="29.79" rx="6.73" ry="1.43" fill="#6b7592" transform="rotate(20.78 93.48 29.79)"/><ellipse cx="57.41" cy="28.67" rx="5.61" ry="1.68" fill="#8d97b3" transform="rotate(-0.32 57.41 28.67)"/><ellipse cx="64.97" cy="11.65" rx="6.46" ry="2.01" fill="#8d97b3" transform="rotate(32.57 64.97 11.65)"/><ellipse cx="79.63" cy="10.87" rx="7" ry="1.93" fill="#d9dde6" transform="rotate(31.16 79.63 10.87)"/><ellipse cx="5.87" cy="38.63" rx="6.47" ry="1.4" fill="#aab2c6" transform="rotate(-39.31 5.87 38.63)"/><ellipse cx="107.38" cy="43.8" rx="4.45" ry="1.85" fill="#6b7592" transform="rotate(28.81 107.38 43.8)"/><ellipse cx="49.67" cy="15.48" rx="5.67" ry="1.89" fill="#d9dde6" transform="rotate(17.14 49.67 15.48)"/><ellipse cx="89.46" cy="19.52" rx="6.23" ry="2.09" fill="#d9dde6" transform="rotate(9.95 89.46 19.52)"/><ellipse cx="16.12" cy="24.68" rx="5.47" ry="1.62" fill="#e9ecf1" transform="rotate(-25.96 16.12 24.68)"/><ellipse cx="78.74" cy="41.1" rx="4.45" ry="1.87" fill="#8d97b3" transform="rotate(-50.65 78.74 41.1)"/><ellipse cx="60.7" cy="40.95" rx="4.66" ry="1.36" fill="#e9ecf1" transform="rotate(7.68 60.7 40.95)"/><ellipse cx="28.28" cy="38.31" rx="6.42" ry="2.08" fill="#b9c0d2" transform="rotate(-30.32 28.28 38.31)"/><ellipse cx="54.4" cy="23.22" rx="5.97" ry="1.38" fill="#d9dde6" transform="rotate(-51.63 54.4 23.22)"/><ellipse cx="80.15" cy="13.1" rx="5.36" ry="1.65" fill="#e9ecf1" transform="rotate(-52.53 80.15 13.1)"/><ellipse cx="55.52" cy="42.75" rx="4.09" ry="1.95" fill="#e9ecf1" transform="rotate(-54.94 55.52 42.75)"/><ellipse cx="6.44" cy="15.13" rx="6.38" ry="1.97" fill="#aab2c6" transform="rotate(63.29 6.44 15.13)"/><ellipse cx="10.05" cy="40.99" rx="4.42" ry="1.86" fill="#b9c0d2" transform="rotate(-1.2 10.05 40.99)"/><ellipse cx="42.52" cy="17.99" rx="6.12" ry="2.02" fill="#e9ecf1" transform="rotate(-23.34 42.52 17.99)"/><ellipse cx="45.38" cy="34.57" rx="6.41" ry="1.69" fill="#8d97b3" transform="rotate(-19.84 45.38 34.57)"/><ellipse cx="102.19" cy="27.59" rx="4.64" ry="1.46" fill="#e9ecf1" transform="rotate(12.97 102.19 27.59)"/><ellipse cx="7.59" cy="11.26" rx="4.12" ry="2.1" fill="#b9c0d2" transform="rotate(-43.91 7.59 11.26)"/><ellipse cx="57.72" cy="35.85" rx="4.9" ry="2.14" fill="#6b7592" transform="rotate(-69.94 57.72 35.85)"/><ellipse cx="110.61" cy="20.99" rx="4.46" ry="1.44" fill="#b9c0d2" transform="rotate(-5.33 110.61 20.99)"/><ellipse cx="44.96" cy="23.11" rx="5.66" ry="1.4" fill="#b9c0d2" transform="rotate(53.25 44.96 23.11)"/><ellipse cx="98.21" cy="35.51" rx="5.45" ry="1.33" fill="#d9dde6" transform="rotate(24.08 98.21 35.51)"/><ellipse cx="110.94" cy="22.54" rx="4.07" ry="1.71" fill="#aab2c6" transform="rotate(61.31 110.94 22.54)"/><ellipse cx="101.86" cy="15.3" rx="4.87" ry="1.91" fill="#8d97b3" transform="rotate(39.95 101.86 15.3)"/><ellipse cx="87.52" cy="15.55" rx="5.72" ry="1.89" fill="#d9dde6" transform="rotate(-41.86 87.52 15.55)"/><ellipse cx="74.11" cy="41" rx="4.94" ry="1.72" fill="#aab2c6" transform="rotate(28.94 74.11 41)"/><ellipse cx="33.98" cy="34.9" rx="6.33" ry="1.46" fill="#b9c0d2" transform="rotate(30.51 33.98 34.9)"/><ellipse cx="25.05" cy="11.49" rx="6.93" ry="1.31" fill="#aab2c6" transform="rotate(15.22 25.05 11.49)"/><ellipse cx="7.3" cy="36.49" rx="4.1" ry="2.05" fill="#d9dde6" transform="rotate(-12.58 7.3 36.49)"/><ellipse cx="100.47" cy="29.22" rx="4.21" ry="2.11" fill="#aab2c6" transform="rotate(61.53 100.47 29.22)"/><ellipse cx="58.94" cy="41.82" rx="5.93" ry="1.75" fill="#b9c0d2" transform="rotate(-62.47 58.94 41.82)"/><ellipse cx="93.79" cy="11.63" rx="4.92" ry="1.35" fill="#6b7592" transform="rotate(46.68 93.79 11.63)"/><ellipse cx="4.51" cy="43.04" rx="5.92" ry="1.47" fill="#e9ecf1" transform="rotate(-44.89 4.51 43.04)"/><ellipse cx="28.05" cy="41.52" rx="5.63" ry="2.13" fill="#d9dde6" transform="rotate(40.71 28.05 41.52)"/><ellipse cx="71.79" cy="39.13" rx="5.32" ry="1.62" fill="#d9dde6" transform="rotate(-39.98 71.79 39.13)"/><ellipse cx="50.78" cy="36.12" rx="6.18" ry="2.12" fill="#b9c0d2" transform="rotate(3.12 50.78 36.12)"/><ellipse cx="36.91" cy="25.27" rx="5.66" ry="1.42" fill="#b9c0d2" transform="rotate(45.7 36.91 25.27)"/><ellipse cx="57.99" cy="36.52" rx="4.94" ry="1.42" fill="#6b7592" transform="rotate(-33.11 57.99 36.52)"/><ellipse cx="9.84" cy="18.32" rx="6.9" ry="1.9" fill="#6b7592" transform="rotate(-58.19 9.84 18.32)"/><ellipse cx="33.1" cy="26.75" rx="4.6" ry="1.56" fill="#aab2c6" transform="rotate(-35.17 33.1 26.75)"/><ellipse cx="44.85" cy="13.35" rx="5.14" ry="1.99" fill="#8d97b3" transform="rotate(-11.12 44.85 13.35)"/><ellipse cx="0.01" cy="19.72" rx="5.72" ry="1.7" fill="#b9c0d2" transform="rotate(61.64 0.01 19.72)"/><ellipse cx="98.02" cy="32.29" rx="4.14" ry="1.68" fill="#aab2c6" transform="rotate(63.67 98.02 32.29)"/><ellipse cx="12.78" cy="37.38" rx="4.2" ry="1.45" fill="#8d97b3" transform="rotate(8.67 12.78 37.38)"/><ellipse cx="31.51" cy="32.98" rx="5.63" ry="1.97" fill="#d9dde6" transform="rotate(-30.03 31.51 32.98)"/><ellipse cx="3.35" cy="14.14" rx="5.07" ry="2.07" fill="#4f5873" transform="rotate(65.73 3.35 14.14)"/><ellipse cx="113.91" cy="30.81" rx="4.38" ry="1.48" fill="#6b7592" transform="rotate(-37.65 113.91 30.81)"/><ellipse cx="42.99" cy="15.55" rx="6.18" ry="1.39" fill="#b9c0d2" transform="rotate(16.69 42.99 15.55)"/><ellipse cx="63.64" cy="15.82" rx="6.29" ry="1.69" fill="#6b7592" transform="rotate(29.32 63.64 15.82)"/><ellipse cx="51.53" cy="21.34" rx="5.38" ry="1.69" fill="#b9c0d2" transform="rotate(-7.58 51.53 21.34)"/><ellipse cx="52.97" cy="36.1" rx="5.42" ry="1.74" fill="#e9ecf1" transform="rotate(61.08 52.97 36.1)"/><ellipse cx="0.19" cy="14.31" rx="4.16" ry="2.18" fill="#aab2c6" transform="rotate(49.07 0.19 14.31)"/><ellipse cx="3.94" cy="29.62" rx="5.18" ry="1.49" fill="#8d97b3" transform="rotate(-2.52 3.94 29.62)"/><ellipse cx="33.25" cy="16.84" rx="6.29" ry="2.01" fill="#8d97b3" transform="rotate(8.74 33.25 16.84)"/><ellipse cx="44" cy="37.5" rx="6.52" ry="2.06" fill="#aab2c6" transform="rotate(43.99 44 37.5)"/><ellipse cx="74.18" cy="23.63" rx="4.71" ry="1.64" fill="#4f5873" transform="rotate(-49.97 74.18 23.63)"/><ellipse cx="11.25" cy="23.5" rx="6.7" ry="1.48" fill="#8d97b3" transform="rotate(35.51 11.25 23.5)"/><ellipse cx="95.64" cy="21.02" rx="5.6" ry="1.38" fill="#4f5873" transform="rotate(25.61 95.64 21.02)"/><ellipse cx="23.88" cy="33.41" rx="5.76" ry="1.47" fill="#e9ecf1" transform="rotate(-55.5 23.88 33.41)"/><ellipse cx="46.69" cy="20.79" rx="5.54" ry="1.75" fill="#8d97b3" transform="rotate(-66.21 46.69 20.79)"/><ellipse cx="65.48" cy="33.48" rx="6.45" ry="2.13" fill="#4f5873" transform="rotate(-7.04 65.48 33.48)"/><ellipse cx="83.14" cy="32.79" rx="5.25" ry="2.16" fill="#4f5873" transform="rotate(5.14 83.14 32.79)"/><ellipse cx="2.42" cy="36.18" rx="4.23" ry="1.38" fill="#8d97b3" transform="rotate(-41.05 2.42 36.18)"/><ellipse cx="42.7" cy="29.73" rx="5.24" ry="2.17" fill="#aab2c6" transform="rotate(36.35 42.7 29.73)"/><ellipse cx="1.74" cy="41.59" rx="6.26" ry="1.9" fill="#d9dde6" transform="rotate(-37.18 1.74 41.59)"/><ellipse cx="114.83" cy="40.5" rx="6.8" ry="1.85" fill="#4f5873" transform="rotate(26.27 114.83 40.5)"/><ellipse cx="67.44" cy="26.42" rx="4.72" ry="2.18" fill="#d9dde6" transform="rotate(-57.13 67.44 26.42)"/><ellipse cx="65.27" cy="23.38" rx="5.13" ry="1.98" fill="#6b7592" transform="rotate(-69.59 65.27 23.38)"/><ellipse cx="63.4" cy="17.04" rx="5.16" ry="1.4" fill="#8d97b3" transform="rotate(24.83 63.4 17.04)"/><ellipse cx="82.65" cy="28.82" rx="4.75" ry="1.39" fill="#8d97b3" transform="rotate(30.14 82.65 28.82)"/><ellipse cx="35.26" cy="37.11" rx="6.69" ry="1.45" fill="#d9dde6" transform="rotate(41.6 35.26 37.11)"/><ellipse cx="75.94" cy="36.06" rx="5.71" ry="1.86" fill="#d9dde6" transform="rotate(-38.55 75.94 36.06)"/><ellipse cx="76.79" cy="28.56" rx="5.28" ry="1.78" fill="#b9c0d2" transform="rotate(-13.02 76.79 28.56)"/><ellipse cx="108.57" cy="20.28" rx="6.67" ry="1.6" fill="#e9ecf1" transform="rotate(-30.7 108.57 20.28)"/><ellipse cx="50.62" cy="15.07" rx="5.81" ry="1.47" fill="#e9ecf1" transform="rotate(-28.61 50.62 15.07)"/><ellipse cx="22.83" cy="30.21" rx="4.99" ry="1.37" fill="#aab2c6" transform="rotate(20.49 22.83 30.21)"/><ellipse cx="114.28" cy="14.68" rx="4.96" ry="2.07" fill="#d9dde6" transform="rotate(2.71 114.28 14.68)"/><ellipse cx="77.42" cy="41.51" rx="5.85" ry="2.02" fill="#aab2c6" transform="rotate(-37.93 77.42 41.51)"/><ellipse cx="100.79" cy="10.05" rx="4.28" ry="1.44" fill="#d9dde6" transform="rotate(24.13 100.79 10.05)"/><ellipse cx="73.89" cy="13.57" rx="4.97" ry="1.99" fill="#aab2c6" transform="rotate(36.13 73.89 13.57)"/><ellipse cx="21.96" cy="40.38" rx="5.88" ry="2.17" fill="#e9ecf1" transform="rotate(6.87 21.96 40.38)"/><ellipse cx="12.4" cy="13.5" rx="4.97" ry="1.46" fill="#b9c0d2" transform="rotate(-60.98 12.4 13.5)"/><ellipse cx="106.91" cy="43.59" rx="5.21" ry="1.79" fill="#b9c0d2" transform="rotate(37.15 106.91 43.59)"/><ellipse cx="45.02" cy="14" rx="4.4" ry="1.3" fill="#8d97b3" transform="rotate(13.59 45.02 14)"/><ellipse cx="45.73" cy="21.65" rx="6.28" ry="1.95" fill="#6b7592" transform="rotate(33.94 45.73 21.65)"/><ellipse cx="35.51" cy="13.97" rx="6.25" ry="1.48" fill="#8d97b3" transform="rotate(-2.94 35.51 13.97)"/><ellipse cx="41.24" cy="14.82" rx="6.09" ry="2.01" fill="#aab2c6" transform="rotate(56.8 41.24 14.82)"/><ellipse cx="69.08" cy="20.06" rx="4.19" ry="1.69" fill="#4f5873" transform="rotate(-22.83 69.08 20.06)"/><ellipse cx="26.44" cy="43.52" rx="4.22" ry="1.54" fill="#aab2c6" transform="rotate(-32.05 26.44 43.52)"/><ellipse cx="11.52" cy="26.24" rx="6.53" ry="2.07" fill="#e9ecf1" transform="rotate(67.85 11.52 26.24)"/><ellipse cx="29.4" cy="25.38" rx="4.02" ry="1.99" fill="#d9dde6" transform="rotate(-51.94 29.4 25.38)"/><ellipse cx="43.33" cy="10.56" rx="6.87" ry="2.08" fill="#6b7592" transform="rotate(-34.88 43.33 10.56)"/><ellipse cx="9.41" cy="43.03" rx="5.33" ry="1.72" fill="#4f5873" transform="rotate(-42.86 9.41 43.03)"/><ellipse cx="10.24" cy="19.49" rx="5.41" ry="1.32" fill="#aab2c6" transform="rotate(63.67 10.24 19.49)"/><ellipse cx="19.2" cy="36.21" rx="5.78" ry="2.11" fill="#4f5873" transform="rotate(0.02 19.2 36.21)"/><ellipse cx="77.42" cy="31.62" rx="5.26" ry="1.95" fill="#d9dde6" transform="rotate(-64.95 77.42 31.62)"/><ellipse cx="97.5" cy="38" rx="4.04" ry="2.03" fill="#6b7592" transform="rotate(-9.47 97.5 38)"/><ellipse cx="19.99" cy="21.51" rx="5.27" ry="2.17" fill="#b9c0d2" transform="rotate(-27.58 19.99 21.51)"/><ellipse cx="119.3" cy="17.37" rx="4.42" ry="1.63" fill="#8d97b3" transform="rotate(-11 119.3 17.37)"/><ellipse cx="0.29" cy="31.53" rx="5.37" ry="1.37" fill="#4f5873" transform="rotate(37.7 0.29 31.53)"/><ellipse cx="45.74" cy="40.51" rx="5.94" ry="1.97" fill="#b9c0d2" transform="rotate(53.95 45.74 40.51)"/><ellipse cx="59.26" cy="20.8" rx="4.71" ry="2.13" fill="#6b7592" transform="rotate(-5.86 59.26 20.8)"/><ellipse cx="112.51" cy="11.06" rx="4.26" ry="1.42" fill="#6b7592" transform="rotate(-44.13 112.51 11.06)"/><ellipse cx="78.46" cy="21.36" rx="5.55" ry="2.18" fill="#8d97b3" transform="rotate(-39.96 78.46 21.36)"/><ellipse cx="84.24" cy="13.06" rx="5.2" ry="1.57" fill="#aab2c6" transform="rotate(-54.46 84.24 13.06)"/><ellipse cx="108.77" cy="28.62" rx="4.72" ry="1.81" fill="#4f5873" transform="rotate(-7.93 108.77 28.62)"/><ellipse cx="31.57" cy="28.54" rx="4.71" ry="1.9" fill="#b9c0d2" transform="rotate(32.4 31.57 28.54)"/><ellipse cx="6.71" cy="10.52" rx="5.51" ry="1.85" fill="#b9c0d2" transform="rotate(-40.41 6.71 10.52)"/><ellipse cx="95.15" cy="11.91" rx="6.08" ry="2.1" fill="#d9dde6" transform="rotate(0.08 95.15 11.91)"/><ellipse cx="93.18" cy="28.96" rx="5.96" ry="2.13" fill="#d9dde6" transform="rotate(-8.46 93.18 28.96)"/><ellipse cx="44.45" cy="28.02" rx="6.85" ry="2.19" fill="#e9ecf1" transform="rotate(29.85 44.45 28.02)"/><ellipse cx="36.21" cy="15.67" rx="5.93" ry="1.35" fill="#d9dde6" transform="rotate(60.46 36.21 15.67)"/><ellipse cx="25.45" cy="31.06" rx="4.9" ry="1.8" fill="#e9ecf1" transform="rotate(-56.22 25.45 31.06)"/><ellipse cx="99.56" cy="14.69" rx="4.01" ry="1.81" fill="#6b7592" transform="rotate(-20.86 99.56 14.69)"/><ellipse cx="68.02" cy="11.44" rx="5.03" ry="1.43" fill="#d9dde6" transform="rotate(33.89 68.02 11.44)"/><ellipse cx="116.1" cy="18.95" rx="4.43" ry="1.41" fill="#4f5873" transform="rotate(-31.4 116.1 18.95)"/><ellipse cx="30.16" cy="10.84" rx="5.89" ry="1.52" fill="#b9c0d2" transform="rotate(-34.67 30.16 10.84)"/><ellipse cx="31.61" cy="39.8" rx="4.53" ry="1.42" fill="#4f5873" transform="rotate(-8.59 31.61 39.8)"/><ellipse cx="6.23" cy="35.15" rx="5.37" ry="1.92" fill="#d9dde6" transform="rotate(8.57 6.23 35.15)"/><ellipse cx="73.32" cy="32.92" rx="5.77" ry="1.41" fill="#d9dde6" transform="rotate(20.94 73.32 32.92)"/><ellipse cx="86.53" cy="30.79" rx="5.61" ry="1.93" fill="#b9c0d2" transform="rotate(15.69 86.53 30.79)"/><ellipse cx="84.69" cy="34.45" rx="4.2" ry="1.71" fill="#d9dde6" transform="rotate(12.84 84.69 34.45)"/><ellipse cx="77.86" cy="40.33" rx="6.87" ry="1.91" fill="#d9dde6" transform="rotate(30.92 77.86 40.33)"/><ellipse cx="32.8" cy="23.77" rx="4.9" ry="1.3" fill="#6b7592" transform="rotate(-27.26 32.8 23.77)"/><ellipse cx="90.99" cy="27.54" rx="5.14" ry="1.89" fill="#6b7592" transform="rotate(56.28 90.99 27.54)"/><ellipse cx="113.21" cy="20.7" rx="4.26" ry="1.62" fill="#6b7592" transform="rotate(15.64 113.21 20.7)"/><ellipse cx="9.49" cy="24.46" rx="5.18" ry="1.48" fill="#aab2c6" transform="rotate(17.03 9.49 24.46)"/><ellipse cx="109.81" cy="15.77" rx="5.03" ry="1.32" fill="#e9ecf1" transform="rotate(0.3 109.81 15.77)"/><ellipse cx="52.06" cy="29.15" rx="5.67" ry="1.9" fill="#b9c0d2" transform="rotate(0.37 52.06 29.15)"/><ellipse cx="50.35" cy="36.67" rx="5.85" ry="1.48" fill="#8d97b3" transform="rotate(47.03 50.35 36.67)"/><ellipse cx="51.05" cy="38.76" rx="5.89" ry="1.88" fill="#6b7592" transform="rotate(2.28 51.05 38.76)"/><ellipse cx="114.75" cy="13.96" rx="4.29" ry="2.08" fill="#8d97b3" transform="rotate(37.78 114.75 13.96)"/><ellipse cx="34.15" cy="35.7" rx="6.92" ry="1.65" fill="#4f5873" transform="rotate(-44.96 34.15 35.7)"/><ellipse cx="76.36" cy="34.62" rx="6.57" ry="2.09" fill="#6b7592" transform="rotate(-33.51 76.36 34.62)"/><ellipse cx="37.43" cy="19.95" rx="5.23" ry="1.36" fill="#4f5873" transform="rotate(-22.8 37.43 19.95)"/><ellipse cx="8.27" cy="11.34" rx="6.69" ry="1.76" fill="#aab2c6" transform="rotate(-56.77 8.27 11.34)"/><ellipse cx="12.5" cy="24.15" rx="6.82" ry="1.79" fill="#d9dde6" transform="rotate(-38.33 12.5 24.15)"/><ellipse cx="78.18" cy="33.18" rx="6.84" ry="1.72" fill="#8d97b3" transform="rotate(-24.74 78.18 33.18)"/><ellipse cx="12.33" cy="36.14" rx="4.29" ry="1.89" fill="#e9ecf1" transform="rotate(-53.93 12.33 36.14)"/><ellipse cx="79.65" cy="22.94" rx="5.65" ry="2.18" fill="#8d97b3" transform="rotate(-53.92 79.65 22.94)"/><ellipse cx="51.34" cy="17.11" rx="5.15" ry="1.87" fill="#b9c0d2" transform="rotate(2.05 51.34 17.11)"/><ellipse cx="110.25" cy="21.07" rx="4.21" ry="1.58" fill="#e9ecf1" transform="rotate(43.52 110.25 21.07)"/><ellipse cx="102.72" cy="31.8" rx="6.75" ry="1.82" fill="#e9ecf1" transform="rotate(-27.1 102.72 31.8)"/><ellipse cx="60.02" cy="19.66" rx="5.37" ry="1.66" fill="#8d97b3" transform="rotate(34.18 60.02 19.66)"/><ellipse cx="85.2" cy="13.34" rx="6.08" ry="1.96" fill="#6b7592" transform="rotate(13.43 85.2 13.34)"/><ellipse cx="12.31" cy="43.92" rx="5.93" ry="1.95" fill="#b9c0d2" transform="rotate(-51.33 12.31 43.92)"/><ellipse cx="30.84" cy="25.77" rx="6.1" ry="1.39" fill="#4f5873" transform="rotate(24.75 30.84 25.77)"/><ellipse cx="69.65" cy="18.56" rx="5.63" ry="1.8" fill="#d9dde6" transform="rotate(-20.12 69.65 18.56)"/><ellipse cx="24.8" cy="10.81" rx="5.92" ry="1.74" fill="#6b7592" transform="rotate(10.87 24.8 10.81)"/><ellipse cx="104.84" cy="41.26" rx="4.17" ry="1.56" fill="#8d97b3" transform="rotate(-30.51 104.84 41.26)"/><ellipse cx="62.87" cy="20" rx="4.38" ry="1.89" fill="#4f5873" transform="rotate(-18.14 62.87 20)"/><ellipse cx="90.84" cy="34.76" rx="4.94" ry="2.07" fill="#b9c0d2" transform="rotate(-69.85 90.84 34.76)"/><ellipse cx="79.36" cy="24.31" rx="5.38" ry="2.12" fill="#aab2c6" transform="rotate(47.27 79.36 24.31)"/><ellipse cx="62.91" cy="21.15" rx="6.39" ry="1.44" fill="#4f5873" transform="rotate(26.49 62.91 21.15)"/><ellipse cx="59.34" cy="10.04" rx="5.4" ry="1.64" fill="#4f5873" transform="rotate(40.71 59.34 10.04)"/><ellipse cx="27.28" cy="10.07" rx="4.61" ry="2.18" fill="#aab2c6" transform="rotate(65.98 27.28 10.07)"/><ellipse cx="102.32" cy="18.1" rx="4.31" ry="1.68" fill="#aab2c6" transform="rotate(46.08 102.32 18.1)"/><ellipse cx="103.61" cy="31.95" rx="5.97" ry="1.82" fill="#b9c0d2" transform="rotate(58.81 103.61 31.95)"/><ellipse cx="89.21" cy="27.13" rx="4.67" ry="1.38" fill="#8d97b3" transform="rotate(-9.12 89.21 27.13)"/></g><rect y="44" width="120" height="24" fill="#4c4a40"/><path d="M0 50 H70 V68 H0 Z" fill="#8c8468"/><rect x="48" y="50" width="22" height="16" fill="#c8ccd0"/><ellipse cx="60" cy="2" rx="12" ry="9" fill="#1d45d6"/><polygon points="84,52 108,44 112,58 104,68 80,68" fill="#d6d32c"/></symbol><symbol id="seg_h" viewBox="0 0 200 76" preserveAspectRatio="none"><rect width="200" height="76" fill="#000"/><g stroke="#000" stroke-width="0.4"><path d="M-10.1 0C-5.1-4.8 5.1-4.8 10.1 0C5.1 4.8-5.1 4.8-10.1 0Z" fill="#20c0a0" transform="translate(85.4 21.7)rotate(-23)"/><path d="M-11.1 0C-5.5-4.2 5.5-4.2 11.1 0C5.5 4.2-5.5 4.2-11.1 0Z" fill="#20d020" transform="translate(34.6 30.8)rotate(34)"/><path d="M-12.0 0C-6.0-4.5 6.0-4.5 12.0 0C6.0 4.5-6.0 4.5-12.0 0Z" fill="#20ff90" transform="translate(72.6 30.0)rotate(36)"/><path d="M-10.2 0C-5.1-5.1 5.1-5.1 10.2 0C5.1 5.1-5.1 5.1-10.2 0Z" fill="#20d020" transform="translate(155.1 51.3)rotate(-37)"/><path d="M-11.9 0C-6.0-5.2 6.0-5.2 11.9 0C6.0 5.2-6.0 5.2-11.9 0Z" fill="#9020ff" transform="translate(144.1 58.6)rotate(29)"/><path d="M-11.6 0C-5.8-4.7 5.8-4.7 11.6 0C5.8 4.7-5.8 4.7-11.6 0Z" fill="#20ff90" transform="translate(26.2 39.4)rotate(-25)"/><path d="M-11.7 0C-5.8-5.1 5.8-5.1 11.7 0C5.8 5.1-5.8 5.1-11.7 0Z" fill="#20d020" transform="translate(-0.2 31.0)rotate(12)"/><path d="M-9.5 0C-4.8-4.9 4.8-4.9 9.5 0C4.8 4.9-4.8 4.9-9.5 0Z" fill="#90ff70" transform="translate(79.0 60.3)rotate(-7)"/><path d="M-9.7 0C-4.8-5.2 4.8-5.2 9.7 0C4.8 5.2-4.8 5.2-9.7 0Z" fill="#ff9020" transform="translate(5.0 43.5)rotate(9)"/><path d="M-9.7 0C-4.9-4.3 4.9-4.3 9.7 0C4.9 4.3-4.9 4.3-9.7 0Z" fill="#20e0e0" transform="translate(115.7 38.8)rotate(-7)"/><path d="M-9.6 0C-4.8-4.1 4.8-4.1 9.6 0C4.8 4.1-4.8 4.1-9.6 0Z" fill="#7090ff" transform="translate(182.4 39.3)rotate(33)"/><path d="M-10.4 0C-5.2-4.5 5.2-4.5 10.4 0C5.2 4.5-5.2 4.5-10.4 0Z" fill="#2020ff" transform="translate(28.4 52.1)rotate(14)"/><path d="M-9.6 0C-4.8-4.6 4.8-4.6 9.6 0C4.8 4.6-4.8 4.6-9.6 0Z" fill="#c0c0c0" transform="translate(110.1 68.3)rotate(27)"/><path d="M-9.1 0C-4.6-5.0 4.6-5.0 9.1 0C4.6 5.0-4.6 5.0-9.1 0Z" fill="#e020e0" transform="translate(126.6 57.3)rotate(-37)"/><path d="M-10.6 0C-5.3-5.1 5.3-5.1 10.6 0C5.3 5.1-5.3 5.1-10.6 0Z" fill="#e020e0" transform="translate(35.5 46.6)rotate(-1)"/><path d="M-11.6 0C-5.8-4.8 5.8-4.8 11.6 0C5.8 4.8-5.8 4.8-11.6 0Z" fill="#20c0a0" transform="translate(21.8 69.2)rotate(-10)"/><path d="M-9.2 0C-4.6-4.2 4.6-4.2 9.2 0C4.6 4.2-4.6 4.2-9.2 0Z" fill="#20d020" transform="translate(20.9 23.2)rotate(24)"/><path d="M-11.8 0C-5.9-4.7 5.9-4.7 11.8 0C5.9 4.7-5.9 4.7-11.8 0Z" fill="#9020ff" transform="translate(97.0 37.1)rotate(37)"/><path d="M-10.9 0C-5.5-4.5 5.5-4.5 10.9 0C5.5 4.5-5.5 4.5-10.9 0Z" fill="#e020e0" transform="translate(97.6 51.8)rotate(-19)"/><path d="M-10.4 0C-5.2-4.4 5.2-4.4 10.4 0C5.2 4.4-5.2 4.4-10.4 0Z" fill="#d090f0" transform="translate(142.1 65.8)rotate(-6)"/><path d="M-9.0 0C-4.5-4.1 4.5-4.1 9.0 0C4.5 4.1-4.5 4.1-9.0 0Z" fill="#20c0a0" transform="translate(44.3 36.1)rotate(2)"/><path d="M-10.9 0C-5.4-5.2 5.4-5.2 10.9 0C5.4 5.2-5.4 5.2-10.9 0Z" fill="#ff2020" transform="translate(214.3 20.2)rotate(30)"/><path d="M-11.1 0C-5.5-4.0 5.5-4.0 11.1 0C5.5 4.0-5.5 4.0-11.1 0Z" fill="#a0a0a0" transform="translate(126.5 27.1)rotate(29)"/><path d="M-11.5 0C-5.8-4.0 5.8-4.0 11.5 0C5.8 4.0-5.8 4.0-11.5 0Z" fill="#ff70b0" transform="translate(42.5 68.3)rotate(-40)"/><path d="M-11.6 0C-5.8-4.2 5.8-4.2 11.6 0C5.8 4.2-5.8 4.2-11.6 0Z" fill="#e020e0" transform="translate(195.3 30.0)rotate(-3)"/><path d="M-9.3 0C-4.6-4.2 4.6-4.2 9.3 0C4.6 4.2-4.6 4.2-9.3 0Z" fill="#ff70b0" transform="translate(-1.0 56.6)rotate(-35)"/><path d="M-9.5 0C-4.7-4.2 4.7-4.2 9.5 0C4.7 4.2-4.7 4.2-9.5 0Z" fill="#40b040" transform="translate(212.6 35.5)rotate(-34)"/><path d="M-10.6 0C-5.3-5.3 5.3-5.3 10.6 0C5.3 5.3-5.3 5.3-10.6 0Z" fill="#90ff70" transform="translate(190.3 56.8)rotate(-30)"/><path d="M-10.0 0C-5.0-4.2 5.0-4.2 10.0 0C5.0 4.2-5.0 4.2-10.0 0Z" fill="#20c0a0" transform="translate(157.4 69.1)rotate(-12)"/><path d="M-10.1 0C-5.1-4.2 5.1-4.2 10.1 0C5.1 4.2-5.1 4.2-10.1 0Z" fill="#b040c0" transform="translate(53.1 29.7)rotate(-27)"/><path d="M-10.6 0C-5.3-4.8 5.3-4.8 10.6 0C5.3 4.8-5.3 4.8-10.6 0Z" fill="#20c0a0" transform="translate(161.3 28.7)rotate(-16)"/><path d="M-9.0 0C-4.5-4.8 4.5-4.8 9.0 0C4.5 4.8-4.5 4.8-9.0 0Z" fill="#20ff90" transform="translate(18.8 42.8)rotate(-6)"/><path d="M-11.4 0C-5.7-5.3 5.7-5.3 11.4 0C5.7 5.3-5.7 5.3-11.4 0Z" fill="#e020e0" transform="translate(17.1 61.1)rotate(-9)"/><path d="M-10.2 0C-5.1-5.2 5.1-5.2 10.2 0C5.1 5.2-5.1 5.2-10.2 0Z" fill="#5090d0" transform="translate(124.8 68.4)rotate(30)"/><path d="M-11.6 0C-5.8-4.2 5.8-4.2 11.6 0C5.8 4.2-5.8 4.2-11.6 0Z" fill="#b040c0" transform="translate(117.5 54.4)rotate(24)"/><path d="M-9.9 0C-4.9-4.9 4.9-4.9 9.9 0C4.9 4.9-4.9 4.9-9.9 0Z" fill="#9020ff" transform="translate(115.0 22.1)rotate(-33)"/><path d="M-10.1 0C-5.1-4.2 5.1-4.2 10.1 0C5.1 4.2-5.1 4.2-10.1 0Z" fill="#e020e0" transform="translate(47.9 57.4)rotate(11)"/><path d="M-11.2 0C-5.6-4.5 5.6-4.5 11.2 0C5.6 4.5-5.6 4.5-11.2 0Z" fill="#ff2020" transform="translate(53.8 43.1)rotate(27)"/><path d="M-10.3 0C-5.2-4.7 5.2-4.7 10.3 0C5.2 4.7-5.2 4.7-10.3 0Z" fill="#7090ff" transform="translate(79.2 52.6)rotate(3)"/><path d="M-9.5 0C-4.8-5.0 4.8-5.0 9.5 0C4.8 5.0-4.8 5.0-9.5 0Z" fill="#e020e0" transform="translate(54.4 23.6)rotate(-36)"/><path d="M-9.8 0C-4.9-4.7 4.9-4.7 9.8 0C4.9 4.7-4.9 4.7-9.8 0Z" fill="#ff2020" transform="translate(160.1 56.6)rotate(33)"/><path d="M-11.0 0C-5.5-4.6 5.5-4.6 11.0 0C5.5 4.6-5.5 4.6-11.0 0Z" fill="#9020ff" transform="translate(142.5 31.3)rotate(-28)"/><path d="M-10.9 0C-5.5-4.9 5.5-4.9 10.9 0C5.5 4.9-5.5 4.9-10.9 0Z" fill="#b040c0" transform="translate(8.1 36.8)rotate(-4)"/><path d="M-9.7 0C-4.8-4.4 4.8-4.4 9.7 0C4.8 4.4-4.8 4.4-9.7 0Z" fill="#c0c0c0" transform="translate(100.4 21.6)rotate(8)"/><path d="M-10.5 0C-5.3-5.0 5.3-5.0 10.5 0C5.3 5.0-5.3 5.0-10.5 0Z" fill="#ff9020" transform="translate(137.1 49.9)rotate(-28)"/><path d="M-10.3 0C-5.2-4.7 5.2-4.7 10.3 0C5.2 4.7-5.2 4.7-10.3 0Z" fill="#b040c0" transform="translate(45.6 53.5)rotate(-11)"/><path d="M-9.6 0C-4.8-4.0 4.8-4.0 9.6 0C4.8 4.0-4.8 4.0-9.6 0Z" fill="#90ff70" transform="translate(148.6 38.6)rotate(-4)"/><path d="M-9.0 0C-4.5-4.2 4.5-4.2 9.0 0C4.5 4.2-4.5 4.2-9.0 0Z" fill="#9020ff" transform="translate(62.1 54.1)rotate(15)"/><path d="M-11.0 0C-5.5-4.1 5.5-4.1 11.0 0C5.5 4.1-5.5 4.1-11.0 0Z" fill="#7090ff" transform="translate(133.2 45.6)rotate(35)"/><path d="M-11.8 0C-5.9-4.1 5.9-4.1 11.8 0C5.9 4.1-5.9 4.1-11.8 0Z" fill="#e020e0" transform="translate(10.5 49.8)rotate(2)"/><path d="M-9.3 0C-4.7-4.9 4.7-4.9 9.3 0C4.7 4.9-4.7 4.9-9.3 0Z" fill="#e020e0" transform="translate(96.2 68.0)rotate(-18)"/><path d="M-9.4 0C-4.7-4.2 4.7-4.2 9.4 0C4.7 4.2-4.7 4.2-9.4 0Z" fill="#e020e0" transform="translate(69.0 23.9)rotate(12)"/><path d="M-11.6 0C-5.8-4.1 5.8-4.1 11.6 0C5.8 4.1-5.8 4.1-11.6 0Z" fill="#e0e020" transform="translate(73.5 45.8)rotate(-9)"/><path d="M-11.5 0C-5.7-4.6 5.7-4.6 11.5 0C5.7 4.6-5.7 4.6-11.5 0Z" fill="#7090ff" transform="translate(78.1 65.6)rotate(4)"/><path d="M-11.2 0C-5.6-4.7 5.6-4.7 11.2 0C5.6 4.7-5.6 4.7-11.2 0Z" fill="#e0e020" transform="translate(93.3 42.6)rotate(17)"/><path d="M-11.4 0C-5.7-4.0 5.7-4.0 11.4 0C5.7 4.0-5.7 4.0-11.4 0Z" fill="#20e0e0" transform="translate(150.4 20.6)rotate(12)"/><path d="M-10.1 0C-5.0-4.3 5.0-4.3 10.1 0C5.0 4.3-5.0 4.3-10.1 0Z" fill="#ff2020" transform="translate(64.2 56.6)rotate(13)"/><path d="M-11.0 0C-5.5-5.1 5.5-5.1 11.0 0C5.5 5.1-5.5 5.1-11.0 0Z" fill="#c02020" transform="translate(107.1 29.3)rotate(-19)"/><path d="M-9.0 0C-4.5-4.3 4.5-4.3 9.0 0C4.5 4.3-4.5 4.3-9.0 0Z" fill="#e020e0" transform="translate(131.9 36.5)rotate(18)"/><path d="M-10.9 0C-5.5-5.2 5.5-5.2 10.9 0C5.5 5.2-5.5 5.2-10.9 0Z" fill="#2020ff" transform="translate(91.2 29.4)rotate(30)"/><path d="M-9.8 0C-4.9-5.2 4.9-5.2 9.8 0C4.9 5.2-4.9 5.2-9.8 0Z" fill="#e0e020" transform="translate(79.4 38.0)rotate(-33)"/><path d="M-11.2 0C-5.6-4.5 5.6-4.5 11.2 0C5.6 4.5-5.6 4.5-11.2 0Z" fill="#20ff90" transform="translate(1.5 65.0)rotate(-6)"/><path d="M-9.9 0C-5.0-4.4 5.0-4.4 9.9 0C5.0 4.4-5.0 4.4-9.9 0Z" fill="#e020e0" transform="translate(59.8 65.9)rotate(-37)"/><path d="M-10.4 0C-5.2-5.3 5.2-5.3 10.4 0C5.2 5.3-5.2 5.3-10.4 0Z" fill="#20ff90" transform="translate(96.4 59.8)rotate(-17)"/><path d="M-10.9 0C-5.4-5.2 5.4-5.2 10.9 0C5.4 5.2-5.4 5.2-10.9 0Z" fill="#5090d0" transform="translate(131.8 20.2)rotate(-28)"/><path d="M-9.1 0C-4.6-4.6 4.6-4.6 9.1 0C4.6 4.6-4.6 4.6-9.1 0Z" fill="#c0c0c0" transform="translate(176.7 28.9)rotate(-4)"/><path d="M-11.9 0C-6.0-4.8 6.0-4.8 11.9 0C6.0 4.8-6.0 4.8-11.9 0Z" fill="#7090ff" transform="translate(112.8 44.7)rotate(38)"/><path d="M-10.8 0C-5.4-5.3 5.4-5.3 10.8 0C5.4 5.3-5.4 5.3-10.8 0Z" fill="#20c0a0" transform="translate(32.9 56.9)rotate(-39)"/></g></symbol><symbol id="seg_v" viewBox="0 0 72 192" preserveAspectRatio="none"><rect width="72" height="192" fill="#000"/><g stroke="#000" stroke-width="0.3"><path d="M-8.9 0C-4.4-4.1 4.4-4.1 8.9 0C4.4 4.1-4.4 4.1-8.9 0Z" fill="#90ff70" transform="translate(32.4 160.3)rotate(15)"/><path d="M-9.4 0C-4.7-3.9 4.7-3.9 9.4 0C4.7 3.9-4.7 3.9-9.4 0Z" fill="#90ff70" transform="translate(51.2 74.7)rotate(60)"/><path d="M-9.7 0C-4.9-3.9 4.9-3.9 9.7 0C4.9 3.9-4.9 3.9-9.7 0Z" fill="#c0c0c0" transform="translate(29.5 169.0)rotate(50)"/><path d="M-10.2 0C-5.1-3.9 5.1-3.9 10.2 0C5.1 3.9-5.1 3.9-10.2 0Z" fill="#8a1010" transform="translate(48.1 130.1)rotate(25)"/><path d="M-9.3 0C-4.7-3.6 4.7-3.6 9.3 0C4.7 3.6-4.7 3.6-9.3 0Z" fill="#ff70b0" transform="translate(32.0 177.1)rotate(56)"/><path d="M-9.2 0C-4.6-3.7 4.6-3.7 9.2 0C4.6 3.7-4.6 3.7-9.2 0Z" fill="#207070" transform="translate(44.6 135.0)rotate(-75)"/><path d="M-10.3 0C-5.1-3.9 5.1-3.9 10.3 0C5.1 3.9-5.1 3.9-10.3 0Z" fill="#b040c0" transform="translate(29.4 133.3)rotate(-7)"/><path d="M-10.0 0C-5.0-4.1 5.0-4.1 10.0 0C5.0 4.1-5.0 4.1-10.0 0Z" fill="#106010" transform="translate(38.6 152.5)rotate(80)"/><path d="M-10.1 0C-5.0-4.4 5.0-4.4 10.1 0C5.0 4.4-5.0 4.4-10.1 0Z" fill="#d090f0" transform="translate(35.8 65.3)rotate(67)"/><path d="M-8.2 0C-4.1-4.2 4.1-4.2 8.2 0C4.1 4.2-4.1 4.2-8.2 0Z" fill="#20d020" transform="translate(29.2 108.4)rotate(-59)"/><path d="M-8.7 0C-4.3-3.6 4.3-3.6 8.7 0C4.3 3.6-4.3 3.6-8.7 0Z" fill="#905020" transform="translate(45.4 81.0)rotate(-76)"/><path d="M-10.0 0C-5.0-3.7 5.0-3.7 10.0 0C5.0 3.7-5.0 3.7-10.0 0Z" fill="#8a1010" transform="translate(35.2 15.7)rotate(35)"/><path d="M-9.1 0C-4.5-3.7 4.5-3.7 9.1 0C4.5 3.7-4.5 3.7-9.1 0Z" fill="#905020" transform="translate(21.5 65.3)rotate(-43)"/><path d="M-10.5 0C-5.2-4.0 5.2-4.0 10.5 0C5.2 4.0-5.2 4.0-10.5 0Z" fill="#ff2020" transform="translate(56.0 148.9)rotate(-62)"/><path d="M-10.3 0C-5.2-3.6 5.2-3.6 10.3 0C5.2 3.6-5.2 3.6-10.3 0Z" fill="#ff9020" transform="translate(18.4 180.3)rotate(-34)"/><path d="M-9.3 0C-4.6-4.4 4.6-4.4 9.3 0C4.6 4.4-4.6 4.4-9.3 0Z" fill="#20c0a0" transform="translate(45.6 61.8)rotate(12)"/><path d="M-10.4 0C-5.2-4.4 5.2-4.4 10.4 0C5.2 4.4-5.2 4.4-10.4 0Z" fill="#2020ff" transform="translate(55.1 84.0)rotate(70)"/><path d="M-8.0 0C-4.0-3.9 4.0-3.9 8.0 0C4.0 3.9-4.0 3.9-8.0 0Z" fill="#9020ff" transform="translate(50.4 114.4)rotate(32)"/><path d="M-9.6 0C-4.8-4.0 4.8-4.0 9.6 0C4.8 4.0-4.8 4.0-9.6 0Z" fill="#b040c0" transform="translate(19.7 165.9)rotate(-8)"/><path d="M-8.5 0C-4.2-4.1 4.2-4.1 8.5 0C4.2 4.1-4.2 4.1-8.5 0Z" fill="#2020ff" transform="translate(22.9 88.7)rotate(75)"/><path d="M-10.2 0C-5.1-4.2 5.1-4.2 10.2 0C5.1 4.2-5.1 4.2-10.2 0Z" fill="#b040c0" transform="translate(24.0 11.2)rotate(29)"/><path d="M-9.8 0C-4.9-4.5 4.9-4.5 9.8 0C4.9 4.5-4.9 4.5-9.8 0Z" fill="#e0e020" transform="translate(36.8 101.7)rotate(-57)"/><path d="M-9.5 0C-4.7-4.3 4.7-4.3 9.5 0C4.7 4.3-4.7 4.3-9.5 0Z" fill="#a0a0a0" transform="translate(57.8 140.9)rotate(-69)"/><path d="M-8.1 0C-4.0-3.5 4.0-3.5 8.1 0C4.0 3.5-4.0 3.5-8.1 0Z" fill="#a0a0a0" transform="translate(47.2 178.5)rotate(-65)"/><path d="M-9.4 0C-4.7-4.3 4.7-4.3 9.4 0C4.7 4.3-4.7 4.3-9.4 0Z" fill="#a0a0a0" transform="translate(44.4 172.3)rotate(7)"/><path d="M-10.2 0C-5.1-4.0 5.1-4.0 10.2 0C5.1 4.0-5.1 4.0-10.2 0Z" fill="#40b040" transform="translate(48.9 161.2)rotate(39)"/><path d="M-9.3 0C-4.6-3.8 4.6-3.8 9.3 0C4.6 3.8-4.6 3.8-9.3 0Z" fill="#2020ff" transform="translate(17.8 158.4)rotate(3)"/><path d="M-9.1 0C-4.6-4.0 4.6-4.0 9.1 0C4.6 4.0-4.6 4.0-9.1 0Z" fill="#2020ff" transform="translate(20.0 102.8)rotate(1)"/><path d="M-9.1 0C-4.5-4.5 4.5-4.5 9.1 0C4.5 4.5-4.5 4.5-9.1 0Z" fill="#106010" transform="translate(31.9 24.3)rotate(73)"/><path d="M-9.5 0C-4.7-4.2 4.7-4.2 9.5 0C4.7 4.2-4.7 4.2-9.5 0Z" fill="#207070" transform="translate(34.0 94.9)rotate(-41)"/><path d="M-9.6 0C-4.8-4.2 4.8-4.2 9.6 0C4.8 4.2-4.8 4.2-9.6 0Z" fill="#ff2020" transform="translate(15.4 32.9)rotate(-49)"/><path d="M-8.4 0C-4.2-4.3 4.2-4.3 8.4 0C4.2 4.3-4.2 4.3-8.4 0Z" fill="#b040c0" transform="translate(37.9 88.8)rotate(42)"/><path d="M-8.4 0C-4.2-3.5 4.2-3.5 8.4 0C4.2 3.5-4.2 3.5-8.4 0Z" fill="#90ff70" transform="translate(31.4 129.3)rotate(-35)"/><path d="M-10.3 0C-5.1-4.2 5.1-4.2 10.3 0C5.1 4.2-5.1 4.2-10.3 0Z" fill="#d090f0" transform="translate(42.0 142.5)rotate(-55)"/><path d="M-9.9 0C-4.9-3.6 4.9-3.6 9.9 0C4.9 3.6-4.9 3.6-9.9 0Z" fill="#106010" transform="translate(31.6 32.1)rotate(75)"/><path d="M-8.8 0C-4.4-3.7 4.4-3.7 8.8 0C4.4 3.7-4.4 3.7-8.8 0Z" fill="#ff70b0" transform="translate(33.6 184.7)rotate(77)"/><path d="M-10.1 0C-5.1-3.9 5.1-3.9 10.1 0C5.1 3.9-5.1 3.9-10.1 0Z" fill="#ff2020" transform="translate(37.3 195.5)rotate(46)"/><path d="M-10.1 0C-5.1-4.3 5.1-4.3 10.1 0C5.1 4.3-5.1 4.3-10.1 0Z" fill="#e020e0" transform="translate(20.3 192.5)rotate(35)"/><path d="M-8.5 0C-4.3-4.2 4.3-4.2 8.5 0C4.3 4.2-4.3 4.2-8.5 0Z" fill="#90ff70" transform="translate(32.4 63.1)rotate(-56)"/><path d="M-9.5 0C-4.7-4.3 4.7-4.3 9.5 0C4.7 4.3-4.7 4.3-9.5 0Z" fill="#ff2020" transform="translate(50.9 67.0)rotate(-3)"/><path d="M-8.4 0C-4.2-3.7 4.2-3.7 8.4 0C4.2 3.7-4.2 3.7-8.4 0Z" fill="#2020ff" transform="translate(56.8 109.4)rotate(49)"/><path d="M-8.2 0C-4.1-4.4 4.1-4.4 8.2 0C4.1 4.4-4.1 4.4-8.2 0Z" fill="#e020e0" transform="translate(26.7 143.3)rotate(-45)"/><path d="M-9.4 0C-4.7-4.4 4.7-4.4 9.4 0C4.7 4.4-4.7 4.4-9.4 0Z" fill="#c02020" transform="translate(16.6 78.5)rotate(27)"/><path d="M-9.1 0C-4.6-4.1 4.6-4.1 9.1 0C4.6 4.1-4.6 4.1-9.1 0Z" fill="#20d020" transform="translate(53.2 194.2)rotate(0)"/><path d="M-9.6 0C-4.8-4.1 4.8-4.1 9.6 0C4.8 4.1-4.8 4.1-9.6 0Z" fill="#207070" transform="translate(20.6 112.6)rotate(-48)"/><path d="M-10.0 0C-5.0-3.7 5.0-3.7 10.0 0C5.0 3.7-5.0 3.7-10.0 0Z" fill="#ff2020" transform="translate(22.6 147.0)rotate(-7)"/><path d="M-8.6 0C-4.3-3.6 4.3-3.6 8.6 0C4.3 3.6-4.3 3.6-8.6 0Z" fill="#b040c0" transform="translate(36.7 113.3)rotate(-20)"/><path d="M-10.2 0C-5.1-3.6 5.1-3.6 10.2 0C5.1 3.6-5.1 3.6-10.2 0Z" fill="#207070" transform="translate(15.0 22.0)rotate(53)"/><path d="M-9.9 0C-4.9-4.4 4.9-4.4 9.9 0C4.9 4.4-4.9 4.4-9.9 0Z" fill="#a0a0a0" transform="translate(24.3 186.9)rotate(15)"/><path d="M-8.5 0C-4.3-3.8 4.3-3.8 8.5 0C4.3 3.8-4.3 3.8-8.5 0Z" fill="#5090d0" transform="translate(50.4 162.8)rotate(-42)"/><path d="M-9.7 0C-4.8-4.5 4.8-4.5 9.7 0C4.8 4.5-4.8 4.5-9.7 0Z" fill="#ff9020" transform="translate(31.1 78.1)rotate(-39)"/><path d="M-8.3 0C-4.2-3.7 4.2-3.7 8.3 0C4.2 3.7-4.2 3.7-8.3 0Z" fill="#106010" transform="translate(46.5 120.0)rotate(-33)"/><path d="M-9.8 0C-4.9-4.3 4.9-4.3 9.8 0C4.9 4.3-4.9 4.3-9.8 0Z" fill="#e0e020" transform="translate(36.6 162.2)rotate(70)"/><path d="M-8.3 0C-4.1-4.3 4.1-4.3 8.3 0C4.1 4.3-4.1 4.3-8.3 0Z" fill="#c0c0c0" transform="translate(14.4 48.8)rotate(-52)"/><path d="M-9.4 0C-4.7-4.0 4.7-4.0 9.4 0C4.7 4.0-4.7 4.0-9.4 0Z" fill="#ff70b0" transform="translate(16.4 105.7)rotate(78)"/><path d="M-10.0 0C-5.0-3.9 5.0-3.9 10.0 0C5.0 3.9-5.0 3.9-10.0 0Z" fill="#2020ff" transform="translate(35.7 26.7)rotate(74)"/><path d="M-9.9 0C-4.9-4.0 4.9-4.0 9.9 0C4.9 4.0-4.9 4.0-9.9 0Z" fill="#905020" transform="translate(18.0 62.5)rotate(37)"/><path d="M-10.0 0C-5.0-3.8 5.0-3.8 10.0 0C5.0 3.8-5.0 3.8-10.0 0Z" fill="#20c0a0" transform="translate(39.0 3.8)rotate(32)"/><path d="M-8.8 0C-4.4-3.8 4.4-3.8 8.8 0C4.4 3.8-4.4 3.8-8.8 0Z" fill="#20ff90" transform="translate(52.0 155.3)rotate(-13)"/><path d="M-8.5 0C-4.3-4.0 4.3-4.0 8.5 0C4.3 4.0-4.3 4.0-8.5 0Z" fill="#ff2020" transform="translate(21.8 73.2)rotate(-3)"/><path d="M-10.4 0C-5.2-3.7 5.2-3.7 10.4 0C5.2 3.7-5.2 3.7-10.4 0Z" fill="#207070" transform="translate(18.7 -0.5)rotate(27)"/><path d="M-8.7 0C-4.3-4.4 4.3-4.4 8.7 0C4.3 4.4-4.3 4.4-8.7 0Z" fill="#106010" transform="translate(40.1 49.8)rotate(47)"/><path d="M-10.2 0C-5.1-3.9 5.1-3.9 10.2 0C5.1 3.9-5.1 3.9-10.2 0Z" fill="#ff2020" transform="translate(36.0 38.0)rotate(76)"/><path d="M-9.2 0C-4.6-3.9 4.6-3.9 9.2 0C4.6 3.9-4.6 3.9-9.2 0Z" fill="#ff2020" transform="translate(52.4 88.7)rotate(-78)"/><path d="M-8.6 0C-4.3-4.2 4.3-4.2 8.6 0C4.3 4.2-4.3 4.2-8.6 0Z" fill="#20c0a0" transform="translate(23.8 84.1)rotate(73)"/><path d="M-8.5 0C-4.2-4.2 4.2-4.2 8.5 0C4.2 4.2-4.2 4.2-8.5 0Z" fill="#20ff90" transform="translate(45.3 21.3)rotate(74)"/><path d="M-9.0 0C-4.5-4.0 4.5-4.0 9.0 0C4.5 4.0-4.5 4.0-9.0 0Z" fill="#40b040" transform="translate(14.1 170.5)rotate(49)"/><path d="M-8.3 0C-4.1-3.7 4.1-3.7 8.3 0C4.1 3.7-4.1 3.7-8.3 0Z" fill="#c0c0c0" transform="translate(36.4 126.1)rotate(-18)"/><path d="M-8.1 0C-4.0-3.7 4.0-3.7 8.1 0C4.0 3.7-4.0 3.7-8.1 0Z" fill="#c0c0c0" transform="translate(19.5 131.3)rotate(65)"/><path d="M-8.4 0C-4.2-3.7 4.2-3.7 8.4 0C4.2 3.7-4.2 3.7-8.4 0Z" fill="#d090f0" transform="translate(22.1 154.9)rotate(66)"/><path d="M-9.6 0C-4.8-4.0 4.8-4.0 9.6 0C4.8 4.0-4.8 4.0-9.6 0Z" fill="#e020e0" transform="translate(49.2 94.4)rotate(-80)"/><path d="M-8.6 0C-4.3-4.2 4.3-4.2 8.6 0C4.3 4.2-4.3 4.2-8.6 0Z" fill="#905020" transform="translate(38.7 85.1)rotate(32)"/><path d="M-8.1 0C-4.0-4.1 4.0-4.1 8.1 0C4.0 4.1-4.0 4.1-8.1 0Z" fill="#c0c0c0" transform="translate(12.5 143.9)rotate(69)"/><path d="M-8.7 0C-4.3-4.5 4.3-4.5 8.7 0C4.3 4.5-4.3 4.5-8.7 0Z" fill="#e0e020" transform="translate(32.9 116.1)rotate(16)"/><path d="M-10.0 0C-5.0-4.2 5.0-4.2 10.0 0C5.0 4.2-5.0 4.2-10.0 0Z" fill="#c0c0c0" transform="translate(52.5 126.6)rotate(-56)"/><path d="M-9.4 0C-4.7-4.0 4.7-4.0 9.4 0C4.7 4.0-4.7 4.0-9.4 0Z" fill="#7090ff" transform="translate(51.0 102.4)rotate(37)"/><path d="M-8.2 0C-4.1-4.3 4.1-4.3 8.2 0C4.1 4.3-4.1 4.3-8.2 0Z" fill="#20c0a0" transform="translate(14.5 136.1)rotate(-23)"/><path d="M-9.6 0C-4.8-3.7 4.8-3.7 9.6 0C4.8 3.7-4.8 3.7-9.6 0Z" fill="#207070" transform="translate(35.7 74.7)rotate(77)"/><path d="M-8.5 0C-4.3-4.0 4.3-4.0 8.5 0C4.3 4.0-4.3 4.0-8.5 0Z" fill="#c02020" transform="translate(49.5 11.8)rotate(28)"/><path d="M-10.0 0C-5.0-4.2 5.0-4.2 10.0 0C5.0 4.2-5.0 4.2-10.0 0Z" fill="#9020ff" transform="translate(43.3 104.9)rotate(-53)"/><path d="M-10.2 0C-5.1-4.5 5.1-4.5 10.2 0C5.1 4.5-5.1 4.5-10.2 0Z" fill="#a0a0a0" transform="translate(36.6 46.7)rotate(-79)"/><path d="M-8.0 0C-4.0-4.3 4.0-4.3 8.0 0C4.0 4.3-4.0 4.3-8.0 0Z" fill="#2020ff" transform="translate(20.8 14.4)rotate(13)"/><path d="M-10.1 0C-5.0-4.0 5.0-4.0 10.1 0C5.0 4.0-5.0 4.0-10.1 0Z" fill="#d090f0" transform="translate(16.4 118.2)rotate(22)"/><path d="M-8.0 0C-4.0-3.7 4.0-3.7 8.0 0C4.0 3.7-4.0 3.7-8.0 0Z" fill="#a0a0a0" transform="translate(53.0 189.2)rotate(-55)"/><path d="M-9.3 0C-4.6-3.8 4.6-3.8 9.3 0C4.6 3.8-4.6 3.8-9.3 0Z" fill="#e020e0" transform="translate(15.5 174.6)rotate(-65)"/><path d="M-8.7 0C-4.4-3.9 4.4-3.9 8.7 0C4.4 3.9-4.4 3.9-8.7 0Z" fill="#9020ff" transform="translate(47.6 184.1)rotate(-36)"/><path d="M-9.0 0C-4.5-4.1 4.5-4.1 9.0 0C4.5 4.1-4.5 4.1-9.0 0Z" fill="#e0e020" transform="translate(38.7 188.3)rotate(80)"/></g></symbol><symbol id="photo_v" viewBox="0 0 72 192" preserveAspectRatio="none"><rect width="72" height="192" fill="#000"/><defs><linearGradient id="gv" x1="0" y1="0" x2="0" y2="1"><stop offset="0" stop-color="#8a7e5a"/><stop offset="0.3" stop-color="#b8a878"/><stop offset="0.5" stop-color="#3a3a38"/><stop offset="1" stop-color="#262628"/></linearGradient></defs><rect width="72" height="192" fill="url(#gv)"/><g stroke="#1a1c24" stroke-width="0.5"><path d="M-7.8 0C-3.9-3.8 3.9-3.8 7.8 0C3.9 3.8-3.9 3.8-7.8 0Z" fill="#81859a" transform="translate(7.6 58.1)rotate(35)"/><path d="M-6.6 0C-3.3-3.7 3.3-3.7 6.6 0C3.3 3.7-3.3 3.7-6.6 0Z" fill="#787c8f" transform="translate(34.8 113.1)rotate(-28)"/><path d="M-7.0 0C-3.5-3.4 3.5-3.4 7.0 0C3.5 3.4-3.5 3.4-7.0 0Z" fill="#9095ac" transform="translate(7.7 106.1)rotate(-41)"/><path d="M-7.1 0C-3.5-3.2 3.5-3.2 7.1 0C3.5 3.2-3.5 3.2-7.1 0Z" fill="#c6cded" transform="translate(31.0 91.3)rotate(74)"/><path d="M-7.8 0C-3.9-4.2 3.9-4.2 7.8 0C3.9 4.2-3.9 4.2-7.8 0Z" fill="#adb3cf" transform="translate(59.8 116.1)rotate(-3)"/><path d="M-7.0 0C-3.5-3.3 3.5-3.3 7.0 0C3.5 3.3-3.5 3.3-7.0 0Z" fill="#727688" transform="translate(28.3 194.3)rotate(46)"/><path d="M-6.7 0C-3.4-3.7 3.4-3.7 6.7 0C3.4 3.7-3.4 3.7-6.7 0Z" fill="#9a9fb8" transform="translate(28.1 147.5)rotate(-42)"/><path d="M-6.5 0C-3.3-4.2 3.3-4.2 6.5 0C3.3 4.2-3.3 4.2-6.5 0Z" fill="#717487" transform="translate(-2.0 53.4)rotate(34)"/><path d="M-8.4 0C-4.2-4.3 4.2-4.3 8.4 0C4.2 4.3-4.2 4.3-8.4 0Z" fill="#afb5d1" transform="translate(3.6 146.8)rotate(-2)"/><path d="M-7.4 0C-3.7-4.2 3.7-4.2 7.4 0C3.7 4.2-3.7 4.2-7.4 0Z" fill="#797d90" transform="translate(38.8 -2.5)rotate(-23)"/><path d="M-6.6 0C-3.3-3.6 3.3-3.6 6.6 0C3.3 3.6-3.3 3.6-6.6 0Z" fill="#7f8398" transform="translate(27.1 34.3)rotate(68)"/><path d="M-7.0 0C-3.5-3.4 3.5-3.4 7.0 0C3.5 3.4-3.5 3.4-7.0 0Z" fill="#b1b7d3" transform="translate(15.7 36.1)rotate(52)"/><path d="M-8.0 0C-4.0-4.0 4.0-4.0 8.0 0C4.0 4.0-4.0 4.0-8.0 0Z" fill="#c6ccec" transform="translate(26.0 123.9)rotate(2)"/><path d="M-6.8 0C-3.4-3.5 3.4-3.5 6.8 0C3.4 3.5-3.4 3.5-6.8 0Z" fill="#aeb4d0" transform="translate(29.3 142.1)rotate(-28)"/><path d="M-8.4 0C-4.2-3.5 4.2-3.5 8.4 0C4.2 3.5-4.2 3.5-8.4 0Z" fill="#8b90a6" transform="translate(27.9 129.2)rotate(6)"/><path d="M-6.6 0C-3.3-4.1 3.3-4.1 6.6 0C3.3 4.1-3.3 4.1-6.6 0Z" fill="#b1b7d4" transform="translate(37.4 132.8)rotate(-25)"/><path d="M-8.0 0C-4.0-3.7 4.0-3.7 8.0 0C4.0 3.7-4.0 3.7-8.0 0Z" fill="#898da4" transform="translate(16.0 164.0)rotate(70)"/><path d="M-7.9 0C-3.9-4.2 3.9-4.2 7.9 0C3.9 4.2-3.9 4.2-7.9 0Z" fill="#6c7081" transform="translate(41.0 149.0)rotate(40)"/><path d="M-7.4 0C-3.7-4.0 3.7-4.0 7.4 0C3.7 4.0-3.7 4.0-7.4 0Z" fill="#898ea4" transform="translate(40.7 160.2)rotate(-52)"/><path d="M-7.7 0C-3.9-3.6 3.9-3.6 7.7 0C3.9 3.6-3.9 3.6-7.7 0Z" fill="#b6bcd9" transform="translate(6.9 98.4)rotate(20)"/><path d="M-8.1 0C-4.0-4.1 4.0-4.1 8.1 0C4.0 4.1-4.0 4.1-8.1 0Z" fill="#afb5d1" transform="translate(5.4 191.1)rotate(-44)"/><path d="M-7.1 0C-3.5-3.7 3.5-3.7 7.1 0C3.5 3.7-3.5 3.7-7.1 0Z" fill="#808599" transform="translate(15.8 180.7)rotate(-7)"/><path d="M-7.7 0C-3.9-3.9 3.9-3.9 7.7 0C3.9 3.9-3.9 3.9-7.7 0Z" fill="#c6cded" transform="translate(15.5 127.1)rotate(51)"/><path d="M-7.0 0C-3.5-3.3 3.5-3.3 7.0 0C3.5 3.3-3.5 3.3-7.0 0Z" fill="#c5ccec" transform="translate(53.6 98.5)rotate(53)"/><path d="M-6.9 0C-3.5-4.1 3.5-4.1 6.9 0C3.5 4.1-3.5 4.1-6.9 0Z" fill="#8a8ea5" transform="translate(47.7 154.6)rotate(-32)"/><path d="M-7.8 0C-3.9-3.6 3.9-3.6 7.8 0C3.9 3.6-3.9 3.6-7.8 0Z" fill="#d3dafc" transform="translate(2.3 115.5)rotate(54)"/><path d="M-7.8 0C-3.9-3.4 3.9-3.4 7.8 0C3.9 3.4-3.9 3.4-7.8 0Z" fill="#888ca2" transform="translate(44.2 89.6)rotate(-14)"/><path d="M-7.3 0C-3.7-3.3 3.7-3.3 7.3 0C3.7 3.3-3.7 3.3-7.3 0Z" fill="#737689" transform="translate(4.6 178.9)rotate(-21)"/><path d="M-6.9 0C-3.4-4.2 3.4-4.2 6.9 0C3.4 4.2-3.4 4.2-6.9 0Z" fill="#a3a8c3" transform="translate(1.5 120.8)rotate(-67)"/><path d="M-6.6 0C-3.3-3.5 3.3-3.5 6.6 0C3.3 3.5-3.3 3.5-6.6 0Z" fill="#c9d0f0" transform="translate(13.3 115.6)rotate(-51)"/><path d="M-7.4 0C-3.7-3.2 3.7-3.2 7.4 0C3.7 3.2-3.7 3.2-7.4 0Z" fill="#acb2ce" transform="translate(34.2 5.7)rotate(70)"/><path d="M-7.0 0C-3.5-3.3 3.5-3.3 7.0 0C3.5 3.3-3.5 3.3-7.0 0Z" fill="#a7acc7" transform="translate(15.5 185.1)rotate(-59)"/><path d="M-7.4 0C-3.7-3.5 3.7-3.5 7.4 0C3.7 3.5-3.7 3.5-7.4 0Z" fill="#a0a6bf" transform="translate(42.4 96.6)rotate(-45)"/><path d="M-7.2 0C-3.6-3.7 3.6-3.7 7.2 0C3.6 3.7-3.6 3.7-7.2 0Z" fill="#8a8fa5" transform="translate(19.5 73.4)rotate(-1)"/><path d="M-7.7 0C-3.9-3.8 3.9-3.8 7.7 0C3.9 3.8-3.9 3.8-7.7 0Z" fill="#8c91a7" transform="translate(14.4 85.2)rotate(79)"/><path d="M-7.8 0C-3.9-4.2 3.9-4.2 7.8 0C3.9 4.2-3.9 4.2-7.8 0Z" fill="#979cb4" transform="translate(55.6 178.3)rotate(-18)"/><path d="M-7.8 0C-3.9-4.1 3.9-4.1 7.8 0C3.9 4.1-3.9 4.1-7.8 0Z" fill="#a7acc7" transform="translate(50.5 67.6)rotate(-59)"/><path d="M-6.8 0C-3.4-3.3 3.4-3.3 6.8 0C3.4 3.3-3.4 3.3-6.8 0Z" fill="#d1d8fa" transform="translate(1.6 16.3)rotate(-41)"/><path d="M-7.5 0C-3.7-3.3 3.7-3.3 7.5 0C3.7 3.3-3.7 3.3-7.5 0Z" fill="#73778a" transform="translate(50.7 187.9)rotate(-65)"/><path d="M-8.3 0C-4.2-3.4 4.2-3.4 8.3 0C4.2 3.4-4.2 3.4-8.3 0Z" fill="#878ba1" transform="translate(28.3 10.0)rotate(62)"/><path d="M-8.5 0C-4.2-3.7 4.2-3.7 8.5 0C4.2 3.7-4.2 3.7-8.5 0Z" fill="#d1d8fa" transform="translate(54.7 140.7)rotate(-20)"/><path d="M-7.9 0C-3.9-4.0 3.9-4.0 7.9 0C3.9 4.0-3.9 4.0-7.9 0Z" fill="#b2b8d5" transform="translate(28.8 178.9)rotate(-53)"/><path d="M-7.9 0C-4.0-3.9 4.0-3.9 7.9 0C4.0 3.9-4.0 3.9-7.9 0Z" fill="#74778a" transform="translate(5.0 166.7)rotate(40)"/><path d="M-6.7 0C-3.4-3.9 3.4-3.9 6.7 0C3.4 3.9-3.4 3.9-6.7 0Z" fill="#9ba0b9" transform="translate(54.1 72.8)rotate(-36)"/><path d="M-8.4 0C-4.2-3.2 4.2-3.2 8.4 0C4.2 3.2-4.2 3.2-8.4 0Z" fill="#b2b8d4" transform="translate(52.9 172.9)rotate(-21)"/><path d="M-7.8 0C-3.9-4.1 3.9-4.1 7.8 0C3.9 4.1-3.9 4.1-7.8 0Z" fill="#ced5f6" transform="translate(3.9 176.5)rotate(-24)"/><path d="M-8.5 0C-4.2-3.6 4.2-3.6 8.5 0C4.2 3.6-4.2 3.6-8.5 0Z" fill="#75788b" transform="translate(1.3 133.4)rotate(55)"/><path d="M-8.0 0C-4.0-3.6 4.0-3.6 8.0 0C4.0 3.6-4.0 3.6-8.0 0Z" fill="#cdd4f5" transform="translate(52.0 129.0)rotate(11)"/><path d="M-6.7 0C-3.3-3.3 3.3-3.3 6.7 0C3.3 3.3-3.3 3.3-6.7 0Z" fill="#bfc5e4" transform="translate(26.2 132.6)rotate(73)"/><path d="M-7.2 0C-3.6-4.2 3.6-4.2 7.2 0C3.6 4.2-3.6 4.2-7.2 0Z" fill="#8a8ea4" transform="translate(27.3 188.8)rotate(-62)"/><path d="M-7.5 0C-3.7-3.4 3.7-3.4 7.5 0C3.7 3.4-3.7 3.4-7.5 0Z" fill="#a5abc5" transform="translate(51.9 195.3)rotate(-7)"/><path d="M-8.2 0C-4.1-3.4 4.1-3.4 8.2 0C4.1 3.4-4.1 3.4-8.2 0Z" fill="#c5cbeb" transform="translate(46.7 18.8)rotate(31)"/><path d="M-6.5 0C-3.3-3.8 3.3-3.8 6.5 0C3.3 3.8-3.3 3.8-6.5 0Z" fill="#868aa0" transform="translate(1.7 64.3)rotate(20)"/><path d="M-7.1 0C-3.5-4.0 3.5-4.0 7.1 0C3.5 4.0-3.5 4.0-7.1 0Z" fill="#b7bddb" transform="translate(25.5 81.3)rotate(53)"/><path d="M-6.8 0C-3.4-3.7 3.4-3.7 6.8 0C3.4 3.7-3.4 3.7-6.8 0Z" fill="#a8aec9" transform="translate(21.8 153.8)rotate(76)"/><path d="M-7.6 0C-3.8-3.3 3.8-3.3 7.6 0C3.8 3.3-3.8 3.3-7.6 0Z" fill="#73778a" transform="translate(10.1 155.9)rotate(71)"/><path d="M-8.0 0C-4.0-3.9 4.0-3.9 8.0 0C4.0 3.9-4.0 3.9-8.0 0Z" fill="#898da4" transform="translate(14.3 11.9)rotate(80)"/><path d="M-7.1 0C-3.5-3.2 3.5-3.2 7.1 0C3.5 3.2-3.5 3.2-7.1 0Z" fill="#989db6" transform="translate(35.1 18.3)rotate(57)"/><path d="M-6.8 0C-3.4-3.6 3.4-3.6 6.8 0C3.4 3.6-3.4 3.6-6.8 0Z" fill="#7b7f93" transform="translate(37.2 33.1)rotate(74)"/><path d="M-7.4 0C-3.7-3.3 3.7-3.3 7.4 0C3.7 3.3-3.7 3.3-7.4 0Z" fill="#d1d8fa" transform="translate(39.6 172.7)rotate(-65)"/><path d="M-7.7 0C-3.9-3.4 3.9-3.4 7.7 0C3.9 3.4-3.9 3.4-7.7 0Z" fill="#878ba1" transform="translate(31.2 170.3)rotate(-38)"/><path d="M-7.1 0C-3.6-3.7 3.6-3.7 7.1 0C3.6 3.7-3.6 3.7-7.1 0Z" fill="#85899e" transform="translate(42.7 72.3)rotate(69)"/><path d="M-8.1 0C-4.1-4.2 4.1-4.2 8.1 0C4.1 4.2-4.1 4.2-8.1 0Z" fill="#acb2ce" transform="translate(36.7 64.5)rotate(-29)"/><path d="M-7.4 0C-3.7-3.6 3.7-3.6 7.4 0C3.7 3.6-3.7 3.6-7.4 0Z" fill="#a4aac5" transform="translate(47.6 40.8)rotate(4)"/><path d="M-6.8 0C-3.4-3.8 3.4-3.8 6.8 0C3.4 3.8-3.4 3.8-6.8 0Z" fill="#8e93aa" transform="translate(23.8 47.3)rotate(37)"/><path d="M-8.0 0C-4.0-4.0 4.0-4.0 8.0 0C4.0 4.0-4.0 4.0-8.0 0Z" fill="#8f93aa" transform="translate(5.9 143.7)rotate(-1)"/><path d="M-7.6 0C-3.8-3.5 3.8-3.5 7.6 0C3.8 3.5-3.8 3.5-7.6 0Z" fill="#a1a7c1" transform="translate(-0.7 77.4)rotate(-24)"/><path d="M-7.0 0C-3.5-3.6 3.5-3.6 7.0 0C3.5 3.6-3.5 3.6-7.0 0Z" fill="#ced5f6" transform="translate(18.0 141.5)rotate(47)"/><path d="M-7.8 0C-3.9-3.5 3.9-3.5 7.8 0C3.9 3.5-3.9 3.5-7.8 0Z" fill="#74788b" transform="translate(59.9 19.9)rotate(44)"/><path d="M-8.4 0C-4.2-4.1 4.2-4.1 8.4 0C4.2 4.1-4.2 4.1-8.4 0Z" fill="#ced5f6" transform="translate(42.5 143.6)rotate(-73)"/><path d="M-8.1 0C-4.1-3.3 4.1-3.3 8.1 0C4.1 3.3-4.1 3.3-8.1 0Z" fill="#d1d8fa" transform="translate(50.3 133.6)rotate(-31)"/><path d="M-6.6 0C-3.3-3.7 3.3-3.7 6.6 0C3.3 3.7-3.3 3.7-6.6 0Z" fill="#b5bbd9" transform="translate(39.6 188.3)rotate(-76)"/><path d="M-8.5 0C-4.2-3.5 4.2-3.5 8.5 0C4.2 3.5-4.2 3.5-8.5 0Z" fill="#c2c9e8" transform="translate(55.0 160.4)rotate(-34)"/><path d="M-7.8 0C-3.9-3.3 3.9-3.3 7.8 0C3.9 3.3-3.9 3.3-7.8 0Z" fill="#959ab2" transform="translate(17.9 191.8)rotate(56)"/><path d="M-8.5 0C-4.2-3.6 4.2-3.6 8.5 0C4.2 3.6-4.2 3.6-8.5 0Z" fill="#d3dbfd" transform="translate(41.4 181.1)rotate(-1)"/><path d="M-7.5 0C-3.8-4.0 3.8-4.0 7.5 0C3.8 4.0-3.8 4.0-7.5 0Z" fill="#bcc2e0" transform="translate(17.6 168.2)rotate(-33)"/><path d="M-8.4 0C-4.2-3.4 4.2-3.4 8.4 0C4.2 3.4-4.2 3.4-8.4 0Z" fill="#b6bcd9" transform="translate(20.1 61.9)rotate(-22)"/><path d="M-7.2 0C-3.6-4.2 3.6-4.2 7.2 0C3.6 4.2-3.6 4.2-7.2 0Z" fill="#9ca1ba" transform="translate(31.0 97.1)rotate(67)"/><path d="M-7.2 0C-3.6-4.2 3.6-4.2 7.2 0C3.6 4.2-3.6 4.2-7.2 0Z" fill="#83889d" transform="translate(24.9 65.2)rotate(-78)"/><path d="M-7.4 0C-3.7-3.8 3.7-3.8 7.4 0C3.7 3.8-3.7 3.8-7.4 0Z" fill="#b6bcda" transform="translate(30.5 27.0)rotate(-49)"/><path d="M-7.6 0C-3.8-3.6 3.8-3.6 7.6 0C3.8 3.6-3.8 3.6-7.6 0Z" fill="#bbc1df" transform="translate(7.4 93.9)rotate(-32)"/><path d="M-7.1 0C-3.5-3.7 3.5-3.7 7.1 0C3.5 3.7-3.5 3.7-7.1 0Z" fill="#6c7081" transform="translate(-2.6 107.3)rotate(37)"/><path d="M-6.7 0C-3.3-3.3 3.3-3.3 6.7 0C3.3 3.3-3.3 3.3-6.7 0Z" fill="#8d92a9" transform="translate(-1.4 157.4)rotate(-25)"/><path d="M-7.1 0C-3.5-3.9 3.5-3.9 7.1 0C3.5 3.9-3.5 3.9-7.1 0Z" fill="#a5abc6" transform="translate(13.0 66.4)rotate(72)"/><path d="M-7.8 0C-3.9-3.9 3.9-3.9 7.8 0C3.9 3.9-3.9 3.9-7.8 0Z" fill="#82879c" transform="translate(51.4 87.0)rotate(-19)"/><path d="M-7.1 0C-3.6-3.9 3.6-3.9 7.1 0C3.6 3.9-3.6 3.9-7.1 0Z" fill="#797e91" transform="translate(39.6 129.2)rotate(28)"/><path d="M-6.6 0C-3.3-3.3 3.3-3.3 6.6 0C3.3 3.3-3.3 3.3-6.6 0Z" fill="#808499" transform="translate(58.7 61.0)rotate(-22)"/><path d="M-7.5 0C-3.7-3.3 3.7-3.3 7.5 0C3.7 3.3-3.7 3.3-7.5 0Z" fill="#6d7183" transform="translate(-3.3 72.8)rotate(55)"/><path d="M-8.3 0C-4.1-3.2 4.1-3.2 8.3 0C4.1 3.2-4.1 3.2-8.3 0Z" fill="#797d90" transform="translate(41.4 103.2)rotate(6)"/><path d="M-6.8 0C-3.4-3.7 3.4-3.7 6.8 0C3.4 3.7-3.4 3.7-6.8 0Z" fill="#969bb3" transform="translate(38.2 85.7)rotate(25)"/><path d="M-7.0 0C-3.5-4.1 3.5-4.1 7.0 0C3.5 4.1-3.5 4.1-7.0 0Z" fill="#a2a7c1" transform="translate(5.5 100.9)rotate(22)"/><path d="M-7.9 0C-4.0-4.0 4.0-4.0 7.9 0C4.0 4.0-4.0 4.0-7.9 0Z" fill="#b0b6d3" transform="translate(38.3 80.7)rotate(-12)"/><path d="M-7.9 0C-3.9-3.2 3.9-3.2 7.9 0C3.9 3.2-3.9 3.2-7.9 0Z" fill="#8d91a8" transform="translate(54.7 169.7)rotate(-50)"/><path d="M-7.7 0C-3.9-4.3 3.9-4.3 7.7 0C3.9 4.3-3.9 4.3-7.7 0Z" fill="#797d91" transform="translate(2.2 83.8)rotate(34)"/><path d="M-8.2 0C-4.1-4.0 4.1-4.0 8.2 0C4.1 4.0-4.1 4.0-8.2 0Z" fill="#cfd6f7" transform="translate(12.0 80.4)rotate(74)"/><path d="M-7.5 0C-3.7-4.0 3.7-4.0 7.5 0C3.7 4.0-3.7 4.0-7.5 0Z" fill="#b0b6d2" transform="translate(45.4 109.6)rotate(39)"/><path d="M-7.5 0C-3.8-3.3 3.8-3.3 7.5 0C3.8 3.3-3.8 3.3-7.5 0Z" fill="#b5bbd8" transform="translate(17.9 99.1)rotate(-62)"/><path d="M-7.8 0C-3.9-4.0 3.9-4.0 7.8 0C3.9 4.0-3.9 4.0-7.8 0Z" fill="#b6bcd9" transform="translate(48.4 35.2)rotate(20)"/><path d="M-8.1 0C-4.1-3.4 4.1-3.4 8.1 0C4.1 3.4-4.1 3.4-8.1 0Z" fill="#8e93aa" transform="translate(24.4 114.6)rotate(16)"/><path d="M-8.2 0C-4.1-3.3 4.1-3.3 8.2 0C4.1 3.3-4.1 3.3-8.2 0Z" fill="#acb1cd" transform="translate(50.1 77.6)rotate(20)"/><path d="M-8.4 0C-4.2-3.8 4.2-3.8 8.4 0C4.2 3.8-4.2 3.8-8.4 0Z" fill="#8e93aa" transform="translate(33.2 60.5)rotate(28)"/><path d="M-8.2 0C-4.1-4.1 4.1-4.1 8.2 0C4.1 4.1-4.1 4.1-8.2 0Z" fill="#b2b8d5" transform="translate(35.2 156.3)rotate(70)"/><path d="M-7.1 0C-3.5-3.9 3.5-3.9 7.1 0C3.5 3.9-3.5 3.9-7.1 0Z" fill="#c4caea" transform="translate(56.7 109.2)rotate(-73)"/><path d="M-8.2 0C-4.1-3.8 4.1-3.8 8.2 0C4.1 3.8-4.1 3.8-8.2 0Z" fill="#6d7183" transform="translate(20.2 105.8)rotate(15)"/><path d="M-7.2 0C-3.6-3.8 3.6-3.8 7.2 0C3.6 3.8-3.6 3.8-7.2 0Z" fill="#c1c8e7" transform="translate(7.4 74.0)rotate(-9)"/><path d="M-7.3 0C-3.7-4.0 3.7-4.0 7.3 0C3.7 4.0-3.7 4.0-7.3 0Z" fill="#787c90" transform="translate(42.2 166.7)rotate(34)"/><path d="M-6.8 0C-3.4-4.2 3.4-4.2 6.8 0C3.4 4.2-3.4 4.2-6.8 0Z" fill="#6d7183" transform="translate(19.8 90.2)rotate(50)"/><path d="M-7.1 0C-3.6-4.0 3.6-4.0 7.1 0C3.6 4.0-3.6 4.0-7.1 0Z" fill="#74788a" transform="translate(39.2 193.4)rotate(-0)"/><path d="M-7.3 0C-3.7-4.0 3.7-4.0 7.3 0C3.7 4.0-3.7 4.0-7.3 0Z" fill="#a8aec9" transform="translate(2.3 126.9)rotate(-4)"/><path d="M-7.3 0C-3.6-3.6 3.6-3.6 7.3 0C3.6 3.6-3.6 3.6-7.3 0Z" fill="#c8cfef" transform="translate(14.0 121.0)rotate(-5)"/><path d="M-7.9 0C-3.9-3.2 3.9-3.2 7.9 0C3.9 3.2-3.9 3.2-7.9 0Z" fill="#cfd6f8" transform="translate(58.0 91.0)rotate(34)"/><path d="M-7.5 0C-3.7-3.4 3.7-3.4 7.5 0C3.7 3.4-3.7 3.4-7.5 0Z" fill="#7d8195" transform="translate(17.3 101.4)rotate(73)"/><path d="M-7.8 0C-3.9-3.6 3.9-3.6 7.8 0C3.9 3.6-3.9 3.6-7.8 0Z" fill="#9a9fb8" transform="translate(16.2 172.1)rotate(-50)"/><path d="M-8.1 0C-4.0-4.0 4.0-4.0 8.1 0C4.0 4.0-4.0 4.0-8.1 0Z" fill="#d1d8fa" transform="translate(9.6 53.0)rotate(71)"/><path d="M-7.8 0C-3.9-3.8 3.9-3.8 7.8 0C3.9 3.8-3.9 3.8-7.8 0Z" fill="#cbd2f3" transform="translate(39.6 124.5)rotate(58)"/><path d="M-6.7 0C-3.4-3.7 3.4-3.7 6.7 0C3.4 3.7-3.4 3.7-6.7 0Z" fill="#c5cbeb" transform="translate(-3.8 60.3)rotate(77)"/><path d="M-6.9 0C-3.4-3.8 3.4-3.8 6.9 0C3.4 3.8-3.4 3.8-6.9 0Z" fill="#868ba1" transform="translate(33.2 109.0)rotate(-51)"/><path d="M-7.6 0C-3.8-3.7 3.8-3.7 7.6 0C3.8 3.7-3.8 3.7-7.6 0Z" fill="#898ea4" transform="translate(28.9 102.9)rotate(-41)"/><path d="M-7.6 0C-3.8-3.2 3.8-3.2 7.6 0C3.8 3.2-3.8 3.2-7.6 0Z" fill="#7c8094" transform="translate(2.8 187.9)rotate(43)"/><path d="M-7.4 0C-3.7-3.5 3.7-3.5 7.4 0C3.7 3.5-3.7 3.5-7.4 0Z" fill="#888ca2" transform="translate(46.6 115.9)rotate(76)"/><path d="M-6.7 0C-3.4-3.2 3.4-3.2 6.7 0C3.4 3.2-3.4 3.2-6.7 0Z" fill="#979cb5" transform="translate(51.8 120.6)rotate(-15)"/><path d="M-8.3 0C-4.2-4.1 4.2-4.1 8.3 0C4.2 4.1-4.2 4.1-8.3 0Z" fill="#c2c8e7" transform="translate(13.6 137.2)rotate(71)"/><path d="M-7.8 0C-3.9-3.5 3.9-3.5 7.8 0C3.9 3.5-3.9 3.5-7.8 0Z" fill="#b3b9d6" transform="translate(30.6 71.4)rotate(-10)"/><path d="M-6.6 0C-3.3-3.3 3.3-3.3 6.6 0C3.3 3.3-3.3 3.3-6.6 0Z" fill="#7e8297" transform="translate(48.9 -1.6)rotate(-62)"/><path d="M-6.9 0C-3.4-3.3 3.4-3.3 6.9 0C3.4 3.3-3.4 3.3-6.9 0Z" fill="#7f8398" transform="translate(45.3 52.7)rotate(75)"/><path d="M-7.2 0C-3.6-4.1 3.6-4.1 7.2 0C3.6 4.1-3.6 4.1-7.2 0Z" fill="#9ca1bb" transform="translate(35.3 48.5)rotate(1)"/><path d="M-7.8 0C-3.9-3.7 3.9-3.7 7.8 0C3.9 3.7-3.9 3.7-7.8 0Z" fill="#ccd2f3" transform="translate(2.8 160.8)rotate(26)"/><path d="M-7.8 0C-3.9-4.0 3.9-4.0 7.8 0C3.9 4.0-3.9 4.0-7.8 0Z" fill="#9fa4bd" transform="translate(53.7 147.8)rotate(-77)"/><path d="M-8.2 0C-4.1-3.6 4.1-3.6 8.2 0C4.1 3.6-4.1 3.6-8.2 0Z" fill="#c1c7e6" transform="translate(17.2 150.9)rotate(-9)"/><path d="M-7.5 0C-3.8-4.2 3.8-4.2 7.5 0C3.8 4.2-3.8 4.2-7.5 0Z" fill="#b6bcd9" transform="translate(27.0 85.9)rotate(43)"/><path d="M-7.7 0C-3.8-4.2 3.8-4.2 7.7 0C3.8 4.2-3.8 4.2-7.7 0Z" fill="#cad1f2" transform="translate(53.2 100.6)rotate(-78)"/><path d="M-7.4 0C-3.7-4.1 3.7-4.1 7.4 0C3.7 4.1-3.7 4.1-7.4 0Z" fill="#a1a6c1" transform="translate(28.3 162.2)rotate(-23)"/><path d="M-6.9 0C-3.4-3.9 3.4-3.9 6.9 0C3.4 3.9-3.4 3.9-6.9 0Z" fill="#9499b1" transform="translate(28.0 175.5)rotate(-66)"/></g><rect x="56" width="16" height="192" fill="#6a665a"/><rect x="60" width="3" height="192" fill="#c8c4b0"/><rect width="6" height="192" fill="#222"/></symbol><symbol id="fish_yft" viewBox="0 0 60 60" preserveAspectRatio="none"><rect width="60" height="60" fill="#fff"/><path d="M7 32 C11 25 24 22 36 25 C42 26 46 28 49 30 L54 22 L52 31 L55 40 L49 33 C44 36 36 39 24 39 C14 39 9 36 7 32 Z" fill="#8a9a9c"/><path d="M7 32 C11 25 24 22 36 25 C42 26 46 28 49 30 C40 30 24 30 7 32 Z" fill="#2e3c3e"/><path d="M9 34 C16 37 30 38 44 34 C36 39 22 40 12 37 Z" fill="#c8d0d4"/><path d="M29 24.5 C31 19 35 15 40 13 C37 17 35 21 34 25 Z" fill="#3a4446"/><path d="M31 37 C34 41 38 44 43 45 C39 41 37 38 36 36 Z" fill="#4a5456"/></symbol><symbol id="fish_bet" viewBox="0 0 60 60" preserveAspectRatio="none"><rect width="60" height="60" fill="#fff"/><path d="M6 30 C10 22 26 20 38 25 C43 27 46 28 48 29 L53 22 L51 30 L54 38 L47 32 C42 35 32 39 20 38 C11 37 7 34 6 30 Z" fill="#6e7878"/><path d="M6 30 C10 22 26 20 38 25 C42 27 45 28 48 29 C38 29 22 29 6 30 Z" fill="#343e3e"/><path d="M10 33 C18 37 32 37 42 33 C34 38 20 39 12 36 Z" fill="#b8c0c0"/></symbol><symbol id="fish_skj" viewBox="0 0 60 60" preserveAspectRatio="none"><rect width="60" height="60" fill="#fff"/><path d="M6 31 C14 25 34 24 48 28 L55 22 L53 30 L55 38 L48 32 C34 36 14 37 6 31 Z" fill="#a8b8d4"/><path d="M7 30 C16 26 34 25 48 28 C36 28 18 29 7 30 Z" fill="#4c6490"/><path d="M12 33 C22 35 36 34 46 31 C36 35 22 36 12 33 Z" fill="#d8e0ec"/></symbol><symbol id="fish_other" viewBox="0 0 60 60" preserveAspectRatio="none"><rect width="60" height="60" fill="#fff"/><path d="M5 28 C12 24 24 23 34 26 C42 28 48 31 56 32 L50 34 C42 34 36 33 30 32 C20 33 10 32 5 28 Z" fill="#b0b8bc"/><path d="M6 27.5 C14 25 26 24 34 26 C26 26.5 16 27 6 27.5 Z" fill="#505a60"/><path d="M24 25 L30 20 L32 26 Z" fill="#505a60"/><path d="M14 31 L13 37 L18 31 Z" fill="#60686e"/><path d="M40 32 L42 36 L44 32 Z" fill="#60686e"/></symbol></defs>
<polyline points="546.7,540 546.7,571.6 1257.7,571.6 1257.7,640" fill="none" stroke="#e0619f" stroke-width="11.6" stroke-linejoin="miter"/>
<polyline points="940,1469.9 971,1469.9 971,596.4 1207.8,596.4 1207.8,640" fill="none" stroke="#9d89ef" stroke-width="11.6" stroke-linejoin="miter"/>
<polyline points="940,1494.9 996,1494.9 996,621.2 1158.6,621.2 1158.6,640" fill="none" stroke="#90acf8" stroke-width="11.6" stroke-linejoin="miter"/>
<rect x="1251.9" y="630" width="11.6" height="9" fill="#e0619f"/>
<polygon points="1274.9,638.7 1257.7,658.5 1240.5,638.7" fill="#e0619f" stroke="#e0619f" stroke-width="3" stroke-linejoin="round"/>
<rect x="1202" y="630" width="11.6" height="9" fill="#9d89ef"/>
<polygon points="1225,638.7 1207.8,658.5 1190.6,638.7" fill="#9d89ef" stroke="#9d89ef" stroke-width="3" stroke-linejoin="round"/>
<rect x="1152.8" y="630" width="11.6" height="9" fill="#90acf8"/>
<polygon points="1175.8,638.7 1158.6,658.5 1141.4,638.7" fill="#90acf8" stroke="#90acf8" stroke-width="3" stroke-linejoin="round"/>
<rect x="441.65" y="540" width="11.7" height="52.6" fill="#fbc045"/>
<polygon points="464.7,592.3 447.5,612.1 430.3,592.3" fill="#fbc045" stroke="#fbc045" stroke-width="3" stroke-linejoin="round"/>
<rect x="490.95" y="540" width="11.7" height="52.6" fill="#fa8b45"/>
<polygon points="514,592.3 496.8,612.1 479.6,592.3" fill="#fa8b45" stroke="#fa8b45" stroke-width="3" stroke-linejoin="round"/>
<rect x="424.05" y="915" width="11.9" height="50" fill="#9d89ef"/>
<polygon points="446.2,964.7 430,982.5 413.8,964.7" fill="#9d89ef" stroke="#9d89ef" stroke-width="3" stroke-linejoin="round"/>
<rect x="472.35" y="915" width="11.9" height="50" fill="#90acf8"/>
<polygon points="494.5,964.7 478.3,982.5 462.1,964.7" fill="#90acf8" stroke="#90acf8" stroke-width="3" stroke-linejoin="round"/>
<rect x="520.85" y="915" width="11.9" height="50" fill="#fbc045"/>
<polygon points="543,964.7 526.8,982.5 510.6,964.7" fill="#fbc045" stroke="#fbc045" stroke-width="3" stroke-linejoin="round"/>
<rect x="569.05" y="915" width="11.9" height="50" fill="#fa8b45"/>
<polygon points="591.2,964.7 575,982.5 558.8,964.7" fill="#fa8b45" stroke="#fa8b45" stroke-width="3" stroke-linejoin="round"/>
<rect x="55.5" y="36" width="894" height="513" rx="47" fill="#f1f1f1" stroke="#000" stroke-width="3" />
<text x="177" y="90" font-family="'Liberation Sans', sans-serif" font-size="40" font-weight="bold" text-anchor="start" fill="#000" textLength="625.6" lengthAdjust="spacingAndGlyphs" stroke="#000" stroke-width="0.35">2.1. Data Acquisition and Preprocessing</text>
<rect x="99.7" y="119.7" width="806.5" height="148.8" rx="25" fill="#d9d9d9" stroke="#000" stroke-width="2.5" />
<rect x="128" y="143.6" width="208.7" height="95.4" rx="13" fill="#c9c9c9" stroke="#111" stroke-width="2" />
<g transform="translate(130,160)" fill="none" stroke="#17135c" stroke-width="4.2" stroke-linejoin="miter"><path d="M27.9 16 V9.3 H40.7 V16"/><path d="M19.1 30.5 V16.1 H49.7 V30.5"/><path d="M10.4 32 L33.9 27 L58.5 32"/><path d="M10.4 31.2 L15.9 44.3 M58.5 31.2 L53 44.3"/><path d="M33.9 27.7 V33.8"/><path d="M7.9 50.6 L16.4 47.9 M52.2 47.9 L60.4 50.6"/><circle cx="34.2" cy="50.55" r="13.5" stroke-width="3.6"/></g>
<path transform="translate(130,160)" d="M32.3 57.8 V47.2 C31.2 48.3 29.9 48.9 28.6 49.2 V46.4 C30.6 45.8 32.2 44.6 33 43.3 H35.7 V57.8 Z" fill="#17135c"/>
<use href="#vessel1" x="210.3" y="153.1" width="117.6" height="66.8"/>
<rect x="210.3" y="153.1" width="117.6" height="66.8" rx="0" fill="none" stroke="#000" stroke-width="1.3" />
<use href="#vessel1" x="204.7" y="158.9" width="117.6" height="66.8"/>
<rect x="204.7" y="158.9" width="117.6" height="66.8" rx="0" fill="none" stroke="#000" stroke-width="1.3" />
<use href="#vessel1" x="199.1" y="164.7" width="117.6" height="66.8"/>
<rect x="199.1" y="164.7" width="117.6" height="66.8" rx="0" fill="none" stroke="#000" stroke-width="1.3" />
<rect x="371.7" y="143.6" width="208.7" height="95.4" rx="13" fill="#c9c9c9" stroke="#111" stroke-width="2" />
<g transform="translate(373.7,160)" fill="none" stroke="#17135c" stroke-width="4.2" stroke-linejoin="miter"><path d="M27.9 16 V9.3 H40.7 V16"/><path d="M19.1 30.5 V16.1 H49.7 V30.5"/><path d="M10.4 32 L33.9 27 L58.5 32"/><path d="M10.4 31.2 L15.9 44.3 M58.5 31.2 L53 44.3"/><path d="M33.9 27.7 V33.8"/><path d="M7.9 50.6 L16.4 47.9 M52.2 47.9 L60.4 50.6"/><circle cx="34.2" cy="50.55" r="13.5" stroke-width="3.6"/></g>
<text x="407.9" y="217.8" font-family="'Liberation Sans', sans-serif" font-size="19.5" font-weight="bold" text-anchor="middle" fill="#17135c" >2</text>
<use href="#vessel2" x="453.4" y="153.1" width="117.6" height="66.8"/>
<rect x="453.4" y="153.1" width="117.6" height="66.8" rx="0" fill="none" stroke="#000" stroke-width="1.3" />
<use href="#vessel2" x="447.8" y="158.9" width="117.6" height="66.8"/>
<rect x="447.8" y="158.9" width="117.6" height="66.8" rx="0" fill="none" stroke="#000" stroke-width="1.3" />
<use href="#vessel2" x="442.2" y="164.7" width="117.6" height="66.8"/>
<rect x="442.2" y="164.7" width="117.6" height="66.8" rx="0" fill="none" stroke="#000" stroke-width="1.3" />
<rect x="672.8" y="143.6" width="208.7" height="95.4" rx="13" fill="#c9c9c9" stroke="#111" stroke-width="2" />
<g transform="translate(674.8,160)" fill="none" stroke="#17135c" stroke-width="4.2" stroke-linejoin="miter"><path d="M27.9 16 V9.3 H40.7 V16"/><path d="M19.1 30.5 V16.1 H49.7 V30.5"/><path d="M10.4 32 L33.9 27 L58.5 32"/><path d="M10.4 31.2 L15.9 44.3 M58.5 31.2 L53 44.3"/><path d="M33.9 27.7 V33.8"/><path d="M7.9 50.6 L16.4 47.9 M52.2 47.9 L60.4 50.6"/><circle cx="34.2" cy="50.55" r="13.5" stroke-width="3.6"/></g>
<text x="709" y="217.8" font-family="'Liberation Sans', sans-serif" font-size="19.5" font-weight="bold" text-anchor="middle" fill="#17135c" >N</text>
<use href="#vesselN" x="754.5" y="153.1" width="117.6" height="66.8"/>
<rect x="754.5" y="153.1" width="117.6" height="66.8" rx="0" fill="none" stroke="#000" stroke-width="1.3" />
<use href="#vesselN" x="748.9" y="158.9" width="117.6" height="66.8"/>
<rect x="748.9" y="158.9" width="117.6" height="66.8" rx="0" fill="none" stroke="#000" stroke-width="1.3" />
<use href="#vesselN" x="743.3" y="164.7" width="117.6" height="66.8"/>
<rect x="743.3" y="164.7" width="117.6" height="66.8" rx="0" fill="none" stroke="#000" stroke-width="1.3" />
<rect x="614" y="189.1" width="5.2" height="5.2" rx="0" fill="#000" stroke="none" stroke-width="0" />
<rect x="623.4" y="189.1" width="5.2" height="5.2" rx="0" fill="#000" stroke="none" stroke-width="0" />
<rect x="632.8" y="189.1" width="5.2" height="5.2" rx="0" fill="#000" stroke="none" stroke-width="0" />
<path d="M184.5 297 L209 319.5 L233.5 297" fill="none" stroke="#000" stroke-width="5" stroke-linecap="round" stroke-linejoin="round"/>
<path d="M479.1 297 L503.6 319.5 L528.1 297" fill="none" stroke="#000" stroke-width="5" stroke-linecap="round" stroke-linejoin="round"/>
<path d="M774.3 297 L798.8 319.5 L823.3 297" fill="none" stroke="#000" stroke-width="5" stroke-linecap="round" stroke-linejoin="round"/>
<rect x="85" y="377" width="245" height="140" rx="28" fill="#fbc14a" stroke="#000" stroke-width="1.8" stroke-opacity="0.7"/>
<rect x="115.5" y="346.2" width="184" height="60.6" rx="30.3" fill="#fbc14a" stroke="#000" stroke-width="2.5" />
<g transform="translate(136.8,359.8) scale(0.98)" fill="none" stroke="#000" stroke-width="2.9" stroke-linecap="round"><rect x="1.45" y="1.45" width="31.7" height="31.9" rx="6"/><line x1="10.5" y1="19.6" x2="10.5" y2="27.6"/><line x1="17.4" y1="9.2" x2="17.4" y2="27.6"/><line x1="24.7" y1="16.1" x2="24.7" y2="27.6"/></g>
<rect x="178.6" y="363" width="3" height="26.7" rx="1.5" fill="#000" stroke="none" stroke-width="0" />
<g transform="translate(189.3,359.4) scale(1,0.98)" fill="none" stroke="#000" stroke-width="2.9" stroke-linecap="round"><ellipse cx="17.3" cy="6.3" rx="15.85" ry="4.85"/><path d="M1.45 6.3 V28.6 C1.45 31.6 8.5 33.75 17.3 33.75 C26.1 33.75 33.15 31.6 33.15 28.6 V6.3"/><path d="M1.45 17.5 C1.45 20.5 8.5 22.6 17.3 22.6 C26.1 22.6 33.15 20.5 33.15 17.5"/></g>
<text x="232" y="383.7" font-family="'Liberation Sans', sans-serif" font-size="19" font-weight="normal" text-anchor="start" fill="#111" >1.116</text>
<use href="#pile_yellow" x="127.9" y="417.3" width="168.7" height="62.5"/>
<rect x="127.9" y="417.3" width="168.7" height="62.5" rx="0" fill="none" stroke="#000" stroke-width="2.2" />
<use href="#pile_yellow" x="123.2" y="422.3" width="168.7" height="62.5"/>
<rect x="123.2" y="422.3" width="168.7" height="62.5" rx="0" fill="none" stroke="#000" stroke-width="2.2" />
<use href="#pile_yellow" x="118.5" y="427.3" width="168.7" height="62.5"/>
<rect x="118.5" y="427.3" width="168.7" height="62.5" rx="0" fill="none" stroke="#000" stroke-width="2.2" />
<rect x="380.8" y="377" width="245" height="140" rx="28" fill="#fb8a47" stroke="#000" stroke-width="1.8" stroke-opacity="0.7"/>
<rect x="409.82" y="346.2" width="184" height="60.6" rx="30.3" fill="#fb8a47" stroke="#000" stroke-width="2.5" />
<g transform="translate(432.6,359.8) scale(0.98)" fill="none" stroke="#000" stroke-width="2.9" stroke-linecap="round"><rect x="1.45" y="1.45" width="31.7" height="31.9" rx="6"/><line x1="10.5" y1="19.6" x2="10.5" y2="27.6"/><line x1="17.4" y1="9.2" x2="17.4" y2="27.6"/><line x1="24.7" y1="16.1" x2="24.7" y2="27.6"/></g>
<rect x="474.4" y="363" width="3" height="26.7" rx="1.5" fill="#000" stroke="none" stroke-width="0" />
<g transform="translate(485.1,359.4) scale(1,0.98)" fill="none" stroke="#000" stroke-width="2.9" stroke-linecap="round"><ellipse cx="17.3" cy="6.3" rx="15.85" ry="4.85"/><path d="M1.45 6.3 V28.6 C1.45 31.6 8.5 33.75 17.3 33.75 C26.1 33.75 33.15 31.6 33.15 28.6 V6.3"/><path d="M1.45 17.5 C1.45 20.5 8.5 22.6 17.3 22.6 C26.1 22.6 33.15 20.5 33.15 17.5"/></g>
<text x="535.5" y="383.7" font-family="'Liberation Sans', sans-serif" font-size="19" font-weight="normal" text-anchor="start" fill="#111" >279</text>
<use href="#pile_tuna" x="423.7" y="417.3" width="168.7" height="62.5"/>
<rect x="423.7" y="417.3" width="168.7" height="62.5" rx="0" fill="none" stroke="#000" stroke-width="2.2" />
<use href="#pile_tuna" x="419" y="422.3" width="168.7" height="62.5"/>
<rect x="419" y="422.3" width="168.7" height="62.5" rx="0" fill="none" stroke="#000" stroke-width="2.2" />
<use href="#pile_tuna" x="414.3" y="427.3" width="168.7" height="62.5"/>
<rect x="414.3" y="427.3" width="168.7" height="62.5" rx="0" fill="none" stroke="#000" stroke-width="2.2" />
<rect x="676.3" y="377" width="245" height="140" rx="28" fill="#e0609f" stroke="#000" stroke-width="1.8" stroke-opacity="0.7"/>
<rect x="703.84" y="346.2" width="184" height="60.6" rx="30.3" fill="#e0609f" stroke="#000" stroke-width="2.5" />
<g transform="translate(728.1,359.8) scale(0.98)" fill="none" stroke="#000" stroke-width="2.9" stroke-linecap="round"><rect x="1.45" y="1.45" width="31.7" height="31.9" rx="6"/><line x1="10.5" y1="19.6" x2="10.5" y2="27.6"/><line x1="17.4" y1="9.2" x2="17.4" y2="27.6"/><line x1="24.7" y1="16.1" x2="24.7" y2="27.6"/></g>
<rect x="769.9" y="363" width="3" height="26.7" rx="1.5" fill="#000" stroke="none" stroke-width="0" />
<g transform="translate(780.6,359.4) scale(1,0.98)" fill="none" stroke="#000" stroke-width="2.9" stroke-linecap="round"><ellipse cx="17.3" cy="6.3" rx="15.85" ry="4.85"/><path d="M1.45 6.3 V28.6 C1.45 31.6 8.5 33.75 17.3 33.75 C26.1 33.75 33.15 31.6 33.15 28.6 V6.3"/><path d="M1.45 17.5 C1.45 20.5 8.5 22.6 17.3 22.6 C26.1 22.6 33.15 20.5 33.15 17.5"/></g>
<text x="836" y="383.7" font-family="'Liberation Sans', sans-serif" font-size="19" font-weight="normal" text-anchor="start" fill="#111" >21</text>
<use href="#pile_tuna" x="719.2" y="417.3" width="168.7" height="62.5"/>
<rect x="719.2" y="417.3" width="168.7" height="62.5" rx="0" fill="none" stroke="#000" stroke-width="2.2" />
<use href="#pile_tuna" x="714.5" y="422.3" width="168.7" height="62.5"/>
<rect x="714.5" y="422.3" width="168.7" height="62.5" rx="0" fill="none" stroke="#000" stroke-width="2.2" />
<use href="#pile_tuna" x="709.8" y="427.3" width="168.7" height="62.5"/>
<rect x="709.8" y="427.3" width="168.7" height="62.5" rx="0" fill="none" stroke="#000" stroke-width="2.2" />
<rect x="55.5" y="615.5" width="894.5" height="310" rx="48" fill="#f1f1f1" stroke="#000" stroke-width="3" />
<text x="260" y="667.4" font-family="'Liberation Sans', sans-serif" font-size="40" font-weight="bold" text-anchor="start" fill="#000" textLength="460" lengthAdjust="spacingAndGlyphs" stroke="#000" stroke-width="0.35">2.2. Manual Image Annotation</text>
<rect x="130" y="717.7" width="240.6" height="119" rx="22" fill="#fb8a47" stroke="#000" stroke-width="1.8" stroke-opacity="0.7"/>
<use href="#pile_yellow" x="160.3" y="736" width="191.3" height="71.2"/>
<rect x="160.3" y="736" width="191.3" height="71.2" rx="0" fill="none" stroke="#000" stroke-width="2.2" />
<use href="#pile_yellow" x="155.1" y="741.8" width="191.3" height="71.2"/>
<rect x="155.1" y="741.8" width="191.3" height="71.2" rx="0" fill="none" stroke="#000" stroke-width="2.2" />
<use href="#pile_yellow" x="149.9" y="747.6" width="191.3" height="71.2"/>
<rect x="149.9" y="747.6" width="191.3" height="71.2" rx="0" fill="none" stroke="#000" stroke-width="2.2" />
<rect x="101.7" y="746" width="239.8" height="119" rx="22" fill="#fbc14a" stroke="#000" stroke-width="1.8" stroke-opacity="0.7"/>
<use href="#pile_yellow" x="131.1" y="764" width="191.3" height="71.2"/>
<rect x="131.1" y="764" width="191.3" height="71.2" rx="0" fill="none" stroke="#000" stroke-width="2.2" />
<use href="#pile_yellow" x="125.9" y="769.8" width="191.3" height="71.2"/>
<rect x="125.9" y="769.8" width="191.3" height="71.2" rx="0" fill="none" stroke="#000" stroke-width="2.2" />
<use href="#pile_yellow" x="120.7" y="775.6" width="191.3" height="71.2"/>
<rect x="120.7" y="775.6" width="191.3" height="71.2" rx="0" fill="none" stroke="#000" stroke-width="2.2" />
<path d="M398.5 781 L422 805.5 L398.5 830" fill="none" stroke="#000" stroke-width="5" stroke-linecap="round" stroke-linejoin="round"/>
<rect x="451.3" y="735" width="244.9" height="140.3" rx="28" fill="#9c88ee" stroke="#000" stroke-width="1.8" stroke-opacity="0.7"/>
<rect x="507" y="704.8" width="132.4" height="59.4" rx="29.7" fill="#9c88ee" stroke="#000" stroke-width="2.5" />
<g transform="translate(528.7,718.5) scale(1.01,0.96)" fill="none" stroke="#000" stroke-width="2.9" stroke-linecap="round"><ellipse cx="17.3" cy="6.3" rx="15.85" ry="4.85"/><path d="M1.45 6.3 V28.6 C1.45 31.6 8.5 33.75 17.3 33.75 C26.1 33.75 33.15 31.6 33.15 28.6 V6.3"/><path d="M1.45 17.5 C1.45 20.5 8.5 22.6 17.3 22.6 C26.1 22.6 33.15 20.5 33.15 17.5"/></g>
<text x="570" y="742" font-family="'Liberation Sans', sans-serif" font-size="19" font-weight="normal" text-anchor="start" fill="#111" >1.395</text>
<rect x="483.2" y="772" width="191.5" height="71.7" rx="0" fill="#fff" stroke="#333" stroke-width="1" />
<use href="#seg_h" x="485.8" y="774.6" width="186.3" height="66.5"/>
<rect x="477.6" y="777.5" width="191.5" height="71.7" rx="0" fill="#fff" stroke="#333" stroke-width="1" />
<use href="#seg_h" x="480.2" y="780.1" width="186.3" height="66.5"/>
<rect x="472" y="783" width="191.5" height="71.7" rx="0" fill="#fff" stroke="#333" stroke-width="1" />
<use href="#seg_h" x="474.6" y="785.6" width="186.3" height="66.5"/>
<rect x="721.3" y="797" width="25.7" height="5.6" rx="0" fill="#000" stroke="none" stroke-width="0" />
<rect x="721.3" y="809.2" width="25.7" height="5.6" rx="0" fill="#000" stroke="none" stroke-width="0" />
<rect x="772.9" y="728" width="146.8" height="163.5" rx="28" fill="#8dabf6" stroke="#000" stroke-width="1.8" stroke-opacity="0.7"/>
<rect x="775.3" y="688.6" width="141" height="60.2" rx="30" fill="#8dabf6" stroke="#000" stroke-width="2.5" />
<g transform="translate(796,701.3) scale(1.02,0.96)" fill="none" stroke="#000" stroke-width="2.9" stroke-linecap="round"><ellipse cx="17.3" cy="6.3" rx="15.85" ry="4.85"/><path d="M1.45 6.3 V28.6 C1.45 31.6 8.5 33.75 17.3 33.75 C26.1 33.75 33.15 31.6 33.15 28.6 V6.3"/><path d="M1.45 17.5 C1.45 20.5 8.5 22.6 17.3 22.6 C26.1 22.6 33.15 20.5 33.15 17.5"/></g>
<text x="836.5" y="725.7" font-family="'Liberation Sans', sans-serif" font-size="19.3" font-weight="normal" text-anchor="start" fill="#111" >24.078</text>
<rect x="821.3" y="757.9" width="60.2" height="59.5" rx="0" fill="#fff" stroke="#000" stroke-width="2.4" />
<rect x="815.8" y="763.4" width="60.2" height="59.5" rx="0" fill="#fff" stroke="#000" stroke-width="2.4" />
<rect x="810.3" y="768.9" width="60.2" height="59.5" rx="0" fill="#fff" stroke="#000" stroke-width="2.4" />
<use href="#fish_yft" x="811.8" y="770.4" width="57.2" height="56.5"/>
<rect x="818.8" y="835.6" width="66.4" height="27.5" rx="6" fill="#fff" stroke="#000" stroke-width="2.2" />
<rect x="813" y="841.3" width="66.4" height="27.5" rx="6" fill="#fff" stroke="#000" stroke-width="2.2" />
<rect x="807.2" y="847" width="66.4" height="27.5" rx="6" fill="#fff" stroke="#000" stroke-width="2.2" />
<text x="840.4" y="867.48" font-family="'Liberation Sans', sans-serif" font-size="18.7" font-weight="bold" text-anchor="middle" fill="#000" textLength="53" lengthAdjust="spacingAndGlyphs" >LABEL</text>
<rect x="55.5" y="987" width="895" height="1008.5" rx="66" fill="#f1f1f1" stroke="#000" stroke-width="3.2" />
<text x="424.4" y="1041.8" font-family="'Liberation Sans', sans-serif" font-size="38.5" font-weight="bold" text-anchor="start" fill="#000" textLength="149" lengthAdjust="spacingAndGlyphs" stroke="#000" stroke-width="0.35">2.3. &amp; 2.5.</text>
<text x="89.2" y="1092" font-family="'Liberation Sans', sans-serif" font-size="39" font-weight="bold" text-anchor="start" fill="#000" textLength="828.8" lengthAdjust="spacingAndGlyphs" stroke="#000" stroke-width="0.35">Automatic Segmentation and Classification of Fishes</text>
<rect x="135.4" y="1124.8" width="250.7" height="239.7" rx="14" fill="#9c88ee" stroke="#000" stroke-width="1.8" stroke-opacity="0.7"/>
<use href="#photo_v" x="173.3" y="1143.4" width="71.1" height="191.6"/>
<rect x="173.3" y="1143.4" width="71.1" height="191.6" rx="0" fill="none" stroke="#000" stroke-width="2.2" />
<use href="#photo_v" x="167.6" y="1148.7" width="71.1" height="191.6"/>
<rect x="167.6" y="1148.7" width="71.1" height="191.6" rx="0" fill="none" stroke="#000" stroke-width="2.2" />
<use href="#photo_v" x="161.9" y="1154" width="71.1" height="191.6"/>
<rect x="161.9" y="1154" width="71.1" height="191.6" rx="0" fill="none" stroke="#000" stroke-width="2.2" />
<rect x="287.8" y="1143.4" width="71.9" height="191.6" rx="0" fill="#fff" stroke="#333" stroke-width="1" />
<use href="#seg_v" x="290.2" y="1145.8" width="67.1" height="186.8"/>
<rect x="282.1" y="1148.7" width="71.9" height="191.6" rx="0" fill="#fff" stroke="#333" stroke-width="1" />
<use href="#seg_v" x="284.5" y="1151.1" width="67.1" height="186.8"/>
<rect x="276.4" y="1154" width="71.9" height="191.6" rx="0" fill="#fff" stroke="#333" stroke-width="1" />
<use href="#seg_v" x="278.8" y="1156.4" width="67.1" height="186.8"/>
<rect x="443.2" y="1123.8" width="120.3" height="619.8" rx="14" fill="#fb8a47" stroke="#000" stroke-width="1.8" stroke-opacity="0.7"/>
<use href="#photo_v" x="473.2" y="1143.4" width="71.5" height="192"/>
<rect x="473.2" y="1143.4" width="71.5" height="192" rx="0" fill="none" stroke="#000" stroke-width="2.2" />
<use href="#photo_v" x="467.5" y="1148.7" width="71.5" height="192"/>
<rect x="467.5" y="1148.7" width="71.5" height="192" rx="0" fill="none" stroke="#000" stroke-width="2.2" />
<use href="#photo_v" x="461.8" y="1154" width="71.5" height="192"/>
<rect x="461.8" y="1154" width="71.5" height="192" rx="0" fill="none" stroke="#000" stroke-width="2.2" />
<rect x="473.4" y="1380.8" width="71" height="190.8" rx="0" fill="#fff" stroke="#333" stroke-width="1" />
<use href="#seg_v" x="475.8" y="1383.2" width="66.2" height="186"/>
<rect x="467.7" y="1386.4" width="71" height="190.8" rx="0" fill="#fff" stroke="#333" stroke-width="1" />
<use href="#seg_v" x="470.1" y="1388.8" width="66.2" height="186"/>
<rect x="462" y="1392" width="71" height="190.8" rx="0" fill="#fff" stroke="#333" stroke-width="1" />
<use href="#seg_v" x="464.4" y="1394.4" width="66.2" height="186"/>
<rect x="483.2" y="1616.8" width="49.8" height="48.6" rx="0" fill="#fff" stroke="#000" stroke-width="2.4" />
<rect x="478.4" y="1622.1" width="49.8" height="48.6" rx="0" fill="#fff" stroke="#000" stroke-width="2.4" />
<rect x="473.6" y="1627.4" width="49.8" height="48.6" rx="0" fill="#fff" stroke="#000" stroke-width="2.4" />
<use href="#fish_yft" x="475.1" y="1628.9" width="46.8" height="45.6"/>
<rect x="476.2" y="1683.4" width="66" height="26.5" rx="6" fill="#fff" stroke="#000" stroke-width="2.2" />
<rect x="470.1" y="1689.2" width="66" height="26.5" rx="6" fill="#fff" stroke="#000" stroke-width="2.2" />
<rect x="464" y="1695" width="66" height="26.5" rx="6" fill="#fff" stroke="#000" stroke-width="2.2" />
<text x="497" y="1714.37" font-family="'Liberation Sans', sans-serif" font-size="17" font-weight="bold" text-anchor="middle" fill="#000" textLength="30" lengthAdjust="spacingAndGlyphs" >YFT</text>
<rect x="632.4" y="1124.9" width="226.9" height="239.3" rx="18" fill="#8dabf6" stroke="#000" stroke-width="1.8" stroke-opacity="0.7"/>
<rect x="674.8" y="1142" width="46" height="45" rx="0" fill="#fff" stroke="#000" stroke-width="2.4" />
<rect x="670.6" y="1146.3" width="46" height="45" rx="0" fill="#fff" stroke="#000" stroke-width="2.4" />
<rect x="666.4" y="1150.6" width="46" height="45" rx="0" fill="#fff" stroke="#000" stroke-width="2.4" />
<use href="#fish_bet" x="667.9" y="1152.1" width="43" height="42"/>
<rect x="668.2" y="1202.5" width="60.2" height="23.8" rx="6" fill="#fff" stroke="#000" stroke-width="2.2" />
<rect x="663.3" y="1207.5" width="60.2" height="23.8" rx="6" fill="#fff" stroke="#000" stroke-width="2.2" />
<rect x="658.4" y="1212.5" width="60.2" height="23.8" rx="6" fill="#fff" stroke="#000" stroke-width="2.2" />
<text x="688.5" y="1230.52" font-family="'Liberation Sans', sans-serif" font-size="17" font-weight="bold" text-anchor="middle" fill="#000" textLength="28.6" lengthAdjust="spacingAndGlyphs" >BET</text>
<rect x="778.6" y="1142" width="46" height="45" rx="0" fill="#fff" stroke="#000" stroke-width="2.4" />
<rect x="774.4" y="1146.3" width="46" height="45" rx="0" fill="#fff" stroke="#000" stroke-width="2.4" />
<rect x="770.2" y="1150.6" width="46" height="45" rx="0" fill="#fff" stroke="#000" stroke-width="2.4" />
<use href="#fish_skj" x="771.7" y="1152.1" width="43" height="42"/>
<rect x="772" y="1202.5" width="60.2" height="23.8" rx="6" fill="#fff" stroke="#000" stroke-width="2.2" />
<rect x="767.1" y="1207.5" width="60.2" height="23.8" rx="6" fill="#fff" stroke="#000" stroke-width="2.2" />
<rect x="762.2" y="1212.5" width="60.2" height="23.8" rx="6" fill="#fff" stroke="#000" stroke-width="2.2" />
<text x="792.3" y="1230.52" font-family="'Liberation Sans', sans-serif" font-size="17" font-weight="bold" text-anchor="middle" fill="#000" textLength="28" lengthAdjust="spacingAndGlyphs" >SKJ</text>
<rect x="674.8" y="1252.6" width="46" height="45" rx="0" fill="#fff" stroke="#000" stroke-width="2.4" />
<rect x="670.6" y="1256.9" width="46" height="45" rx="0" fill="#fff" stroke="#000" stroke-width="2.4" />
<rect x="666.4" y="1261.2" width="46" height="45" rx="0" fill="#fff" stroke="#000" stroke-width="2.4" />
<use href="#fish_yft" x="667.9" y="1262.7" width="43" height="42"/>
<rect x="668.2" y="1313.1" width="60.2" height="23.8" rx="6" fill="#fff" stroke="#000" stroke-width="2.2" />
<rect x="663.3" y="1318.1" width="60.2" height="23.8" rx="6" fill="#fff" stroke="#000" stroke-width="2.2" />
<rect x="658.4" y="1323.1" width="60.2" height="23.8" rx="6" fill="#fff" stroke="#000" stroke-width="2.2" />
<text x="688.5" y="1341.12" font-family="'Liberation Sans', sans-serif" font-size="17" font-weight="bold" text-anchor="middle" fill="#000" textLength="27" lengthAdjust="spacingAndGlyphs" >YFT</text>
<rect x="778.6" y="1252.6" width="46" height="45" rx="0" fill="#fff" stroke="#000" stroke-width="2.4" />
<rect x="774.4" y="1256.9" width="46" height="45" rx="0" fill="#fff" stroke="#000" stroke-width="2.4" />
<rect x="770.2" y="1261.2" width="46" height="45" rx="0" fill="#fff" stroke="#000" stroke-width="2.4" />
<use href="#fish_other" x="771.7" y="1262.7" width="43" height="42"/>
<rect x="772" y="1313.1" width="60.2" height="23.8" rx="6" fill="#fff" stroke="#000" stroke-width="2.2" />
<rect x="767.1" y="1318.1" width="60.2" height="23.8" rx="6" fill="#fff" stroke="#000" stroke-width="2.2" />
<rect x="762.2" y="1323.1" width="60.2" height="23.8" rx="6" fill="#fff" stroke="#000" stroke-width="2.2" />
<text x="792.3" y="1341.12" font-family="'Liberation Sans', sans-serif" font-size="17" font-weight="bold" text-anchor="middle" fill="#000" textLength="51" lengthAdjust="spacingAndGlyphs" >OTHER</text>
<rect x="256" y="1365" width="11" height="72.5" fill="#9d89ef"/>
<polygon points="278.2,1437.2 261.5,1455 244.8,1437.2" fill="#9d89ef" stroke="#9d89ef" stroke-width="3" stroke-linejoin="round"/>
<rect x="739.5" y="1365" width="12" height="72.4" fill="#90acf8"/>
<polygon points="762.2,1437.1 745.5,1455.9 728.8,1437.1" fill="#90acf8" stroke="#90acf8" stroke-width="3" stroke-linejoin="round"/>
<rect x="109" y="1460.3" width="303.5" height="281.8" rx="28" fill="#cccccc" stroke="#000" stroke-width="2.5" />
<text x="135.9" y="1497.2" font-family="'Liberation Sans', sans-serif" font-size="22.7" font-weight="normal" text-anchor="start" fill="#111" >Repeated cross-validation</text>
<rect x="142.4" y="1521.6" width="237" height="65.9" rx="25" fill="#8f7de8" stroke="#000" stroke-width="1.8" stroke-opacity="0.75"/>
<rect x="141.3" y="1650" width="237" height="65.8" rx="25" fill="#8f7de8" stroke="#000" stroke-width="1.8" stroke-opacity="0.75"/>
<g transform="translate(175.9,1554.7) scale(1)" fill="none" stroke="#000" stroke-width="3.4" stroke-linecap="round"><rect x="-14.4" y="-14.4" width="28.8" height="28.8" rx="6"/><rect x="-5.3" y="-5.3" width="10.6" height="10.6" rx="1.8" stroke-width="3.6"/><path d="M-5.7 -16.1 V-18.3 M5.7 -16.1 V-18.3 M-5.7 16.1 V18.3 M5.7 16.1 V18.3 M-16.1 -5.7 H-18.3 M-16.1 5.7 H-18.3 M16.1 -5.7 H18.3 M16.1 5.7 H18.3"/></g>
<g transform="translate(175.1,1683) scale(1)" fill="none" stroke="#000" stroke-width="3.4" stroke-linecap="round"><rect x="-14.4" y="-14.4" width="28.8" height="28.8" rx="6"/><rect x="-5.3" y="-5.3" width="10.6" height="10.6" rx="1.8" stroke-width="3.6"/><path d="M-5.7 -16.1 V-18.3 M5.7 -16.1 V-18.3 M-5.7 16.1 V18.3 M5.7 16.1 V18.3 M-16.1 -5.7 H-18.3 M-16.1 5.7 H-18.3 M16.1 -5.7 H18.3 M16.1 5.7 H18.3"/></g>
<text x="210.5" y="1563.4" font-family="'Liberation Sans', sans-serif" font-size="24.6" font-weight="normal" text-anchor="start" fill="#111" >Architecture 1</text>
<text x="207.1" y="1691.5" font-family="'Liberation Sans', sans-serif" font-size="24.6" font-weight="normal" text-anchor="start" fill="#111" >Architecture N</text>
<rect x="248.7" y="1616.2" width="5.2" height="5.2" rx="0" fill="#000" stroke="none" stroke-width="0" />
<rect x="258.9" y="1616.2" width="5.2" height="5.2" rx="0" fill="#000" stroke="none" stroke-width="0" />
<rect x="269.1" y="1616.2" width="5.2" height="5.2" rx="0" fill="#000" stroke="none" stroke-width="0" />
<rect x="594" y="1460.3" width="303.5" height="281.8" rx="28" fill="#cccccc" stroke="#000" stroke-width="2.5" />
<text x="620.9" y="1497.2" font-family="'Liberation Sans', sans-serif" font-size="22.7" font-weight="normal" text-anchor="start" fill="#111" >Repeated cross-validation</text>
<rect x="627.4" y="1521.6" width="237" height="65.9" rx="25" fill="#86a3f3" stroke="#000" stroke-width="1.8" stroke-opacity="0.75"/>
<rect x="626.3" y="1650" width="237" height="65.8" rx="25" fill="#86a3f3" stroke="#000" stroke-width="1.8" stroke-opacity="0.75"/>
<g transform="translate(658.96,1554.7) scale(1)" fill="none" stroke="#000" stroke-width="3.4" stroke-linecap="round"><rect x="-14.4" y="-14.4" width="28.8" height="28.8" rx="6"/><rect x="-5.3" y="-5.3" width="10.6" height="10.6" rx="1.8" stroke-width="3.6"/><path d="M-5.7 -16.1 V-18.3 M5.7 -16.1 V-18.3 M-5.7 16.1 V18.3 M5.7 16.1 V18.3 M-16.1 -5.7 H-18.3 M-16.1 5.7 H-18.3 M16.1 -5.7 H18.3 M16.1 5.7 H18.3"/></g>
<g transform="translate(658.16,1683) scale(1)" fill="none" stroke="#000" stroke-width="3.4" stroke-linecap="round"><rect x="-14.4" y="-14.4" width="28.8" height="28.8" rx="6"/><rect x="-5.3" y="-5.3" width="10.6" height="10.6" rx="1.8" stroke-width="3.6"/><path d="M-5.7 -16.1 V-18.3 M5.7 -16.1 V-18.3 M-5.7 16.1 V18.3 M5.7 16.1 V18.3 M-16.1 -5.7 H-18.3 M-16.1 5.7 H-18.3 M16.1 -5.7 H18.3 M16.1 5.7 H18.3"/></g>
<text x="694.53" y="1563.4" font-family="'Liberation Sans', sans-serif" font-size="24.6" font-weight="normal" text-anchor="start" fill="#111" >Architecture 1</text>
<text x="691.13" y="1691.5" font-family="'Liberation Sans', sans-serif" font-size="24.6" font-weight="normal" text-anchor="start" fill="#111" >Architecture N</text>
<rect x="733.7" y="1616.2" width="5.2" height="5.2" rx="0" fill="#000" stroke="none" stroke-width="0" />
<rect x="743.9" y="1616.2" width="5.2" height="5.2" rx="0" fill="#000" stroke="none" stroke-width="0" />
<rect x="754.1" y="1616.2" width="5.2" height="5.2" rx="0" fill="#000" stroke="none" stroke-width="0" />
<rect x="255.2" y="1743" width="12" height="39" fill="#9d89ef"/>
<polygon points="277.9,1781.7 261.2,1799.5 244.5,1781.7" fill="#9d89ef" stroke="#9d89ef" stroke-width="3" stroke-linejoin="round"/>
<rect x="497.2" y="1744" width="12" height="36" fill="#fa8b45"/>
<polygon points="520.4,1779.7 503.2,1799.5 486,1779.7" fill="#fa8b45" stroke="#fa8b45" stroke-width="3" stroke-linejoin="round"/>
<rect x="739.3" y="1743" width="12" height="38" fill="#90acf8"/>
<polygon points="762.5,1780.7 745.3,1799.5 728.1,1780.7" fill="#90acf8" stroke="#90acf8" stroke-width="3" stroke-linejoin="round"/>
<rect x="156.5" y="1802" width="209" height="66.8" rx="25" fill="#9c88ee" stroke="#000" stroke-width="1.8" stroke-opacity="0.75"/>
<g transform="translate(189.9,1835) scale(0.99)" fill="none" stroke="#000" stroke-width="3.4" stroke-linecap="round"><rect x="-14.4" y="-14.4" width="28.8" height="28.8" rx="6"/><rect x="-5.3" y="-5.3" width="10.6" height="10.6" rx="1.8" stroke-width="3.6"/><path d="M-5.7 -16.1 V-18.3 M5.7 -16.1 V-18.3 M-5.7 16.1 V18.3 M5.7 16.1 V18.3 M-16.1 -5.7 H-18.3 M-16.1 5.7 H-18.3 M16.1 -5.7 H18.3 M16.1 5.7 H18.3"/></g>
<g transform="translate(242.4,1835) scale(0.99)" fill="none" stroke="#000" stroke-width="3.4" stroke-linecap="round"><rect x="-14.4" y="-14.4" width="28.8" height="28.8" rx="6"/><rect x="-5.3" y="-5.3" width="10.6" height="10.6" rx="1.8" stroke-width="3.6"/><path d="M-5.7 -16.1 V-18.3 M5.7 -16.1 V-18.3 M-5.7 16.1 V18.3 M5.7 16.1 V18.3 M-16.1 -5.7 H-18.3 M-16.1 5.7 H-18.3 M16.1 -5.7 H18.3 M16.1 5.7 H18.3"/></g>
<g transform="translate(331.8,1835) scale(0.99)" fill="none" stroke="#000" stroke-width="3.4" stroke-linecap="round"><rect x="-14.4" y="-14.4" width="28.8" height="28.8" rx="6"/><rect x="-5.3" y="-5.3" width="10.6" height="10.6" rx="1.8" stroke-width="3.6"/><path d="M-5.7 -16.1 V-18.3 M5.7 -16.1 V-18.3 M-5.7 16.1 V18.3 M5.7 16.1 V18.3 M-16.1 -5.7 H-18.3 M-16.1 5.7 H-18.3 M16.1 -5.7 H18.3 M16.1 5.7 H18.3"/></g>
<rect x="274.7" y="1833.1" width="5.2" height="5.2" rx="0" fill="#000" stroke="none" stroke-width="0" />
<rect x="284.5" y="1833.1" width="5.2" height="5.2" rx="0" fill="#000" stroke="none" stroke-width="0" />
<rect x="294.3" y="1833.1" width="5.2" height="5.2" rx="0" fill="#000" stroke="none" stroke-width="0" />
<rect x="364" y="1829.5" width="11.5" height="12" fill="#9d89ef"/>
<polygon points="375.2,1818.05 396,1835.5 375.2,1852.95" fill="#9d89ef" stroke="#9d89ef" stroke-width="3" stroke-linejoin="round"/>
<rect x="398.5" y="1803.4" width="208" height="63.7" rx="15" fill="#cccccc" stroke="#000" stroke-width="2.5" />
<text x="417.3" y="1844" font-family="'Liberation Sans', sans-serif" font-size="24.7" font-weight="normal" text-anchor="start" fill="#111" >Model selection</text>
<rect x="629" y="1829.3" width="14" height="12" fill="#90acf8"/>
<polygon points="629.3,1818.1 609.5,1835.3 629.3,1852.5" fill="#90acf8" stroke="#90acf8" stroke-width="3" stroke-linejoin="round"/>
<rect x="641.4" y="1802.1" width="208" height="66.4" rx="25" fill="#8dabf6" stroke="#000" stroke-width="1.8" stroke-opacity="0.75"/>
<g transform="translate(674.5,1834.8) scale(0.99)" fill="none" stroke="#000" stroke-width="3.4" stroke-linecap="round"><rect x="-14.4" y="-14.4" width="28.8" height="28.8" rx="6"/><rect x="-5.3" y="-5.3" width="10.6" height="10.6" rx="1.8" stroke-width="3.6"/><path d="M-5.7 -16.1 V-18.3 M5.7 -16.1 V-18.3 M-5.7 16.1 V18.3 M5.7 16.1 V18.3 M-16.1 -5.7 H-18.3 M-16.1 5.7 H-18.3 M16.1 -5.7 H18.3 M16.1 5.7 H18.3"/></g>
<g transform="translate(727.1,1834.8) scale(0.99)" fill="none" stroke="#000" stroke-width="3.4" stroke-linecap="round"><rect x="-14.4" y="-14.4" width="28.8" height="28.8" rx="6"/><rect x="-5.3" y="-5.3" width="10.6" height="10.6" rx="1.8" stroke-width="3.6"/><path d="M-5.7 -16.1 V-18.3 M5.7 -16.1 V-18.3 M-5.7 16.1 V18.3 M5.7 16.1 V18.3 M-16.1 -5.7 H-18.3 M-16.1 5.7 H-18.3 M16.1 -5.7 H18.3 M16.1 5.7 H18.3"/></g>
<g transform="translate(816,1834.8) scale(0.99)" fill="none" stroke="#000" stroke-width="3.4" stroke-linecap="round"><rect x="-14.4" y="-14.4" width="28.8" height="28.8" rx="6"/><rect x="-5.3" y="-5.3" width="10.6" height="10.6" rx="1.8" stroke-width="3.6"/><path d="M-5.7 -16.1 V-18.3 M5.7 -16.1 V-18.3 M-5.7 16.1 V18.3 M5.7 16.1 V18.3 M-16.1 -5.7 H-18.3 M-16.1 5.7 H-18.3 M16.1 -5.7 H18.3 M16.1 5.7 H18.3"/></g>
<rect x="759.8" y="1832.9" width="5.2" height="5.2" rx="0" fill="#000" stroke="none" stroke-width="0" />
<rect x="769.05" y="1832.9" width="5.2" height="5.2" rx="0" fill="#000" stroke="none" stroke-width="0" />
<rect x="778.3" y="1832.9" width="5.2" height="5.2" rx="0" fill="#000" stroke="none" stroke-width="0" />
<rect x="450" y="1867" width="12" height="20.7" fill="#9d89ef"/>
<polygon points="472.2,1887.4 456,1905.2 439.8,1887.4" fill="#9d89ef" stroke="#9d89ef" stroke-width="3" stroke-linejoin="round"/>
<rect x="552.6" y="1867" width="12" height="20.7" fill="#90acf8"/>
<polygon points="574.8,1887.4 558.6,1905.2 542.4,1887.4" fill="#90acf8" stroke="#90acf8" stroke-width="3" stroke-linejoin="round"/>
<rect x="418.3" y="1907.7" width="68.3" height="67.7" rx="18" fill="#9c88ee" stroke="#000" stroke-width="1.8" stroke-opacity="0.75"/>
<g transform="translate(452.4,1941.5) scale(0.99)" fill="none" stroke="#000" stroke-width="3.4" stroke-linecap="round"><rect x="-14.4" y="-14.4" width="28.8" height="28.8" rx="6"/><rect x="-5.3" y="-5.3" width="10.6" height="10.6" rx="1.8" stroke-width="3.6"/><path d="M-5.7 -16.1 V-18.3 M5.7 -16.1 V-18.3 M-5.7 16.1 V18.3 M5.7 16.1 V18.3 M-16.1 -5.7 H-18.3 M-16.1 5.7 H-18.3 M16.1 -5.7 H18.3 M16.1 5.7 H18.3"/></g>
<rect x="521.3" y="1907.7" width="67.7" height="67.7" rx="18" fill="#8dabf6" stroke="#000" stroke-width="1.8" stroke-opacity="0.75"/>
<g transform="translate(555.1,1941.5) scale(0.99)" fill="none" stroke="#000" stroke-width="3.4" stroke-linecap="round"><rect x="-14.4" y="-14.4" width="28.8" height="28.8" rx="6"/><rect x="-5.3" y="-5.3" width="10.6" height="10.6" rx="1.8" stroke-width="3.6"/><path d="M-5.7 -16.1 V-18.3 M5.7 -16.1 V-18.3 M-5.7 16.1 V18.3 M5.7 16.1 V18.3 M-16.1 -5.7 H-18.3 M-16.1 5.7 H-18.3 M16.1 -5.7 H18.3 M16.1 5.7 H18.3"/></g>
<rect x="1016" y="662" width="384.5" height="1333.5" rx="56" fill="#f1f1f1" stroke="#000" stroke-width="3.2" />
<text x="1032.6" y="719.3" font-family="'Liberation Sans', sans-serif" font-size="38.5" font-weight="bold" text-anchor="start" fill="#000" textLength="346.7" lengthAdjust="spacingAndGlyphs" stroke="#000" stroke-width="0.35">2.6. Testing with AFOs</text>
<rect x="1088.1" y="750.5" width="240.6" height="120.5" rx="25" fill="#e0609f" stroke="#000" stroke-width="1.8" stroke-opacity="0.7"/>
<use href="#pile_tuna" x="1117.5" y="769" width="192.1" height="70.5"/>
<rect x="1117.5" y="769" width="192.1" height="70.5" rx="0" fill="none" stroke="#000" stroke-width="2.2" />
<use href="#pile_tuna" x="1112.2" y="774.9" width="192.1" height="70.5"/>
<rect x="1112.2" y="774.9" width="192.1" height="70.5" rx="0" fill="none" stroke="#000" stroke-width="2.2" />
<use href="#pile_tuna" x="1106.9" y="780.8" width="192.1" height="70.5"/>
<rect x="1106.9" y="780.8" width="192.1" height="70.5" rx="0" fill="none" stroke="#000" stroke-width="2.2" />
<rect x="1203" y="872" width="11.6" height="40.5" fill="#e0609f"/>
<polygon points="1226,912.2 1208.8,933 1191.6,912.2" fill="#e0609f" stroke="#e0609f" stroke-width="3" stroke-linejoin="round"/>
<rect x="1052.8" y="969" width="310.7" height="199" rx="28" fill="#9c88ee" stroke="#000" stroke-width="1.8" stroke-opacity="0.7"/>
<rect x="1173.6" y="934.4" width="68.8" height="68.6" rx="20" fill="#9c88ee" stroke="#000" stroke-width="2.5" />
<g transform="translate(1208,968.3) scale(1)" fill="none" stroke="#000" stroke-width="3.4" stroke-linecap="round"><rect x="-14.4" y="-14.4" width="28.8" height="28.8" rx="6"/><rect x="-5.3" y="-5.3" width="10.6" height="10.6" rx="1.8" stroke-width="3.6"/><path d="M-5.7 -16.1 V-18.3 M5.7 -16.1 V-18.3 M-5.7 16.1 V18.3 M5.7 16.1 V18.3 M-16.1 -5.7 H-18.3 M-16.1 5.7 H-18.3 M16.1 -5.7 H18.3 M16.1 5.7 H18.3"/></g>
<text x="1081.5" y="1032" font-family="'Liberation Sans', sans-serif" font-size="24.9" font-weight="normal" text-anchor="start" fill="#111" >Segmentation of fishes</text>
<use href="#pile_green" x="1109.2" y="1052.5" width="209.2" height="77.7"/>
<rect x="1109.2" y="1052.5" width="209.2" height="77.7" rx="0" fill="none" stroke="#000" stroke-width="2.2" />
<use href="#pile_green" x="1103.4" y="1058.4" width="209.2" height="77.7"/>
<rect x="1103.4" y="1058.4" width="209.2" height="77.7" rx="0" fill="none" stroke="#000" stroke-width="2.2" />
<use href="#pile_green" x="1097.6" y="1064.3" width="209.2" height="77.7"/>
<rect x="1097.6" y="1064.3" width="209.2" height="77.7" rx="0" fill="none" stroke="#000" stroke-width="2.2" />
<rect x="1177.2" y="1169" width="11.6" height="41.5" fill="#e0619f"/>
<polygon points="1200.7,1210.2 1183,1230 1165.3,1210.2" fill="#e0619f" stroke="#e0619f" stroke-width="3" stroke-linejoin="round"/>
<rect x="1227.2" y="1169" width="11.6" height="41.5" fill="#9d89ef"/>
<polygon points="1250.7,1210.2 1233,1230 1215.3,1210.2" fill="#9d89ef" stroke="#9d89ef" stroke-width="3" stroke-linejoin="round"/>
<rect x="1073.3" y="1232.7" width="269.2" height="64" rx="15" fill="#cccccc" stroke="#000" stroke-width="2.5" />
<text x="1090.7" y="1271" font-family="'Liberation Sans', sans-serif" font-size="24.8" font-weight="normal" text-anchor="start" fill="#111" >Tracking of segments</text>
<rect x="1202.3" y="1297" width="12" height="42" fill="#9d89ef"/>
<polygon points="1226,1338.7 1208.3,1358.5 1190.6,1338.7" fill="#9d89ef" stroke="#9d89ef" stroke-width="3" stroke-linejoin="round"/>
<rect x="1044.4" y="1396" width="328" height="199" rx="28" fill="#8dabf6" stroke="#000" stroke-width="1.8" stroke-opacity="0.7"/>
<rect x="1173.6" y="1361.3" width="68.8" height="68.6" rx="20" fill="#8dabf6" stroke="#000" stroke-width="2.5" />
<g transform="translate(1208,1395.6) scale(1)" fill="none" stroke="#000" stroke-width="3.4" stroke-linecap="round"><rect x="-14.4" y="-14.4" width="28.8" height="28.8" rx="6"/><rect x="-5.3" y="-5.3" width="10.6" height="10.6" rx="1.8" stroke-width="3.6"/><path d="M-5.7 -16.1 V-18.3 M5.7 -16.1 V-18.3 M-5.7 16.1 V18.3 M5.7 16.1 V18.3 M-16.1 -5.7 H-18.3 M-16.1 5.7 H-18.3 M16.1 -5.7 H18.3 M16.1 5.7 H18.3"/></g>
<text x="1063.4" y="1457.6" font-family="'Liberation Sans', sans-serif" font-size="24.9" font-weight="normal" text-anchor="start" fill="#111" >Classification of segments</text>
<use href="#pile_class" x="1109.2" y="1480.6" width="209.2" height="77.5"/>
<rect x="1109.2" y="1480.6" width="209.2" height="77.5" rx="0" fill="none" stroke="#000" stroke-width="2.2" />
<use href="#pile_class" x="1103.4" y="1486.8" width="209.2" height="77.5"/>
<rect x="1103.4" y="1486.8" width="209.2" height="77.5" rx="0" fill="none" stroke="#000" stroke-width="2.2" />
<use href="#pile_class" x="1097.6" y="1493" width="209.2" height="77.5"/>
<rect x="1097.6" y="1493" width="209.2" height="77.5" rx="0" fill="none" stroke="#000" stroke-width="2.2" />
<rect x="1152.75" y="1596" width="12.5" height="165.6" fill="#90acf8"/>
<polygon points="1176.7,1761.3 1159,1781.1 1141.3,1761.3" fill="#90acf8" stroke="#90acf8" stroke-width="3" stroke-linejoin="round"/>
<rect x="1193.4" y="1659.2" width="82.8" height="61.2" rx="30.6" fill="#e0609f" stroke="#000" stroke-width="2" stroke-opacity="0.75"/>
<g transform="translate(1217.7,1672) scale(1.01)" fill="none" stroke="#000" stroke-width="2.9" stroke-linecap="round"><rect x="1.45" y="1.45" width="31.7" height="31.9" rx="6"/><line x1="10.5" y1="19.6" x2="10.5" y2="27.6"/><line x1="17.4" y1="9.2" x2="17.4" y2="27.6"/><line x1="24.7" y1="16.1" x2="24.7" y2="27.6"/></g>
<rect x="1229.2" y="1721" width="12" height="40.6" fill="#e0609f"/>
<polygon points="1252.9,1761.3 1235.2,1781.1 1217.5,1761.3" fill="#e0609f" stroke="#e0609f" stroke-width="3" stroke-linejoin="round"/>
<rect x="1045.7" y="1783.9" width="325.3" height="188.1" rx="50" fill="#cbcbcb" stroke="#000" stroke-width="2.5" />
<rect x="1099.3" y="1810.8" width="218.2" height="134.6" rx="0" fill="#fff" stroke="none" stroke-width="0" />
<rect x="1137.92" y="1898" width="14.16" height="47.4" rx="0" fill="#ff0000" stroke="#cc0000" stroke-width="0.8" fill-opacity="0.45" stroke-opacity="0.5"/>
<rect x="1152.08" y="1817.3" width="14.16" height="128.1" rx="0" fill="#ff0000" stroke="#cc0000" stroke-width="0.8" fill-opacity="0.45" stroke-opacity="0.5"/>
<rect x="1166.24" y="1853.68" width="14.16" height="91.72" rx="0" fill="#ff0000" stroke="#cc0000" stroke-width="0.8" fill-opacity="0.45" stroke-opacity="0.5"/>
<rect x="1180.4" y="1917.22" width="14.16" height="28.18" rx="0" fill="#ff0000" stroke="#cc0000" stroke-width="0.8" fill-opacity="0.45" stroke-opacity="0.5"/>
<rect x="1194.56" y="1936.82" width="14.16" height="8.58" rx="0" fill="#ff0000" stroke="#cc0000" stroke-width="0.8" fill-opacity="0.45" stroke-opacity="0.5"/>
<rect x="1208.72" y="1942.84" width="14.16" height="2.56" rx="0" fill="#ff0000" stroke="#cc0000" stroke-width="0.8" fill-opacity="0.45" stroke-opacity="0.5"/>
<rect x="1222.88" y="1942.84" width="14.16" height="2.56" rx="0" fill="#ff0000" stroke="#cc0000" stroke-width="0.8" fill-opacity="0.45" stroke-opacity="0.5"/>
<rect x="1109.6" y="1901.97" width="14.16" height="43.43" rx="0" fill="#0000ff" stroke="#2020c0" stroke-width="0.8" fill-opacity="0.45" stroke-opacity="0.55"/>
<rect x="1123.76" y="1823.06" width="14.16" height="122.34" rx="0" fill="#0000ff" stroke="#2020c0" stroke-width="0.8" fill-opacity="0.45" stroke-opacity="0.55"/>
<rect x="1137.92" y="1826.91" width="14.16" height="118.49" rx="0" fill="#0000ff" stroke="#2020c0" stroke-width="0.8" fill-opacity="0.45" stroke-opacity="0.55"/>
<rect x="1152.08" y="1817.3" width="14.16" height="128.1" rx="0" fill="#0000ff" stroke="#2020c0" stroke-width="0.8" fill-opacity="0.45" stroke-opacity="0.55"/>
<rect x="1166.24" y="1845.99" width="14.16" height="99.41" rx="0" fill="#0000ff" stroke="#2020c0" stroke-width="0.8" fill-opacity="0.45" stroke-opacity="0.55"/>
<rect x="1180.4" y="1867.52" width="14.16" height="77.88" rx="0" fill="#0000ff" stroke="#2020c0" stroke-width="0.8" fill-opacity="0.45" stroke-opacity="0.55"/>
<rect x="1194.56" y="1885.32" width="14.16" height="60.08" rx="0" fill="#0000ff" stroke="#2020c0" stroke-width="0.8" fill-opacity="0.45" stroke-opacity="0.55"/>
<rect x="1208.72" y="1907.23" width="14.16" height="38.17" rx="0" fill="#0000ff" stroke="#2020c0" stroke-width="0.8" fill-opacity="0.45" stroke-opacity="0.55"/>
<rect x="1222.88" y="1933.36" width="14.16" height="12.04" rx="0" fill="#0000ff" stroke="#2020c0" stroke-width="0.8" fill-opacity="0.45" stroke-opacity="0.55"/>
<rect x="1237.04" y="1930.28" width="14.16" height="15.12" rx="0" fill="#0000ff" stroke="#2020c0" stroke-width="0.8" fill-opacity="0.45" stroke-opacity="0.55"/>
<rect x="1251.2" y="1939.38" width="14.16" height="6.02" rx="0" fill="#0000ff" stroke="#2020c0" stroke-width="0.8" fill-opacity="0.45" stroke-opacity="0.55"/>
<rect x="1265.36" y="1939.38" width="14.16" height="6.02" rx="0" fill="#0000ff" stroke="#2020c0" stroke-width="0.8" fill-opacity="0.45" stroke-opacity="0.55"/>
<rect x="1279.52" y="1942.84" width="14.16" height="2.56" rx="0" fill="#0000ff" stroke="#2020c0" stroke-width="0.8" fill-opacity="0.45" stroke-opacity="0.55"/>
<rect x="1293.68" y="1941.56" width="14.16" height="3.84" rx="0" fill="#0000ff" stroke="#2020c0" stroke-width="0.8" fill-opacity="0.45" stroke-opacity="0.55"/>
<rect x="1099.3" y="1810.8" width="218.2" height="134.6" rx="0" fill="none" stroke="#444" stroke-width="1.1" />
<line x1="1095.5" y1="1945.4" x2="1099.3" y2="1945.4" stroke="#333" stroke-width="1"/>
<text x="1091.5" y="1949.4" font-family="'Liberation Sans', sans-serif" font-size="11.2" font-weight="normal" text-anchor="end" fill="#222" >0.0</text>
<line x1="1095.5" y1="1919.78" x2="1099.3" y2="1919.78" stroke="#333" stroke-width="1"/>
<text x="1091.5" y="1923.78" font-family="'Liberation Sans', sans-serif" font-size="11.2" font-weight="normal" text-anchor="end" fill="#222" >0.2</text>
<line x1="1095.5" y1="1894.16" x2="1099.3" y2="1894.16" stroke="#333" stroke-width="1"/>
<text x="1091.5" y="1898.16" font-family="'Liberation Sans', sans-serif" font-size="11.2" font-weight="normal" text-anchor="end" fill="#222" >0.4</text>
<line x1="1095.5" y1="1868.54" x2="1099.3" y2="1868.54" stroke="#333" stroke-width="1"/>
<text x="1091.5" y="1872.54" font-family="'Liberation Sans', sans-serif" font-size="11.2" font-weight="normal" text-anchor="end" fill="#222" >0.6</text>
<line x1="1095.5" y1="1842.92" x2="1099.3" y2="1842.92" stroke="#333" stroke-width="1"/>
<text x="1091.5" y="1846.92" font-family="'Liberation Sans', sans-serif" font-size="11.2" font-weight="normal" text-anchor="end" fill="#222" >0.8</text>
<line x1="1095.5" y1="1817.3" x2="1099.3" y2="1817.3" stroke="#333" stroke-width="1"/>
<text x="1091.5" y="1821.3" font-family="'Liberation Sans', sans-serif" font-size="11.2" font-weight="normal" text-anchor="end" fill="#222" >1.0</text>
<line x1="1145" y1="1945.4" x2="1145" y2="1949.2" stroke="#333" stroke-width="1"/>
<text x="1145" y="1961.5" font-family="'Liberation Sans', sans-serif" font-size="11.2" font-weight="normal" text-anchor="middle" fill="#222" >40</text>
<line x1="1201.64" y1="1945.4" x2="1201.64" y2="1949.2" stroke="#333" stroke-width="1"/>
<text x="1201.64" y="1961.5" font-family="'Liberation Sans', sans-serif" font-size="11.2" font-weight="normal" text-anchor="middle" fill="#222" >60</text>
<line x1="1258.28" y1="1945.4" x2="1258.28" y2="1949.2" stroke="#333" stroke-width="1"/>
<text x="1258.28" y="1961.5" font-family="'Liberation Sans', sans-serif" font-size="11.2" font-weight="normal" text-anchor="middle" fill="#222" >80</text>
<line x1="1314.92" y1="1945.4" x2="1314.92" y2="1949.2" stroke="#333" stroke-width="1"/>
<text x="1314.92" y="1961.5" font-family="'Liberation Sans', sans-serif" font-size="11.2" font-weight="normal" text-anchor="middle" fill="#222" >100</text>
<line x1="1116.68" y1="1945.4" x2="1116.68" y2="1947.3" stroke="#444" stroke-width="0.8"/>
<line x1="1130.84" y1="1945.4" x2="1130.84" y2="1947.3" stroke="#444" stroke-width="0.8"/>
<line x1="1159.16" y1="1945.4" x2="1159.16" y2="1947.3" stroke="#444" stroke-width="0.8"/>
<line x1="1173.32" y1="1945.4" x2="1173.32" y2="1947.3" stroke="#444" stroke-width="0.8"/>
<line x1="1187.48" y1="1945.4" x2="1187.48" y2="1947.3" stroke="#444" stroke-width="0.8"/>
<line x1="1215.8" y1="1945.4" x2="1215.8" y2="1947.3" stroke="#444" stroke-width="0.8"/>
<line x1="1229.96" y1="1945.4" x2="1229.96" y2="1947.3" stroke="#444" stroke-width="0.8"/>
<line x1="1244.12" y1="1945.4" x2="1244.12" y2="1947.3" stroke="#444" stroke-width="0.8"/>
<line x1="1272.44" y1="1945.4" x2="1272.44" y2="1947.3" stroke="#444" stroke-width="0.8"/>
<line x1="1286.6" y1="1945.4" x2="1286.6" y2="1947.3" stroke="#444" stroke-width="0.8"/>
<line x1="1300.76" y1="1945.4" x2="1300.76" y2="1947.3" stroke="#444" stroke-width="0.8"/>
<rect x="1182.9" y="1816" width="129.4" height="34.5" rx="2" fill="#fff" stroke="#d0d0d0" stroke-width="0.8" fill-opacity="0.85"/>
<rect x="1186.3" y="1820.5" width="23.3" height="8.3" rx="0" fill="#ff8080" stroke="#e06060" stroke-width="0.6" />
<rect x="1186.3" y="1836.6" width="23.3" height="8.3" rx="0" fill="#8080ff" stroke="#6060e0" stroke-width="0.6" />
<text x="1217.7" y="1828.6" font-family="'Liberation Mono', monospace" font-size="9.9" font-weight="normal" text-anchor="start" fill="#222" >100.0% (1028kg)</text>
<text x="1217.7" y="1844.4" font-family="'Liberation Mono', monospace" font-size="9.9" font-weight="normal" text-anchor="start" fill="#222" >100.0% (1243kg)</text>
<rect x="966" y="35" width="432.7" height="393.7" rx="30" fill="#f9f9f9" stroke="#000" stroke-width="3" />
<rect x="990" y="58.8" width="56.7" height="20.2" rx="2" fill="#fcc74e" stroke="none" stroke-width="0" />
<text x="1063" y="75" font-family="'Liberation Sans', sans-serif" font-size="22.3" font-weight="normal" text-anchor="start" fill="#111" >Data used for model <tspan font-weight="bold">training</tspan></text>
<rect x="990" y="96.3" width="56.7" height="20.2" rx="2" fill="#fb8a48" stroke="none" stroke-width="0" />
<text x="1063" y="112.5" font-family="'Liberation Sans', sans-serif" font-size="22.3" font-weight="normal" text-anchor="start" fill="#111" >Data used for model <tspan font-weight="bold">validation</tspan></text>
<rect x="990" y="133.8" width="56.7" height="20.2" rx="2" fill="#e35f9e" stroke="none" stroke-width="0" />
<text x="1063" y="150" font-family="'Liberation Sans', sans-serif" font-size="22.3" font-weight="normal" text-anchor="start" fill="#111" >Data used for model <tspan font-weight="bold">testing</tspan></text>
<rect x="990" y="171.3" width="56.7" height="20.2" rx="2" fill="#9e8af0" stroke="none" stroke-width="0" />
<text x="1063" y="187.5" font-family="'Liberation Sans', sans-serif" font-size="22.3" font-weight="normal" text-anchor="start" fill="#111" ><tspan font-weight="bold">Segmentation</tspan> pipeline</text>
<rect x="990" y="208.8" width="56.7" height="20.2" rx="2" fill="#5e8df0" stroke="none" stroke-width="0" />
<text x="1063" y="225" font-family="'Liberation Sans', sans-serif" font-size="22.3" font-weight="normal" text-anchor="start" fill="#111" ><tspan font-weight="bold">Classification</tspan> pipeline</text>
<line x1="1118" y1="245.6" x2="1296" y2="245.6" stroke="#000" stroke-width="1.6"/>
<g transform="translate(1001,262.6) scale(1)" fill="none" stroke="#000" stroke-width="2.9" stroke-linecap="round"><rect x="1.45" y="1.45" width="31.7" height="31.9" rx="6"/><line x1="10.5" y1="19.6" x2="10.5" y2="27.6"/><line x1="17.4" y1="9.2" x2="17.4" y2="27.6"/><line x1="24.7" y1="16.1" x2="24.7" y2="27.6"/></g>
<g transform="translate(1001,314.5) scale(1,1)" fill="none" stroke="#000" stroke-width="2.9" stroke-linecap="round"><ellipse cx="17.3" cy="6.3" rx="15.85" ry="4.85"/><path d="M1.45 6.3 V28.6 C1.45 31.6 8.5 33.75 17.3 33.75 C26.1 33.75 33.15 31.6 33.15 28.6 V6.3"/><path d="M1.45 17.5 C1.45 20.5 8.5 22.6 17.3 22.6 C26.1 22.6 33.15 20.5 33.15 17.5"/></g>
<g transform="translate(1018.6,386) scale(1)" fill="none" stroke="#000" stroke-width="3.4" stroke-linecap="round"><rect x="-14.4" y="-14.4" width="28.8" height="28.8" rx="6"/><rect x="-5.3" y="-5.3" width="10.6" height="10.6" rx="1.8" stroke-width="3.6"/><path d="M-5.7 -16.1 V-18.3 M5.7 -16.1 V-18.3 M-5.7 16.1 V18.3 M5.7 16.1 V18.3 M-16.1 -5.7 H-18.3 M-16.1 5.7 H-18.3 M16.1 -5.7 H18.3 M16.1 5.7 H18.3"/></g>
<text x="1063" y="286.3" font-family="'Liberation Sans', sans-serif" font-size="22.3" font-weight="normal" text-anchor="start" fill="#111" >Manually collected catch data</text>
<text x="1063" y="339.5" font-family="'Liberation Sans', sans-serif" font-size="22.3" font-weight="normal" text-anchor="start" fill="#111" >N&#186; of images (videos in test)</text>
<text x="1063" y="393" font-family="'Liberation Sans', sans-serif" font-size="22.3" font-weight="normal" text-anchor="start" fill="#111" >Instance of a trained model</text>
</svg>
<div class="cap" style="top:2025.5px;word-spacing:-0.03px"><b>Figure 1. Workflow that outlines the pipeline for fish image analysis.</b> It begins with the collection and manual annotation of images, followed by model</div>
<div class="cap" style="top:2052.7px;word-spacing:1.49px">training using cross-validation to select the best-performing architecture. &nbsp;The selected model is then used to automatically segment and classify fish in</div>
<div class="cap" style="top:2079.9px">images. Finally, the pipeline is tested on real-world data. This process ensures robust and accurate fish identification.</div>
</body></html>
